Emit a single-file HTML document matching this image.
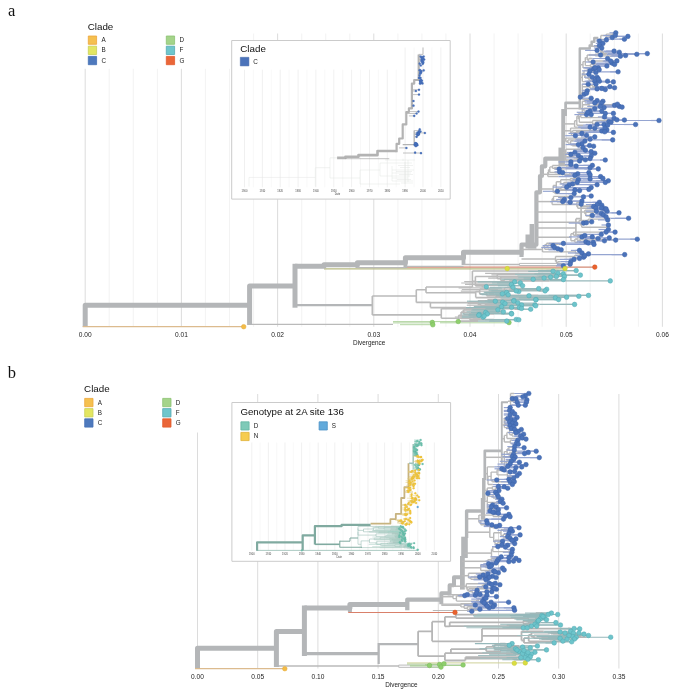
<!DOCTYPE html>
<html><head><meta charset="utf-8"><title>Figure</title><style>html,body{margin:0;padding:0;background:#fff;}body{width:685px;height:695px;overflow:hidden;font-family:"Liberation Sans",sans-serif;}.ss{font-family:"Liberation Sans",sans-serif;}.sf{font-family:"Liberation Serif",serif;}</style></head><body><svg width="685" height="695" viewBox="0 0 685 695" style="display:block;will-change:transform" shape-rendering="geometricPrecision" stroke-linejoin="round"><path d="M85.2,33.5L85.2,326.8" stroke="#d8d8d8" stroke-width="0.9" fill="none"/><path d="M109.2,33.5L109.2,326.8" stroke="#eeeeee" stroke-width="0.7" fill="none"/><path d="M133.3,33.5L133.3,326.8" stroke="#eeeeee" stroke-width="0.7" fill="none"/><path d="M157.4,33.5L157.4,326.8" stroke="#eeeeee" stroke-width="0.7" fill="none"/><path d="M181.4,33.5L181.4,326.8" stroke="#d8d8d8" stroke-width="0.9" fill="none"/><path d="M205.4,33.5L205.4,326.8" stroke="#eeeeee" stroke-width="0.7" fill="none"/><path d="M229.5,33.5L229.5,326.8" stroke="#eeeeee" stroke-width="0.7" fill="none"/><path d="M253.6,33.5L253.6,326.8" stroke="#eeeeee" stroke-width="0.7" fill="none"/><path d="M277.6,33.5L277.6,326.8" stroke="#d8d8d8" stroke-width="0.9" fill="none"/><path d="M301.7,33.5L301.7,326.8" stroke="#eeeeee" stroke-width="0.7" fill="none"/><path d="M325.7,33.5L325.7,326.8" stroke="#eeeeee" stroke-width="0.7" fill="none"/><path d="M349.8,33.5L349.8,326.8" stroke="#eeeeee" stroke-width="0.7" fill="none"/><path d="M373.8,33.5L373.8,326.8" stroke="#d8d8d8" stroke-width="0.9" fill="none"/><path d="M397.9,33.5L397.9,326.8" stroke="#eeeeee" stroke-width="0.7" fill="none"/><path d="M421.9,33.5L421.9,326.8" stroke="#eeeeee" stroke-width="0.7" fill="none"/><path d="M445.9,33.5L445.9,326.8" stroke="#eeeeee" stroke-width="0.7" fill="none"/><path d="M470,33.5L470,326.8" stroke="#d8d8d8" stroke-width="0.9" fill="none"/><path d="M494.1,33.5L494.1,326.8" stroke="#eeeeee" stroke-width="0.7" fill="none"/><path d="M518.1,33.5L518.1,326.8" stroke="#eeeeee" stroke-width="0.7" fill="none"/><path d="M542.1,33.5L542.1,326.8" stroke="#eeeeee" stroke-width="0.7" fill="none"/><path d="M566.2,33.5L566.2,326.8" stroke="#d8d8d8" stroke-width="0.9" fill="none"/><path d="M590.2,33.5L590.2,326.8" stroke="#eeeeee" stroke-width="0.7" fill="none"/><path d="M614.3,33.5L614.3,326.8" stroke="#eeeeee" stroke-width="0.7" fill="none"/><path d="M638.4,33.5L638.4,326.8" stroke="#eeeeee" stroke-width="0.7" fill="none"/><path d="M662.4,33.5L662.4,326.8" stroke="#d8d8d8" stroke-width="0.9" fill="none"/><rect x="79" y="14" width="158" height="54.8" fill="#fff" stroke="none" stroke-width="0"/><path d="M249.6,324.3H393" stroke="#bababa" stroke-width="1.2" fill="none" /><path d="M393,321.6H458.2M393,322.9H432.3M400,324.7H432.8M440,322.8H509" stroke="#b3d5a3" stroke-width="1" fill="none" /><path d="M324,268.8H565" stroke="#b7ba81" stroke-width="1.2" fill="none" /><path d="M405,267.2H594.8" stroke="#d38a75" stroke-width="1.2" fill="none" /><path d="M85.2,327V305.2H249.6" stroke="#b4b6b8" stroke-width="5" fill="none" stroke-linejoin="round"/><path d="M249.6,325V286H295" stroke="#b4b6b8" stroke-width="5" fill="none" /><path d="M295,307.7V263.8" stroke="#b4b6b8" stroke-width="5" fill="none" /><path d="M295,266.3H324V264.8H357.4V262.7H405.4V257.8H463.5V252.3H523.5" stroke="#b4b6b8" stroke-width="5" fill="none" /><path d="M521.5,257V244.7H536.4V192.3H540V176H541.9V166.3H545.3V158.6H560" stroke="#b4b6b8" stroke-width="4.2" fill="none" /><path d="M527.7,248.4V234.4M531.8,248.4V224.1M527.7,246.5H536.4" stroke="#b4b6b8" stroke-width="4.4" fill="none" /><path d="M563.2,148V109" stroke="#b4b6b8" stroke-width="3.9" fill="none" /><path d="M561.7,166.3V147.6" stroke="#b4b6b8" stroke-width="6.5" fill="none" /><path d="M565.6,116V102.9H581" stroke="#b4b6b8" stroke-width="2.7" fill="none" /><path d="M579.8,109.4V48.4H589.7V45.4H591.7V41.8H594.3V38.1H598.3" stroke="#b4b6b8" stroke-width="2.5" fill="none" /><path d="M357.4,262.7V268M405.4,257.8V268M463.5,252.3V265" stroke="#b4b6b8" stroke-width="3.8" fill="none" /><path d="M357.4,267.6H405.4M405.4,266.3H463.5M463.5,264.5H519.4" stroke="#bababa" stroke-width="1.3" fill="none" /><path d="M519.4,263.4H562M519.4,265.5H562M519.4,263.4V265.5" stroke="#bababa" stroke-width="1" fill="none" /><path d="M295,305.2H372" stroke="#b4b6b8" stroke-width="2.2" fill="none" /><path d="M82.7,326.7L243.6,326.7" stroke="#dcbb8e" stroke-width="1.2" fill="none"/><path d="M581.1,206.3V220.7M575.9,218.7V236M575.9,218.7H581.1M581.1,206.3H590M536.4,228H575.9" stroke="#bababa" stroke-width="1.7" fill="none" /><path d="M589.7,46.3L600.8,46.3" stroke="#bababa" stroke-width="1.5" fill="none"/><path d="M600.8,40.3V52.2M600.8,40.3H600.8M600.8,35.5V45.1M600.8,35.5H606.3M606.3,34.1V37M606.3,34.1H612.9M612.9,32.8V35.5M612.9,32.8H613.5M612.9,35.5H613.4M606.3,37H608.9M608.9,36.4V37.5M608.9,36.4H612.7M608.9,37.5H609.6M600.8,45.1H600.8M600.8,40.9V49.3M600.8,40.9H600.8M600.8,39.5V42.2M600.8,39.5H603.9M603.9,39.2V39.9M603.9,39.2H608M603.9,39.9H604.4M600.8,42.2H601.8M601.8,41V43.4M601.8,41H602M601.8,43.4H602.1M600.8,49.3H600.8M600.8,47.5V51.1M600.8,47.5H600.8M600.8,45.7V49.2M600.8,45.7H601.2M600.8,49.2H601.1M601.1,48V50.4M601.1,48H601.5M601.1,50.4H601.5M600.8,51.1H603.5M600.8,52.2H604.5" stroke="#bababa" stroke-width="1.4" fill="none" /><path d="M613.5,32.8H615.8M613.4,35.5H615.3M612.7,36.4H627.9M609.6,37.5H612.3M608,39.2H624.4M604.4,39.9H606.4M602,41H602.8M602.1,43.4H602.9M601.2,45.7H602.8M601.5,48H602.8M601.5,50.4H602.8M603.5,51.1H614.1M604.5,52.2H619.3" stroke="#95a5d1" stroke-width="1.2" fill="none" /><path d="M579.8,64.7L583,64.7" stroke="#bababa" stroke-width="1.5" fill="none"/><path d="M583,61.6V67.9M583,61.6H585.3M585.3,57.6V65.6M585.3,57.6H587.2M587.2,55V60.1M587.2,55H595.2M595.2,54.1V55.9M595.2,54.1H597.5M597.5,53.6V54.6M597.5,53.6H607.5M597.5,54.6H598.9M598.9,54.3V55M598.9,54.3H606.5M598.9,55H599.3M595.2,55.9H619.5M619.5,55.5V56.2M619.5,55.5H620.7M619.5,56.2H619.7M587.2,60.1H588.6M588.6,58.5V61.8M588.6,58.5H592.4M588.6,61.8H591.3M591.3,61V62.6M591.3,61H607.6M607.6,60.9V61.1M607.6,60.9H609.5M607.6,61.1H608.2M591.3,62.6H592.1M592.1,62V63.2M592.1,62H592.3M592.1,63.2H596.2M585.3,65.6H590.5M590.5,64.4V66.8M590.5,64.4H595.3M590.5,66.8H593.2M593.2,66V67.7M593.2,66H595.9M593.2,67.7H593.5M583,67.9H586" stroke="#bababa" stroke-width="1.4" fill="none" /><path d="M607.5,53.6H647.3M606.5,54.3H636.8M599.3,55H600.6M620.7,55.5H625.6M619.7,56.2H620.4M592.4,58.5H607.6M609.5,60.9H616.9M608.2,61.1H610.7M592.3,62H593.1M596.2,63.2H612.3M595.3,64.4H614.6M595.9,66H606.9M593.5,67.7H595M586,67.9H598.3" stroke="#95a5d1" stroke-width="1.2" fill="none" /><path d="M579.8,77.4L582.3,77.4" stroke="#bababa" stroke-width="1.5" fill="none"/><path d="M582.3,73.3V81.6M582.3,73.3H584M584,70.4V76.1M584,70.4H587.4M587.4,69.3V71.5M587.4,69.3H592M592,69V69.7M592,69H592.3M592,69.7H593.4M587.4,71.5H588.9M588.9,70.9V72.2M588.9,70.9H589.1M588.9,72.2H593.1M593.1,71.8V72.5M593.1,71.8H598.1M593.1,72.5H593.6M584,76.1H585.1M585.1,74.2V78.1M585.1,74.2H585.9M585.1,78.1H587.9M587.9,77.2V78.9M587.9,77.2H588.8M587.9,78.9H589.2M589.2,77.2V80.6M589.2,77.2H590.8M589.2,80.6H591.2M591.2,80.1V81.2M591.2,80.1H593.5M593.5,78.9V81.2M593.5,78.9H594.5M593.5,81.2H593.8M591.2,81.2H592.8M582.3,81.6H606.5M606.5,81.2V81.9M606.5,81.2H606.7M606.5,81.9H607.9" stroke="#bababa" stroke-width="1.4" fill="none" /><path d="M592.3,69H593.6M593.4,69.7H599.2M589.1,70.9H590M598.1,71.8H618.1M593.6,72.5H595.9M585.9,74.2H588.9M588.8,77.2H592.4M590.8,77.2H597.1M594.5,78.9H598.3M593.8,81.2H594.8M592.8,81.2H599.4M606.7,81.2H607.6M607.9,81.9H613.4" stroke="#95a5d1" stroke-width="1.2" fill="none" /><path d="M579.8,93.1L582.3,93.1" stroke="#bababa" stroke-width="1.5" fill="none"/><path d="M582.3,86.9V99.4M582.3,86.9H582.3M582.3,84.2V89.6M582.3,84.2H583.5M582.3,89.6H582.3M582.3,86.8V92.3M582.3,86.8H589.9M589.9,85.4V88.2M589.9,85.4H592.4M592.4,84.2V86.6M592.4,84.2H593.1M592.4,86.6H595.9M589.9,88.2H592.3M592.3,87.7V88.7M592.3,87.7H596.8M592.3,88.7H595.8M595.8,88.4V88.9M595.8,88.4H597M595.8,88.9H596.1M582.3,92.3H582.3M582.3,90.2V94.5M582.3,90.2H586.4M586.4,89.6V90.8M586.4,89.6H590.2M586.4,90.8H586.6M582.3,94.5H582.3M582.3,93.3V95.7M582.3,93.3H583.1M582.3,95.7H582.3M582.3,94.3V97.1M582.3,94.3H582.7M582.3,97.1H582.7M582.3,99.4H590.2M590.2,98.2V100.6M590.2,98.2H590.4M590.2,100.6H591.5" stroke="#bababa" stroke-width="1.4" fill="none" /><path d="M583.5,84.2H588.2M593.1,84.2H595.9M595.9,86.6H609.9M596.8,87.7H614.6M597,88.4H601.8M596.1,88.9H597.1M590.2,89.6H605.3M586.6,90.8H587.3M583.1,93.3H586.5M582.7,94.3H584.3M582.7,97.1H584.3M590.4,98.2H591.2M591.5,100.6H597.1" stroke="#95a5d1" stroke-width="1.2" fill="none" /><path d="M565.4,108.5L582.3,108.5" stroke="#bababa" stroke-width="1.5" fill="none"/><path d="M582.3,104.2V112.8M582.3,104.2H582.3M582.3,101.3V107.2M582.3,101.3H586.4M582.3,107.2H582.6M582.6,104.7V109.6M582.6,104.7H589.1M589.1,103V106.3M589.1,103H592.3M592.3,102.9V103.1M592.3,102.9H592.8M592.3,103.1H594.2M589.1,106.3H594.7M594.7,105.6V107.1M594.7,105.6H595.9M595.9,104.8V106.4M595.9,104.8H611.6M611.6,104.2V105.3M611.6,104.2H612.7M611.6,105.3H612.2M595.9,106.4H597.2M597.2,106.4V106.4M597.2,106.4H601.6M597.2,106.4H597.8M594.7,107.1H600.1M582.6,109.6H584M584,108.2V111.1M584,108.2H592M592,107.6V108.8M592,107.6H594.5M592,108.8H592.6M584,111.1H587.3M587.3,111.1V111.1M587.3,111.1H587.9M587.3,111.1H590.2M582.3,112.8H585.5M585.5,112.3V113.4M585.5,112.3H586M585.5,113.4H589.4" stroke="#bababa" stroke-width="1.4" fill="none" /><path d="M586.4,101.3H602.9M592.8,102.9H594.8M594.2,103.1H601.6M612.7,104.2H617.4M612.2,105.3H614.6M601.6,106.4H619.3M597.8,106.4H600.3M600.1,107.1H622.1M594.5,107.6H604.1M592.6,108.8H594.8M587.9,111.1H590.1M590.2,111.1H601.8M586,112.3H587.9M589.4,113.4H605.3" stroke="#95a5d1" stroke-width="1.2" fill="none" /><path d="M563.2,123.9L574.6,123.9" stroke="#bababa" stroke-width="1.5" fill="none"/><path d="M574.6,120.7V127.1M574.6,120.7H576.8M576.8,116.3V125.2M576.8,116.3H578.4M578.4,113.4V119.1M578.4,113.4H585.4M578.4,119.1H579.3M579.3,116.1V122.2M579.3,116.1H580.8M580.8,114.6V117.6M580.8,114.6H583.8M583.8,114.6V114.6M583.8,114.6H584.4M583.8,114.6H585.3M580.8,117.6H603.1M603.1,116.9V118.2M603.1,116.9H603.4M603.1,118.2H605.3M579.3,122.2H592.6M592.6,120.5V123.9M592.6,120.5H605.6M605.6,119.9V121.1M605.6,119.9H614.7M614.7,119.8V120M614.7,119.8H615.1M614.7,120H616.6M605.6,121.1H607.7M607.7,120.5V121.7M607.7,120.5H617.9M607.7,121.7H607.9M592.6,123.9H594.6M594.6,123.3V124.5M594.6,123.3H595.5M595.5,122.1V124.5M595.5,122.1H598.7M595.5,124.5H595.9M594.6,124.5H601.3M601.3,124.5V124.5M601.3,124.5H601.8M601.3,124.5H608.1M576.8,125.2H583M574.6,127.1H577.7" stroke="#bababa" stroke-width="1.4" fill="none" /><path d="M585.4,113.4H613.4M584.4,114.6H586.6M585.3,114.6H591.2M603.4,116.9H604.6M605.3,118.2H614.1M615.1,119.8H616.9M616.6,120H624.4M617.9,120.5H659M607.9,121.7H608.8M598.7,122.1H611.1M595.9,124.5H597.1M601.8,124.5H604.1M608.1,124.5H635.6M583,125.2H607.6M577.7,127.1H590.1" stroke="#95a5d1" stroke-width="1.2" fill="none" /><path d="M563.2,130.8L570.6,130.8" stroke="#bababa" stroke-width="1.5" fill="none"/><path d="M570.6,128.1V133.4M570.6,128.1H593M593,128.1V128.2M593,128.1H595.4M593,128.2H593.4M570.6,133.4H571.5M571.5,131.4V135.4M571.5,131.4H572.6M572.6,130.4V132.4M572.6,130.4H599.4M599.4,129.9V131M599.4,129.9H600.9M599.4,131H599.9M572.6,132.4H575.9M575.9,131.8V132.9M575.9,131.8H581.7M575.9,132.9H578.6M578.6,132.4V133.4M578.6,132.4H585.6M578.6,133.4H579.3M571.5,135.4H573M573,135.2V135.7M573,135.2H575.7M573,135.7H573.5" stroke="#bababa" stroke-width="1.4" fill="none" /><path d="M595.4,128.1H604.9M593.4,128.2H594.8M600.9,129.9H606.9M599.9,131H601.8M581.7,131.8H604.7M585.6,132.4H613.4M579.3,133.4H581.9M575.7,135.2H586.6M573.5,135.7H575.4" stroke="#95a5d1" stroke-width="1.2" fill="none" /><path d="M563.2,139.8L565.7,139.8" stroke="#bababa" stroke-width="1.5" fill="none"/><path d="M565.7,138.1V141.5M565.7,138.1H588.9M588.9,136.9V139.2M588.9,136.9H590.1M588.9,139.2H589.2M565.7,141.5H567.9M567.9,139.9V143.1M567.9,139.9H576.9M567.9,143.1H570.6M570.6,141.1V145.1M570.6,141.1H573.5M570.6,145.1H572.3M572.3,144.2V145.8M572.3,144.2H575.6M575.6,143.9V144.6M575.6,143.9H576.9M575.6,144.6H576.2M572.3,145.8H586.7M586.7,145.5V146.2M586.7,145.5H587.2M586.7,146.2H588" stroke="#bababa" stroke-width="1.4" fill="none" /><path d="M590.1,136.9H594.8M589.2,139.2H590.1M576.9,139.9H612.7M573.5,141.1H584.9M576.9,143.9H581.9M576.2,144.6H578.4M587.2,145.5H589.6M588,146.2H593.6" stroke="#95a5d1" stroke-width="1.2" fill="none" /><path d="M563.2,152.7L565.7,152.7" stroke="#bababa" stroke-width="1.5" fill="none"/><path d="M565.7,149.3V156.1M565.7,149.3H580.6M580.6,147.8V150.9M580.6,147.8H581.1M580.6,150.9H583.1M583.1,150.2V151.6M583.1,150.2H583.5M583.1,151.6H584.7M565.7,156.1H565.7M565.7,153.6V158.7M565.7,153.6H569.9M569.9,152.8V154.4M569.9,152.8H572.5M572.5,152.5V153.2M572.5,152.5H572.9M572.5,153.2H576.9M569.9,154.4H570.1M565.7,158.7H565.7M565.7,156.7V160.7M565.7,156.7H573.8M573.8,155.6V157.8M573.8,155.6H574.7M573.8,157.8H576.6M576.6,156.9V158.6M576.6,156.9H578.4M578.4,156V157.9M578.4,156H581M578.4,157.9H579M576.6,158.6H579.3M565.7,160.7H566.5M566.5,159.9V161.4M566.5,159.9H583.4M583.4,159.8V160M583.4,159.8H583.8M583.4,160H587.8M566.5,161.4H568.7M568.7,160.9V161.9M568.7,160.9H570.9M568.7,161.9H569.1" stroke="#bababa" stroke-width="1.4" fill="none" /><path d="M581.1,147.8H583.1M583.5,150.2H585.4M584.7,151.6H591.2M572.9,152.5H574.9M576.9,153.2H594.8M570.1,154.4H570.9M574.7,155.6H578.4M581,156H591.2M579,157.9H581.2M579.3,158.6H590.1M583.8,159.8H585.4M587.8,160H605.3M570.9,160.9H579.6M569.1,161.9H570.9" stroke="#95a5d1" stroke-width="1.2" fill="none" /><path d="M541.9,174.3L547.8,174.3" stroke="#bababa" stroke-width="1.5" fill="none"/><path d="M547.8,172.1V176.6M547.8,172.1H548.5M548.5,169.7V174.5M548.5,169.7H549.8M549.8,166.9V172.4M549.8,166.9H552.4M552.4,165.5V168.3M552.4,165.5H565.9M565.9,164.9V166.1M565.9,164.9H567.7M567.7,164.4V165.4M567.7,164.4H568.3M567.7,165.4H572.6M565.9,166.1H567.9M552.4,168.3H554.2M554.2,167.7V169M554.2,167.7H561.4M554.2,169H557M557,168.9V169.1M557,168.9H565.3M557,169.1H557.4M549.8,172.4H554.8M554.8,172.2V172.6M554.8,172.2H556.5M556.5,171.9V172.6M556.5,171.9H557.1M556.5,172.6H557.7M554.8,172.6H561.6M548.5,174.5H569.1M569.1,173.8V175.2M569.1,173.8H570.8M569.1,175.2H571.9M571.9,174.9V175.4M571.9,174.9H575.6M571.9,175.4H572.5M547.8,176.6H558.4" stroke="#bababa" stroke-width="1.4" fill="none" /><path d="M568.3,164.4H570.9M572.6,165.4H592.4M567.9,166.1H576.1M561.4,167.7H590.1M565.3,168.9H598.3M557.4,169.1H559.2M557.1,171.9H559.7M557.7,172.6H562.7M561.6,172.6H588.9M570.8,173.8H577.7M575.6,174.9H590.1M572.5,175.4H574.9M558.4,176.6H600.6" stroke="#95a5d1" stroke-width="1.2" fill="none" /><path d="M540,189L553.2,189" stroke="#bababa" stroke-width="1.5" fill="none"/><path d="M553.2,185.5V192.4M553.2,185.5H556.3M556.3,181.7V189.3M556.3,181.7H560.7M560.7,179.8V183.6M560.7,179.8H570.1M570.1,178.8V180.8M570.1,178.8H573.2M573.2,178.4V179.2M573.2,178.4H579.1M573.2,179.2H576.3M576.3,178.9V179.6M576.3,178.9H579M576.3,179.6H576.7M570.1,180.8H577.7M560.7,183.6H563.7M563.7,182.4V184.8M563.7,182.4H573.8M573.8,182.4V182.4M573.8,182.4H580.1M573.8,182.4H574.5M563.7,184.8H567M567,184.3V185.2M567,184.3H571.5M571.5,184V184.7M571.5,184H571.7M571.5,184.7H576.6M567,185.2H567.4M556.3,189.3H557.9M557.9,188.4V190.2M557.9,188.4H560.9M560.9,187.3V189.4M560.9,187.3H564M564,187.1V187.6M564,187.1H564.5M564,187.6H569.4M560.9,189.4H566.5M557.9,190.2H573.2M573.2,189.9V190.6M573.2,189.9H573.6M573.2,190.6H574.5M553.2,192.4H554.8M554.8,191.3V193.6M554.8,191.3H555.3M554.8,193.6H558.7" stroke="#bababa" stroke-width="1.4" fill="none" /><path d="M579.1,178.4H602.9M579,178.9H590.1M576.7,179.6H578.4M577.7,180.8H608.3M580.1,182.4H605.3M574.5,182.4H577.2M571.7,184H572.6M576.6,184.7H597.1M567.4,185.2H569.1M564.5,187.1H566.7M569.4,187.6H591.2M566.5,189.4H588.9M573.6,189.9H574.9M574.5,190.6H579.6M555.3,191.3H557.4M558.7,193.6H574.2" stroke="#95a5d1" stroke-width="1.2" fill="none" /><path d="M536.4,201.6L552.1,201.6" stroke="#bababa" stroke-width="1.5" fill="none"/><path d="M552.1,198.7V204.5M552.1,198.7H553.5M553.5,196.4V200.9M553.5,196.4H581M581,196V196.9M581,196H583M581,196.9H581.5M553.5,200.9H556.9M556.9,199.8V201.9M556.9,199.8H560.5M560.5,198.6V201.1M560.5,198.6H563.5M563.5,197.6V199.5M563.5,197.6H565M563.5,199.5H563.7M560.5,201.1H564.8M556.9,201.9H559.9M559.9,201.6V202.3M559.9,201.6H560.5M559.9,202.3H562M552.1,204.5H576.8M576.8,202.3V206.7M576.8,202.3H581.3M576.8,206.7H577.7M577.7,205.1V208.3M577.7,205.1H579.9M579.9,204.1V206.1M579.9,204.1H580.2M579.9,206.1H590.2M590.2,204.9V207.2M590.2,204.9H593.7M593.7,204.6V205.3M593.7,204.6H594.4M593.7,205.3H595.3M590.2,207.2H592.3M592.3,206.5V208M592.3,206.5H592.5M592.3,208H594.1M577.7,208.3H593.1M593.1,208.1V208.6M593.1,208.1H593.6M593.1,208.6H595.3" stroke="#bababa" stroke-width="1.4" fill="none" /><path d="M583,196H591.2M581.5,196.9H583.5M565,197.6H570.9M563.7,199.5H564.4M564.8,201.1H581.9M560.5,201.6H562.8M562,202.3H570.2M581.3,202.3H599.4M580.2,204.1H581.2M594.4,204.6H597.1M595.3,205.3H601.8M592.5,206.5H593.6M594.1,208H601.3M593.6,208.1H595.9M595.3,208.6H604.1" stroke="#95a5d1" stroke-width="1.2" fill="none" /><path d="M536.4,212.1L584.9,212.1" stroke="#bababa" stroke-width="1.5" fill="none"/><path d="M584.9,210.1V214.1M584.9,210.1H594.6M594.6,208.9V211.2M594.6,208.9H596.9M594.6,211.2H595M584.9,214.1H585.8M585.8,212.2V216M585.8,212.2H596.2M596.2,211.2V213.2M596.2,211.2H598.4M596.2,213.2H599.4M599.4,212.8V213.5M599.4,212.8H603.3M599.4,213.5H599.8M585.8,216H589M589,215.1V216.8M589,215.1H590.3M590.3,214.8V215.4M590.3,214.8H592.9M590.3,215.4H590.7M589,216.8H592.4" stroke="#bababa" stroke-width="1.4" fill="none" /><path d="M596.9,208.9H606.1M595,211.2H596.5M598.4,211.2H607.1M603.3,212.8H619M599.8,213.5H601.3M592.9,214.8H603.5M590.7,215.4H592.3M592.4,216.8H606.1" stroke="#95a5d1" stroke-width="1.2" fill="none" /><path d="M536.4,222.2L579.1,222.2" stroke="#bababa" stroke-width="1.5" fill="none"/><path d="M579.1,220.5V223.9M579.1,220.5H588.2M588.2,219.1V221.8M588.2,219.1H606M606,218.3V219.9M606,218.3H610.5M606,219.9H606.4M588.2,221.8H588.9M579.1,223.9H580.7M580.7,222.7V225.2M580.7,222.7H581.8M580.7,225.2H581.7M581.7,223.1V227.2M581.7,223.1H582.1M581.7,227.2H606.9M606.9,225V229.5M606.9,225H607.2M606.9,229.5H607.2" stroke="#bababa" stroke-width="1.4" fill="none" /><path d="M610.5,218.3H628.6M606.4,219.9H607.7M588.9,221.8H591.7M581.8,222.7H586.4M582.1,223.1H583.6M607.2,225H608.4M607.2,229.5H608.4" stroke="#95a5d1" stroke-width="1.2" fill="none" /><path d="M536.4,237.2L570.9,237.2" stroke="#bababa" stroke-width="1.5" fill="none"/><path d="M570.9,233.7V240.7M570.9,233.7H573.5M573.5,232.1V235.3M573.5,232.1H604.4M604.4,232.1V232.1M604.4,232.1H604.7M604.4,232.1H606.5M573.5,235.3H576.8M576.8,234.4V236.2M576.8,234.4H581.7M576.8,236.2H578.3M578.3,235.6V236.9M578.3,235.6H579.6M578.3,236.9H580.3M580.3,236.9V236.9M580.3,236.9H580.6M580.3,236.9H582.7M570.9,240.7H574.9M574.9,239V242.4M574.9,239H577.1M577.1,237.9V240.2M577.1,237.9H583.5M577.1,240.2H580.3M580.3,239.1V241.2M580.3,239.1H595.4M595.4,238.5V239.6M595.4,238.5H596M595.4,239.6H613.5M613.5,239.2V240.1M613.5,239.2H618.2M613.5,240.1H613.9M580.3,241.2H583.8M583.8,240.8V241.7M583.8,240.8H588M583.8,241.7H584.2M574.9,242.4H578.6" stroke="#bababa" stroke-width="1.4" fill="none" /><path d="M604.7,232.1H606.1M606.5,232.1H615.1M581.7,234.4H601.3M579.6,235.6H584.8M580.6,236.9H582M582.7,236.9H592.3M583.5,237.9H609.3M596,238.5H598.1M618.2,239.2H637.3M613.9,240.1H615.7M588,240.8H604.5M584.2,241.7H585.9M578.6,242.4H593.3" stroke="#95a5d1" stroke-width="1.2" fill="none" /><path d="M521.5,249.5L542.5,249.5" stroke="#bababa" stroke-width="1.5" fill="none"/><path d="M542.5,247V251.9M542.5,247H544.7M544.7,244.7V249.3M544.7,244.7H546.5M546.5,243.2V246.2M546.5,243.2H560.6M560.6,243V243.4M560.6,243H566.1M560.6,243.4H561.1M546.5,246.2H547.7M547.7,245V247.5M547.7,245H550.1M550.1,244.4V245.6M550.1,244.4H558.8M550.1,245.6H550.7M547.7,247.5H549.1M544.7,249.3H556.3M556.3,248.8V249.8M556.3,248.8H556.6M556.3,249.8H557.2M542.5,251.9H575.5M575.5,250.4V253.4M575.5,250.4H576.3M575.5,253.4H578.9M578.9,253V253.9M578.9,253H579.5M578.9,253.9H580.8" stroke="#bababa" stroke-width="1.4" fill="none" /><path d="M566.1,243H588.3M561.1,243.4H563.4M558.8,244.4H594M550.7,245.6H553.1M549.1,247.5H554.7M556.6,248.8H557.9M557.2,249.8H561.2M576.3,250.4H579.5M579.5,253H582M580.8,253.9H588.5" stroke="#95a5d1" stroke-width="1.2" fill="none" /><path d="M521.5,258.9L555.5,258.9" stroke="#bababa" stroke-width="1.5" fill="none"/><path d="M555.5,256.5V261.4M555.5,256.5H574.9M574.9,255.1V257.8M574.9,255.1H582.9M582.9,254.6V255.7M582.9,254.6H591.3M582.9,255.7H583.3M574.9,257.8H577.3M577.3,257.2V258.4M577.3,257.2H578.6M577.3,258.4H577.8M555.5,261.4H556.5M556.5,259.4V263.4M556.5,259.4H560M556.5,263.4H557.7M557.7,261.7V265M557.7,261.7H560.3M557.7,265H561.1M561.1,264.2V265.8M561.1,264.2H562.9M561.1,265.8H561.6" stroke="#bababa" stroke-width="1.4" fill="none" /><path d="M591.3,254.6H624.7M583.3,255.7H584.8M578.6,257.2H583.6M577.8,258.4H579.5M560,259.4H574M560.3,261.7H570.8M562.9,264.2H570.1M561.6,265.8H563.4" stroke="#95a5d1" stroke-width="1.2" fill="none" /><path d="M372.3,296V314.9M372.3,296H416.3M416.3,289.7V302.4M416.3,289.7H426M426,287V292.7M426,287H472.4M472.4,271V287M472.4,271H546.5M546.5,270.6V271.3M546.5,270.6H558.4M546.5,271.3H549.1M472.4,281.2H475.4M475.4,276.5V285.9M475.4,276.5H497.3M497.3,274.3V278.8M497.3,274.3H550.8M550.8,273.5V275.1M550.8,273.5H555M555,273.2V273.9M555,273.2H556.2M555,273.9H558.4M550.8,275.1H562.7M497.3,278.8H500.7M500.7,277V280.6M500.7,277H536.6M536.6,276.4V277.6M536.6,276.4H551.9M551.9,276.4V276.4M551.9,276.4H553.7M551.9,276.4H556.9M536.6,277.6H541.5M541.5,277.1V278M541.5,277.1H545.2M541.5,278H542.6M500.7,280.6H504M504,279.5V281.6M504,279.5H527.8M527.8,279.3V279.6M527.8,279.3H530M527.8,279.6H542.1M504,281.6H509.3M509.3,280.9V282.4M509.3,280.9H549.7M509.3,282.4H512M512,281.9V282.9M512,281.9H513.1M512,282.9H515.4M475.4,285.9H481.6M481.6,285.1V286.7M481.6,285.1H507.2M507.2,284.5V285.7M507.2,284.5H508.9M507.2,285.7H513.3M481.6,286.7H483.5M426,292.7H475.7M475.7,291.6V297.6M475.7,291.6H479.7M479.7,289V294.2M479.7,289H504.5M504.5,288V290.1M504.5,288H509.4M509.4,287.3V288.6M509.4,287.3H510.9M509.4,288.6H521.1M504.5,290.1H539.1M539.1,289.3V290.9M539.1,289.3H542.1M539.1,290.9H541.5M479.7,294.2H486.6M486.6,292.6V295.8M486.6,292.6H489.3M489.3,291.4V293.8M489.3,291.4H495.6M495.6,290.9V292M495.6,290.9H503.8M495.6,292H500.4M500.4,291.5V292.5M500.4,291.5H507.8M500.4,292.5H502.9M489.3,293.8H494.6M486.6,295.8H495.2M495.2,295.4V296.3M495.2,295.4H501.7M501.7,295V295.7M501.7,295H505M505,294.7V295.4M505,294.7H506.3M505,295.4H538.4M501.7,295.7H512.6M495.2,296.3H528.6M475.7,297.6H553.2M553.2,297.3V297.9M553.2,297.3H558.5M553.2,297.9H554.1M416.3,302.4H430.4M430.4,302.4V307.6M430.4,302.6H478M478,300.8V304.4M478,300.8H487.4M487.4,299.9V301.6M487.4,299.9H500.3M500.3,299.6V300.2M500.3,299.6H523.6M500.3,300.2H506.2M506.2,299.6V300.8M506.2,299.6H531.2M531.2,299.6V299.7M531.2,299.6H533.2M531.2,299.7H533M506.2,300.8H511.2M511.2,300.5V301M511.2,300.5H512.3M511.2,301H512.2M487.4,301.6H492.7M492.7,301.2V302.1M492.7,301.2H493.7M492.7,302.1H496.7M478,304.4H480.5M480.5,303.2V305.6M480.5,303.2H499.6M499.6,302.8V303.6M499.6,302.8H506.9M499.6,303.6H501.8M480.5,305.6H484.7M484.7,304.9V306.4M484.7,304.9H511.6M511.6,304.7V305M511.6,304.7H515.8M515.8,304.4V305M515.8,304.4H539.3M515.8,305H518.2M511.6,305H520.9M484.7,306.4H491.1M491.1,305.8V307M491.1,305.8H509M491.1,307H496M496,306.6V307.3M496,306.6H498.3M496,307.3H502.2M430.4,307.6H466M372.3,314.9H441.3M441.3,308.8V318.2M441.3,308.8H514.6M514.6,308.4V309.2M514.6,308.4H517.3M514.6,309.2H521M441.3,318.2H458.7M458.7,315.3V321.1M458.7,315.3H461.1M461.1,312.1V318.5M461.1,312.1H463.7M463.7,309.8V314.4M463.7,309.8H477.4M463.7,314.4H469.1M469.1,313.5V315.2M469.1,313.5H470.6M470.6,312.8V314.3M470.6,312.8H476.7M476.7,312.1V313.4M476.7,312.1H480M480,311.8V312.4M480,311.8H489.4M480,312.4H482.3M476.7,313.4H490.6M470.6,314.3H475.4M475.4,313.9V314.6M475.4,313.9H483M483,313.9V314M483,313.9H494.4M483,314H484.7M475.4,314.6H477M469.1,315.2H473M461.1,318.5H469.8M469.8,317.2V319.8M469.8,317.2H473.5M473.5,316.1V318.4M473.5,316.1H477.8M473.5,318.4H479.1M479.1,317.2V319.5M479.1,317.2H480.7M479.1,319.5H493.9M469.8,319.8H489.4M458.7,321.1H478" stroke="#bababa" stroke-width="1.6" fill="none" /><path d="M558.4,270.6H576.2M549.1,271.3H553.1M556.2,273.2H557.9M558.4,273.9H563.4M562.7,275.1H580.4M553.7,276.4H556.3M556.9,276.4H564.4M545.2,277.1H550.6M542.6,278H544.1M530,279.3H533.2M542.1,279.6H563.4M549.7,280.9H610.3M513.1,281.9H514.6M515.4,282.9H520.4M508.9,284.5H511.4M513.3,285.7H522.6M483.5,286.7H486.3M510.9,287.3H513M521.1,288.6H538.7M542.1,289.3H546.7M541.5,290.9H545.1M503.8,290.9H516.2M507.8,291.5H518.8M502.9,292.5H506.6M494.6,293.8H502.4M506.3,294.7H508.2M538.4,295.4H588.5M512.6,295.7H529M528.6,296.3H578.8M558.5,297.3H566.6M554.1,297.9H555.4M523.6,299.6H558.6M533.2,299.6H536.1M533,299.7H535.7M512.3,300.5H514M512.2,301H513.8M493.7,301.2H495.3M496.7,302.1H502.7M506.9,302.8H517.8M501.8,303.6H505M539.3,304.4H574.6M518.2,305H521.7M520.9,305H534.8M509,305.8H535.7M498.3,306.6H501.7M502.2,307.3H511.6M466,307.6H519.4M517.3,308.4H521.5M521,309.2H530.7M477.4,309.8H497.9M489.4,311.8H503.4M482.3,312.4H485.7M490.6,313.4H511.4M494.4,313.9H511.6M484.7,314H487.3M477,314.6H479.3M473,315.2H478.8M477.8,316.1H484.2M480.7,317.2H483.1M493.9,319.5H516.2M489.4,319.8H518.8M478,321.1H506.8" stroke="#96b8ba" stroke-width="1.1" fill="none" /><path d="M485.1,273.3L553.9,273.3" stroke="#bcbcbc" stroke-width="1.2" fill="none"/><path d="M491.4,274.9L552,274.9" stroke="#bcbcbc" stroke-width="1.2" fill="none"/><path d="M491.9,276.6L551.3,276.6" stroke="#bcbcbc" stroke-width="1.2" fill="none"/><path d="M488.2,278.2L551,278.2" stroke="#bcbcbc" stroke-width="1.2" fill="none"/><path d="M515,274.3L560.8,274.3" stroke="#a3c0c1" stroke-width="1.2" fill="none"/><path d="M517.4,276L553.6,276" stroke="#a3c0c1" stroke-width="1.2" fill="none"/><path d="M518.3,277.7L558.4,277.7" stroke="#a3c0c1" stroke-width="1.2" fill="none"/><path d="M464.2,281.7L511.1,281.7" stroke="#bcbcbc" stroke-width="1.2" fill="none"/><path d="M461.2,283L512,283" stroke="#bcbcbc" stroke-width="1.2" fill="none"/><path d="M465,284.3L509.9,284.3" stroke="#bcbcbc" stroke-width="1.2" fill="none"/><path d="M492.1,282.9L514.7,282.9" stroke="#a3c0c1" stroke-width="1.2" fill="none"/><path d="M489.2,284.6L514.2,284.6" stroke="#a3c0c1" stroke-width="1.2" fill="none"/><path d="M458.6,287.8L501.4,287.8" stroke="#bcbcbc" stroke-width="1.2" fill="none"/><path d="M461.8,289.5L498.1,289.5" stroke="#bcbcbc" stroke-width="1.2" fill="none"/><path d="M460.8,291.2L504.4,291.2" stroke="#bcbcbc" stroke-width="1.2" fill="none"/><path d="M486,288.8L502.3,288.8" stroke="#a3c0c1" stroke-width="1.2" fill="none"/><path d="M488.6,290.5L506.7,290.5" stroke="#a3c0c1" stroke-width="1.2" fill="none"/><path d="M483.7,292.2L506.6,292.2" stroke="#a3c0c1" stroke-width="1.2" fill="none"/><path d="M500.6,295.6L560.3,295.6" stroke="#a3c0c1" stroke-width="1.2" fill="none"/><path d="M499.1,296.8L565,296.8" stroke="#a3c0c1" stroke-width="1.2" fill="none"/><path d="M501.1,297.9L562,297.9" stroke="#a3c0c1" stroke-width="1.2" fill="none"/><path d="M496.1,303.1L536.8,303.1" stroke="#a3c0c1" stroke-width="1.2" fill="none"/><path d="M490.2,304.2L533.2,304.2" stroke="#a3c0c1" stroke-width="1.2" fill="none"/><path d="M495.9,305.4L529.6,305.4" stroke="#a3c0c1" stroke-width="1.2" fill="none"/><path d="M469.2,301.8L492.5,301.8" stroke="#bcbcbc" stroke-width="1.2" fill="none"/><path d="M467.6,303.5L495.8,303.5" stroke="#bcbcbc" stroke-width="1.2" fill="none"/><path d="M466.8,305.2L494.5,305.2" stroke="#bcbcbc" stroke-width="1.2" fill="none"/><path d="M465.2,309.7L494.5,309.7" stroke="#bcbcbc" stroke-width="1.2" fill="none"/><path d="M462.1,311L498.7,311" stroke="#bcbcbc" stroke-width="1.2" fill="none"/><path d="M462.5,312.3L499,312.3" stroke="#bcbcbc" stroke-width="1.2" fill="none"/><path d="M471.1,310.2L503.1,310.2" stroke="#a3c0c1" stroke-width="1.2" fill="none"/><path d="M466.6,311.8L501,311.8" stroke="#a3c0c1" stroke-width="1.2" fill="none"/><path d="M472.1,313.2L495.5,313.2" stroke="#a3c0c1" stroke-width="1.2" fill="none"/><path d="M458.4,315.7L476.6,315.7" stroke="#bcbcbc" stroke-width="1.1" fill="none"/><path d="M454.8,317L476.7,317" stroke="#bcbcbc" stroke-width="1.1" fill="none"/><path d="M455,318.3L481.1,318.3" stroke="#bcbcbc" stroke-width="1.1" fill="none"/><path d="M538,270.6L576.2,270.6" stroke="#96b8ba" stroke-width="1.1" fill="none"/><path d="M528.2,271.3L553.1,271.3" stroke="#96b8ba" stroke-width="1.1" fill="none"/><path d="M538.2,273.2L557.9,273.2" stroke="#96b8ba" stroke-width="1.1" fill="none"/><path d="M534.4,273.9L563.4,273.9" stroke="#96b8ba" stroke-width="1.1" fill="none"/><path d="M539.2,276.4L556.3,276.4" stroke="#96b8ba" stroke-width="1.1" fill="none"/><path d="M546.9,276.4L564.4,276.4" stroke="#96b8ba" stroke-width="1.1" fill="none"/><path d="M564.6,275.1L580.4,275.1" stroke="#96b8ba" stroke-width="1.1" fill="none"/><path d="M537.6,277.1L550.6,277.1" stroke="#96b8ba" stroke-width="1.1" fill="none"/><path d="M523.6,278L544.1,278" stroke="#96b8ba" stroke-width="1.1" fill="none"/><path d="M501.3,279.3L533.2,279.3" stroke="#96b8ba" stroke-width="1.1" fill="none"/><path d="M523.8,279.6L563.4,279.6" stroke="#96b8ba" stroke-width="1.1" fill="none"/><path d="M477.6,281.9L514.6,281.9" stroke="#96b8ba" stroke-width="1.1" fill="none"/><path d="M497.1,282.9L520.4,282.9" stroke="#96b8ba" stroke-width="1.1" fill="none"/><path d="M497.9,285.7L522.6,285.7" stroke="#96b8ba" stroke-width="1.1" fill="none"/><path d="M490,287.3L513,287.3" stroke="#96b8ba" stroke-width="1.1" fill="none"/><path d="M519.4,289.3L546.7,289.3" stroke="#96b8ba" stroke-width="1.1" fill="none"/><path d="M517.1,290.9L545.1,290.9" stroke="#96b8ba" stroke-width="1.1" fill="none"/><path d="M504.3,291.5L518.8,291.5" stroke="#96b8ba" stroke-width="1.1" fill="none"/><path d="M491.3,290.9L516.2,290.9" stroke="#96b8ba" stroke-width="1.1" fill="none"/><path d="M484.4,292.5L506.6,292.5" stroke="#96b8ba" stroke-width="1.1" fill="none"/><path d="M479.8,293.8L502.4,293.8" stroke="#96b8ba" stroke-width="1.1" fill="none"/><path d="M481.6,294.7L508.2,294.7" stroke="#96b8ba" stroke-width="1.1" fill="none"/><path d="M496.1,295.7L529,295.7" stroke="#96b8ba" stroke-width="1.1" fill="none"/><path d="M548.6,295.4L588.5,295.4" stroke="#96b8ba" stroke-width="1.1" fill="none"/><path d="M551,297.3L566.6,297.3" stroke="#96b8ba" stroke-width="1.1" fill="none"/><path d="M518.8,297.9L555.4,297.9" stroke="#96b8ba" stroke-width="1.1" fill="none"/><path d="M530.6,299.6L558.6,299.6" stroke="#96b8ba" stroke-width="1.1" fill="none"/><path d="M519.4,299.6L536.1,299.6" stroke="#96b8ba" stroke-width="1.1" fill="none"/><path d="M487.9,300.5L514,300.5" stroke="#96b8ba" stroke-width="1.1" fill="none"/><path d="M467,301.2L495.3,301.2" stroke="#96b8ba" stroke-width="1.1" fill="none"/><path d="M488.6,302.1L502.7,302.1" stroke="#96b8ba" stroke-width="1.1" fill="none"/><path d="M478.4,302.8L517.8,302.8" stroke="#96b8ba" stroke-width="1.1" fill="none"/><path d="M525.5,305L534.8,305" stroke="#96b8ba" stroke-width="1.1" fill="none"/><path d="M557.9,304.4L574.6,304.4" stroke="#96b8ba" stroke-width="1.1" fill="none"/><path d="M473.8,306.6L501.7,306.6" stroke="#96b8ba" stroke-width="1.1" fill="none"/><path d="M494.1,307.6L519.4,307.6" stroke="#96b8ba" stroke-width="1.1" fill="none"/><path d="M519.9,309.2L530.7,309.2" stroke="#96b8ba" stroke-width="1.1" fill="none"/><path d="M472.3,309.8L497.9,309.8" stroke="#96b8ba" stroke-width="1.1" fill="none"/><path d="M483.5,311.8L503.4,311.8" stroke="#96b8ba" stroke-width="1.1" fill="none"/><path d="M471,312.4L485.7,312.4" stroke="#96b8ba" stroke-width="1.1" fill="none"/><path d="M479.6,313.4L511.4,313.4" stroke="#96b8ba" stroke-width="1.1" fill="none"/><path d="M468.9,314.6L479.3,314.6" stroke="#96b8ba" stroke-width="1.1" fill="none"/><path d="M462,314L487.3,314" stroke="#96b8ba" stroke-width="1.1" fill="none"/><path d="M462,317.2L483.1,317.2" stroke="#96b8ba" stroke-width="1.1" fill="none"/><path d="M494.6,319.5L516.2,319.5" stroke="#96b8ba" stroke-width="1.1" fill="none"/><path d="M484.9,319.8L518.8,319.8" stroke="#96b8ba" stroke-width="1.1" fill="none"/><path d="M484.9,301L513.8,301" stroke="#96b8ba" stroke-width="1.1" fill="none"/><path d="M510.1,299.7L535.7,299.7" stroke="#96b8ba" stroke-width="1.1" fill="none"/><path d="M498.2,305.8L535.7,305.8" stroke="#96b8ba" stroke-width="1.1" fill="none"/><path d="M491.8,307.3L511.6,307.3" stroke="#96b8ba" stroke-width="1.1" fill="none"/><path d="M485.5,308.4L521.5,308.4" stroke="#96b8ba" stroke-width="1.1" fill="none"/><path d="M500.9,313.9L511.6,313.9" stroke="#96b8ba" stroke-width="1.1" fill="none"/><path d="M462,316.1L484.2,316.1" stroke="#96b8ba" stroke-width="1.1" fill="none"/><path d="M489.2,321.1L506.8,321.1" stroke="#96b8ba" stroke-width="1.1" fill="none"/><path d="M468.4,315.2L478.8,315.2" stroke="#96b8ba" stroke-width="1.1" fill="none"/><path d="M609.5,32.8L615.8,32.8" stroke="#95a5d1" stroke-width="1.2" fill="none"/><path d="M616.6,36.4L627.9,36.4" stroke="#95a5d1" stroke-width="1.2" fill="none"/><path d="M619.5,39.2L624.4,39.2" stroke="#95a5d1" stroke-width="1.2" fill="none"/><path d="M605,37.5L612.3,37.5" stroke="#95a5d1" stroke-width="1.2" fill="none"/><path d="M596.3,39.9L606.4,39.9" stroke="#95a5d1" stroke-width="1.2" fill="none"/><path d="M596.3,41L599.4,41" stroke="#95a5d1" stroke-width="1.2" fill="none"/><path d="M595.8,43.4L602.9,43.4" stroke="#95a5d1" stroke-width="1.2" fill="none"/><path d="M593.8,45.7L599.4,45.7" stroke="#95a5d1" stroke-width="1.2" fill="none"/><path d="M593.9,48L601.8,48" stroke="#95a5d1" stroke-width="1.2" fill="none"/><path d="M585.1,50.4L597.1,50.4" stroke="#95a5d1" stroke-width="1.2" fill="none"/><path d="M606.1,51.1L614.1,51.1" stroke="#95a5d1" stroke-width="1.2" fill="none"/><path d="M614,52.2L619.3,52.2" stroke="#95a5d1" stroke-width="1.2" fill="none"/><path d="M588.8,55L600.6,55" stroke="#95a5d1" stroke-width="1.2" fill="none"/><path d="M610.1,56.2L620.4,56.2" stroke="#95a5d1" stroke-width="1.2" fill="none"/><path d="M611.5,55.5L625.6,55.5" stroke="#95a5d1" stroke-width="1.2" fill="none"/><path d="M622.5,54.3L636.8,54.3" stroke="#95a5d1" stroke-width="1.2" fill="none"/><path d="M633.3,53.6L647.3,53.6" stroke="#95a5d1" stroke-width="1.2" fill="none"/><path d="M598.8,58.5L607.6,58.5" stroke="#95a5d1" stroke-width="1.2" fill="none"/><path d="M604.1,60.9L616.9,60.9" stroke="#95a5d1" stroke-width="1.2" fill="none"/><path d="M585.7,62L593.1,62" stroke="#95a5d1" stroke-width="1.2" fill="none"/><path d="M604.8,63.2L612.3,63.2" stroke="#95a5d1" stroke-width="1.2" fill="none"/><path d="M606.2,64.4L614.6,64.4" stroke="#95a5d1" stroke-width="1.2" fill="none"/><path d="M592.6,66L606.9,66" stroke="#95a5d1" stroke-width="1.2" fill="none"/><path d="M584.5,67.9L598.3,67.9" stroke="#95a5d1" stroke-width="1.2" fill="none"/><path d="M586.9,69L593.6,69" stroke="#95a5d1" stroke-width="1.2" fill="none"/><path d="M582,70.9L590,70.9" stroke="#95a5d1" stroke-width="1.2" fill="none"/><path d="M610.1,71.8L618.1,71.8" stroke="#95a5d1" stroke-width="1.2" fill="none"/><path d="M581.8,74.2L588.9,74.2" stroke="#95a5d1" stroke-width="1.2" fill="none"/><path d="M587.5,72.5L595.9,72.5" stroke="#95a5d1" stroke-width="1.2" fill="none"/><path d="M584.1,77.2L592.4,77.2" stroke="#95a5d1" stroke-width="1.2" fill="none"/><path d="M591,77.2L597.1,77.2" stroke="#95a5d1" stroke-width="1.2" fill="none"/><path d="M584.6,81.2L594.8,81.2" stroke="#95a5d1" stroke-width="1.2" fill="none"/><path d="M586.6,81.2L599.4,81.2" stroke="#95a5d1" stroke-width="1.2" fill="none"/><path d="M597.7,81.2L607.6,81.2" stroke="#95a5d1" stroke-width="1.2" fill="none"/><path d="M600.2,81.9L613.4,81.9" stroke="#95a5d1" stroke-width="1.2" fill="none"/><path d="M581.8,84.2L588.2,84.2" stroke="#95a5d1" stroke-width="1.2" fill="none"/><path d="M590,84.2L595.9,84.2" stroke="#95a5d1" stroke-width="1.2" fill="none"/><path d="M597.6,86.6L609.9,86.6" stroke="#95a5d1" stroke-width="1.2" fill="none"/><path d="M600.9,87.7L614.6,87.7" stroke="#95a5d1" stroke-width="1.2" fill="none"/><path d="M590,88.9L597.1,88.9" stroke="#95a5d1" stroke-width="1.2" fill="none"/><path d="M601.1,89.6L605.3,89.6" stroke="#95a5d1" stroke-width="1.2" fill="none"/><path d="M592.1,88.4L601.8,88.4" stroke="#95a5d1" stroke-width="1.2" fill="none"/><path d="M581.8,90.8L587.3,90.8" stroke="#95a5d1" stroke-width="1.2" fill="none"/><path d="M581.8,94.3L584.2,94.3" stroke="#95a5d1" stroke-width="1.2" fill="none"/><path d="M581.8,97.1L580.3,97.1" stroke="#95a5d1" stroke-width="1.2" fill="none"/><path d="M581.8,98.2L591.2,98.2" stroke="#95a5d1" stroke-width="1.2" fill="none"/><path d="M584.3,100.6L597.1,100.6" stroke="#95a5d1" stroke-width="1.2" fill="none"/><path d="M598.2,101.3L602.9,101.3" stroke="#95a5d1" stroke-width="1.2" fill="none"/><path d="M584.8,102.9L594.8,102.9" stroke="#95a5d1" stroke-width="1.2" fill="none"/><path d="M601.9,105.3L614.6,105.3" stroke="#95a5d1" stroke-width="1.2" fill="none"/><path d="M614.4,106.4L619.3,106.4" stroke="#95a5d1" stroke-width="1.2" fill="none"/><path d="M617.2,107.1L622.1,107.1" stroke="#95a5d1" stroke-width="1.2" fill="none"/><path d="M592,107.6L604.1,107.6" stroke="#95a5d1" stroke-width="1.2" fill="none"/><path d="M580.9,108.8L594.8,108.8" stroke="#95a5d1" stroke-width="1.2" fill="none"/><path d="M585.2,111.1L590.1,111.1" stroke="#95a5d1" stroke-width="1.2" fill="none"/><path d="M590.8,111.1L601.8,111.1" stroke="#95a5d1" stroke-width="1.2" fill="none"/><path d="M599.7,113.4L605.3,113.4" stroke="#95a5d1" stroke-width="1.2" fill="none"/><path d="M574.4,114.6L586.6,114.6" stroke="#95a5d1" stroke-width="1.2" fill="none"/><path d="M580.1,114.6L591.2,114.6" stroke="#95a5d1" stroke-width="1.2" fill="none"/><path d="M597.9,116.9L604.6,116.9" stroke="#95a5d1" stroke-width="1.2" fill="none"/><path d="M607,113.4L613.4,113.4" stroke="#95a5d1" stroke-width="1.2" fill="none"/><path d="M601.7,118.2L614.1,118.2" stroke="#95a5d1" stroke-width="1.2" fill="none"/><path d="M607.2,119.8L616.9,119.8" stroke="#95a5d1" stroke-width="1.2" fill="none"/><path d="M612,120L624.4,120" stroke="#95a5d1" stroke-width="1.2" fill="none"/><path d="M650.7,120.5L659,120.5" stroke="#95a5d1" stroke-width="1.2" fill="none"/><path d="M601.1,121.7L608.8,121.7" stroke="#95a5d1" stroke-width="1.2" fill="none"/><path d="M596.4,122.1L611.1,122.1" stroke="#95a5d1" stroke-width="1.2" fill="none"/><path d="M585.7,124.5L597.1,124.5" stroke="#95a5d1" stroke-width="1.2" fill="none"/><path d="M594.7,124.5L604.1,124.5" stroke="#95a5d1" stroke-width="1.2" fill="none"/><path d="M597.7,125.2L607.6,125.2" stroke="#95a5d1" stroke-width="1.2" fill="none"/><path d="M623.7,124.5L635.6,124.5" stroke="#95a5d1" stroke-width="1.2" fill="none"/><path d="M578.3,127.1L590.1,127.1" stroke="#95a5d1" stroke-width="1.2" fill="none"/><path d="M580.7,128.2L594.8,128.2" stroke="#95a5d1" stroke-width="1.2" fill="none"/><path d="M598.4,129.9L606.9,129.9" stroke="#95a5d1" stroke-width="1.2" fill="none"/><path d="M588.7,131L601.8,131" stroke="#95a5d1" stroke-width="1.2" fill="none"/><path d="M602.1,132.4L613.4,132.4" stroke="#95a5d1" stroke-width="1.2" fill="none"/><path d="M568.5,133.4L581.9,133.4" stroke="#95a5d1" stroke-width="1.2" fill="none"/><path d="M565.2,135.7L575.4,135.7" stroke="#95a5d1" stroke-width="1.2" fill="none"/><path d="M573.4,135.2L586.6,135.2" stroke="#95a5d1" stroke-width="1.2" fill="none"/><path d="M581,136.9L594.8,136.9" stroke="#95a5d1" stroke-width="1.2" fill="none"/><path d="M575.6,139.2L590.1,139.2" stroke="#95a5d1" stroke-width="1.2" fill="none"/><path d="M601.7,139.9L612.7,139.9" stroke="#95a5d1" stroke-width="1.2" fill="none"/><path d="M575.1,141.1L584.9,141.1" stroke="#95a5d1" stroke-width="1.2" fill="none"/><path d="M570.1,143.9L581.9,143.9" stroke="#95a5d1" stroke-width="1.2" fill="none"/><path d="M565.6,144.6L578.4,144.6" stroke="#95a5d1" stroke-width="1.2" fill="none"/><path d="M581,145.5L589.6,145.5" stroke="#95a5d1" stroke-width="1.2" fill="none"/><path d="M585,146.2L593.6,146.2" stroke="#95a5d1" stroke-width="1.2" fill="none"/><path d="M577.5,147.8L583.1,147.8" stroke="#95a5d1" stroke-width="1.2" fill="none"/><path d="M573.2,150.2L585.4,150.2" stroke="#95a5d1" stroke-width="1.2" fill="none"/><path d="M576.3,151.6L591.2,151.6" stroke="#95a5d1" stroke-width="1.2" fill="none"/><path d="M566.8,152.5L574.9,152.5" stroke="#95a5d1" stroke-width="1.2" fill="none"/><path d="M589,153.2L594.8,153.2" stroke="#95a5d1" stroke-width="1.2" fill="none"/><path d="M565.2,154.4L570.9,154.4" stroke="#95a5d1" stroke-width="1.2" fill="none"/><path d="M569.7,155.6L578.4,155.6" stroke="#95a5d1" stroke-width="1.2" fill="none"/><path d="M584,156L591.2,156" stroke="#95a5d1" stroke-width="1.2" fill="none"/><path d="M566.5,157.9L581.2,157.9" stroke="#95a5d1" stroke-width="1.2" fill="none"/><path d="M585.4,158.6L590.1,158.6" stroke="#95a5d1" stroke-width="1.2" fill="none"/><path d="M578,159.8L585.4,159.8" stroke="#95a5d1" stroke-width="1.2" fill="none"/><path d="M600,160L605.3,160" stroke="#95a5d1" stroke-width="1.2" fill="none"/><path d="M568.5,160.9L579.6,160.9" stroke="#95a5d1" stroke-width="1.2" fill="none"/><path d="M558.4,161.9L570.9,161.9" stroke="#95a5d1" stroke-width="1.2" fill="none"/><path d="M564.9,164.4L570.9,164.4" stroke="#95a5d1" stroke-width="1.2" fill="none"/><path d="M571.4,166.1L576.1,166.1" stroke="#95a5d1" stroke-width="1.2" fill="none"/><path d="M583.4,165.4L592.4,165.4" stroke="#95a5d1" stroke-width="1.2" fill="none"/><path d="M579.7,167.7L590.1,167.7" stroke="#95a5d1" stroke-width="1.2" fill="none"/><path d="M584.3,168.9L598.3,168.9" stroke="#95a5d1" stroke-width="1.2" fill="none"/><path d="M554.8,169.1L559.2,169.1" stroke="#95a5d1" stroke-width="1.2" fill="none"/><path d="M554.5,171.9L559.7,171.9" stroke="#95a5d1" stroke-width="1.2" fill="none"/><path d="M556.7,172.6L562.7,172.6" stroke="#95a5d1" stroke-width="1.2" fill="none"/><path d="M582.5,172.6L588.9,172.6" stroke="#95a5d1" stroke-width="1.2" fill="none"/><path d="M571.1,173.8L577.7,173.8" stroke="#95a5d1" stroke-width="1.2" fill="none"/><path d="M578.2,174.9L590.1,174.9" stroke="#95a5d1" stroke-width="1.2" fill="none"/><path d="M564.4,175.4L574.9,175.4" stroke="#95a5d1" stroke-width="1.2" fill="none"/><path d="M594.1,176.6L600.6,176.6" stroke="#95a5d1" stroke-width="1.2" fill="none"/><path d="M596.9,178.4L602.9,178.4" stroke="#95a5d1" stroke-width="1.2" fill="none"/><path d="M583,178.9L590.1,178.9" stroke="#95a5d1" stroke-width="1.2" fill="none"/><path d="M572.5,179.6L578.4,179.6" stroke="#95a5d1" stroke-width="1.2" fill="none"/><path d="M596,180.8L608.3,180.8" stroke="#95a5d1" stroke-width="1.2" fill="none"/><path d="M597.9,182.4L605.3,182.4" stroke="#95a5d1" stroke-width="1.2" fill="none"/><path d="M567.2,182.4L577.2,182.4" stroke="#95a5d1" stroke-width="1.2" fill="none"/><path d="M559.6,184L572.6,184" stroke="#95a5d1" stroke-width="1.2" fill="none"/><path d="M587.8,184.7L597.1,184.7" stroke="#95a5d1" stroke-width="1.2" fill="none"/><path d="M562.2,185.2L569.1,185.2" stroke="#95a5d1" stroke-width="1.2" fill="none"/><path d="M552.9,187.1L566.7,187.1" stroke="#95a5d1" stroke-width="1.2" fill="none"/><path d="M577.1,187.6L591.2,187.6" stroke="#95a5d1" stroke-width="1.2" fill="none"/><path d="M581.1,189.4L588.9,189.4" stroke="#95a5d1" stroke-width="1.2" fill="none"/><path d="M564.9,189.9L574.9,189.9" stroke="#95a5d1" stroke-width="1.2" fill="none"/><path d="M542.9,191.3L557.4,191.3" stroke="#95a5d1" stroke-width="1.2" fill="none"/><path d="M570.3,190.6L579.6,190.6" stroke="#95a5d1" stroke-width="1.2" fill="none"/><path d="M567.8,193.6L574.2,193.6" stroke="#95a5d1" stroke-width="1.2" fill="none"/><path d="M586.7,196L591.2,196" stroke="#95a5d1" stroke-width="1.2" fill="none"/><path d="M569.1,196.9L583.5,196.9" stroke="#95a5d1" stroke-width="1.2" fill="none"/><path d="M558.1,197.6L570.9,197.6" stroke="#95a5d1" stroke-width="1.2" fill="none"/><path d="M556.2,199.5L564.4,199.5" stroke="#95a5d1" stroke-width="1.2" fill="none"/><path d="M572.1,201.1L581.9,201.1" stroke="#95a5d1" stroke-width="1.2" fill="none"/><path d="M560.5,202.3L570.2,202.3" stroke="#95a5d1" stroke-width="1.2" fill="none"/><path d="M592.4,202.3L599.4,202.3" stroke="#95a5d1" stroke-width="1.2" fill="none"/><path d="M566.3,204.1L581.2,204.1" stroke="#95a5d1" stroke-width="1.2" fill="none"/><path d="M585.9,204.6L597.1,204.6" stroke="#95a5d1" stroke-width="1.2" fill="none"/><path d="M595.2,205.3L601.8,205.3" stroke="#95a5d1" stroke-width="1.2" fill="none"/><path d="M589.5,206.5L593.6,206.5" stroke="#95a5d1" stroke-width="1.2" fill="none"/><path d="M586.7,208.1L595.9,208.1" stroke="#95a5d1" stroke-width="1.2" fill="none"/><path d="M596,208.6L604.1,208.6" stroke="#95a5d1" stroke-width="1.2" fill="none"/><path d="M550,201.6L562.8,201.6" stroke="#95a5d1" stroke-width="1.2" fill="none"/><path d="M589.5,208L601.3,208" stroke="#95a5d1" stroke-width="1.2" fill="none"/><path d="M585.8,211.2L596.5,211.2" stroke="#95a5d1" stroke-width="1.2" fill="none"/><path d="M601.4,211.2L607.1,211.2" stroke="#95a5d1" stroke-width="1.2" fill="none"/><path d="M595.6,213.5L601.3,213.5" stroke="#95a5d1" stroke-width="1.2" fill="none"/><path d="M611.5,212.8L619,212.8" stroke="#95a5d1" stroke-width="1.2" fill="none"/><path d="M585.4,215.4L592.3,215.4" stroke="#95a5d1" stroke-width="1.2" fill="none"/><path d="M615,218.3L628.6,218.3" stroke="#95a5d1" stroke-width="1.2" fill="none"/><path d="M598,219.9L607.7,219.9" stroke="#95a5d1" stroke-width="1.2" fill="none"/><path d="M580.7,221.8L591.7,221.8" stroke="#95a5d1" stroke-width="1.2" fill="none"/><path d="M568.7,223.1L583.6,223.1" stroke="#95a5d1" stroke-width="1.2" fill="none"/><path d="M601.5,225L608.4,225" stroke="#95a5d1" stroke-width="1.2" fill="none"/><path d="M598.5,229.5L608.4,229.5" stroke="#95a5d1" stroke-width="1.2" fill="none"/><path d="M600.4,232.1L606.1,232.1" stroke="#95a5d1" stroke-width="1.2" fill="none"/><path d="M602.6,232.1L615.1,232.1" stroke="#95a5d1" stroke-width="1.2" fill="none"/><path d="M597.3,234.4L601.3,234.4" stroke="#95a5d1" stroke-width="1.2" fill="none"/><path d="M569,236.9L582,236.9" stroke="#95a5d1" stroke-width="1.2" fill="none"/><path d="M579,236.9L592.3,236.9" stroke="#95a5d1" stroke-width="1.2" fill="none"/><path d="M585.1,238.5L598.1,238.5" stroke="#95a5d1" stroke-width="1.2" fill="none"/><path d="M604.4,237.9L609.3,237.9" stroke="#95a5d1" stroke-width="1.2" fill="none"/><path d="M630.3,239.2L637.3,239.2" stroke="#95a5d1" stroke-width="1.2" fill="none"/><path d="M603.8,240.1L615.7,240.1" stroke="#95a5d1" stroke-width="1.2" fill="none"/><path d="M599.4,240.8L604.5,240.8" stroke="#95a5d1" stroke-width="1.2" fill="none"/><path d="M576.6,241.7L585.9,241.7" stroke="#95a5d1" stroke-width="1.2" fill="none"/><path d="M584.1,242.4L593.3,242.4" stroke="#95a5d1" stroke-width="1.2" fill="none"/><path d="M548.9,243.4L563.4,243.4" stroke="#95a5d1" stroke-width="1.2" fill="none"/><path d="M542.6,245.6L553.1,245.6" stroke="#95a5d1" stroke-width="1.2" fill="none"/><path d="M541.3,247.5L554.7,247.5" stroke="#95a5d1" stroke-width="1.2" fill="none"/><path d="M550.6,248.8L557.9,248.8" stroke="#95a5d1" stroke-width="1.2" fill="none"/><path d="M548.5,249.8L561.2,249.8" stroke="#95a5d1" stroke-width="1.2" fill="none"/><path d="M570.9,250.4L579.5,250.4" stroke="#95a5d1" stroke-width="1.2" fill="none"/><path d="M567.9,253L582,253" stroke="#95a5d1" stroke-width="1.2" fill="none"/><path d="M583.5,253.9L588.5,253.9" stroke="#95a5d1" stroke-width="1.2" fill="none"/><path d="M611.6,254.6L624.7,254.6" stroke="#95a5d1" stroke-width="1.2" fill="none"/><path d="M577.3,257.2L583.6,257.2" stroke="#95a5d1" stroke-width="1.2" fill="none"/><path d="M569.5,258.4L579.5,258.4" stroke="#95a5d1" stroke-width="1.2" fill="none"/><path d="M564.2,259.4L574,259.4" stroke="#95a5d1" stroke-width="1.2" fill="none"/><path d="M565.1,261.7L570.8,261.7" stroke="#95a5d1" stroke-width="1.2" fill="none"/><path d="M556.9,264.2L570.1,264.2" stroke="#95a5d1" stroke-width="1.2" fill="none"/><path d="M556,265.8L563.4,265.8" stroke="#95a5d1" stroke-width="1.2" fill="none"/><path d="M577.4,235.6L584.8,235.6" stroke="#95a5d1" stroke-width="1.2" fill="none"/><path d="M583.5,243L588.3,243" stroke="#95a5d1" stroke-width="1.2" fill="none"/><path d="M586.6,244.4L594,244.4" stroke="#95a5d1" stroke-width="1.2" fill="none"/><path d="M575.7,255.7L584.8,255.7" stroke="#95a5d1" stroke-width="1.2" fill="none"/><path d="M603.4,35.5L615.3,35.5" stroke="#95a5d1" stroke-width="1.2" fill="none"/><path d="M602.7,61.1L610.7,61.1" stroke="#95a5d1" stroke-width="1.2" fill="none"/><path d="M583.4,67.7L595,67.7" stroke="#95a5d1" stroke-width="1.2" fill="none"/><path d="M594,69.7L599.2,69.7" stroke="#95a5d1" stroke-width="1.2" fill="none"/><path d="M590,78.9L598.3,78.9" stroke="#95a5d1" stroke-width="1.2" fill="none"/><path d="M581.8,93.3L586.5,93.3" stroke="#95a5d1" stroke-width="1.2" fill="none"/><path d="M587,103.1L601.6,103.1" stroke="#95a5d1" stroke-width="1.2" fill="none"/><path d="M587.2,106.4L600.3,106.4" stroke="#95a5d1" stroke-width="1.2" fill="none"/><path d="M576.7,112.3L587.9,112.3" stroke="#95a5d1" stroke-width="1.2" fill="none"/><path d="M613.3,104.2L617.4,104.2" stroke="#95a5d1" stroke-width="1.2" fill="none"/><path d="M596.8,128.1L604.9,128.1" stroke="#95a5d1" stroke-width="1.2" fill="none"/><path d="M592.9,131.8L604.7,131.8" stroke="#95a5d1" stroke-width="1.2" fill="none"/><path d="M596.9,214.8L603.5,214.8" stroke="#95a5d1" stroke-width="1.2" fill="none"/><path d="M595.9,216.8L606.1,216.8" stroke="#95a5d1" stroke-width="1.2" fill="none"/><path d="M597.1,208.9L606.1,208.9" stroke="#95a5d1" stroke-width="1.2" fill="none"/><path d="M582.3,222.7L586.4,222.7" stroke="#95a5d1" stroke-width="1.2" fill="none"/><circle cx="432.3" cy="322.4" r="2.3" fill="#8fcf6d" stroke="#78b85a" stroke-width="0.5"/><circle cx="432.8" cy="324.8" r="2.3" fill="#8fcf6d" stroke="#78b85a" stroke-width="0.5"/><circle cx="458.2" cy="321.5" r="2.3" fill="#8fcf6d" stroke="#78b85a" stroke-width="0.5"/><circle cx="509" cy="322.6" r="2.3" fill="#8fcf6d" stroke="#78b85a" stroke-width="0.5"/><circle cx="576.2" cy="270.6" r="2.3" fill="#6dc4cb" stroke="#52a9b0" stroke-width="0.5"/><circle cx="553.1" cy="271.3" r="2.3" fill="#6dc4cb" stroke="#52a9b0" stroke-width="0.5"/><circle cx="557.9" cy="273.2" r="2.3" fill="#6dc4cb" stroke="#52a9b0" stroke-width="0.5"/><circle cx="563.4" cy="273.9" r="2.3" fill="#6dc4cb" stroke="#52a9b0" stroke-width="0.5"/><circle cx="556.3" cy="276.4" r="2.3" fill="#6dc4cb" stroke="#52a9b0" stroke-width="0.5"/><circle cx="564.4" cy="276.4" r="2.3" fill="#6dc4cb" stroke="#52a9b0" stroke-width="0.5"/><circle cx="580.4" cy="275.1" r="2.3" fill="#6dc4cb" stroke="#52a9b0" stroke-width="0.5"/><circle cx="550.6" cy="277.1" r="2.3" fill="#6dc4cb" stroke="#52a9b0" stroke-width="0.5"/><circle cx="544.1" cy="278" r="2.3" fill="#6dc4cb" stroke="#52a9b0" stroke-width="0.5"/><circle cx="533.2" cy="279.3" r="2.3" fill="#6dc4cb" stroke="#52a9b0" stroke-width="0.5"/><circle cx="563.4" cy="279.6" r="2.3" fill="#6dc4cb" stroke="#52a9b0" stroke-width="0.5"/><circle cx="610.3" cy="280.9" r="2.3" fill="#6dc4cb" stroke="#52a9b0" stroke-width="0.5"/><circle cx="514.6" cy="281.9" r="2.3" fill="#6dc4cb" stroke="#52a9b0" stroke-width="0.5"/><circle cx="520.4" cy="282.9" r="2.3" fill="#6dc4cb" stroke="#52a9b0" stroke-width="0.5"/><circle cx="511.4" cy="284.5" r="2.3" fill="#6dc4cb" stroke="#52a9b0" stroke-width="0.5"/><circle cx="522.6" cy="285.7" r="2.3" fill="#6dc4cb" stroke="#52a9b0" stroke-width="0.5"/><circle cx="486.3" cy="286.7" r="2.3" fill="#6dc4cb" stroke="#52a9b0" stroke-width="0.5"/><circle cx="513" cy="287.3" r="2.3" fill="#6dc4cb" stroke="#52a9b0" stroke-width="0.5"/><circle cx="538.7" cy="288.6" r="2.3" fill="#6dc4cb" stroke="#52a9b0" stroke-width="0.5"/><circle cx="546.7" cy="289.3" r="2.3" fill="#6dc4cb" stroke="#52a9b0" stroke-width="0.5"/><circle cx="545.1" cy="290.9" r="2.3" fill="#6dc4cb" stroke="#52a9b0" stroke-width="0.5"/><circle cx="518.8" cy="291.5" r="2.3" fill="#6dc4cb" stroke="#52a9b0" stroke-width="0.5"/><circle cx="516.2" cy="290.9" r="2.3" fill="#6dc4cb" stroke="#52a9b0" stroke-width="0.5"/><circle cx="506.6" cy="292.5" r="2.3" fill="#6dc4cb" stroke="#52a9b0" stroke-width="0.5"/><circle cx="502.4" cy="293.8" r="2.3" fill="#6dc4cb" stroke="#52a9b0" stroke-width="0.5"/><circle cx="508.2" cy="294.7" r="2.3" fill="#6dc4cb" stroke="#52a9b0" stroke-width="0.5"/><circle cx="529" cy="295.7" r="2.3" fill="#6dc4cb" stroke="#52a9b0" stroke-width="0.5"/><circle cx="588.5" cy="295.4" r="2.3" fill="#6dc4cb" stroke="#52a9b0" stroke-width="0.5"/><circle cx="578.8" cy="296.3" r="2.3" fill="#6dc4cb" stroke="#52a9b0" stroke-width="0.5"/><circle cx="566.6" cy="297.3" r="2.3" fill="#6dc4cb" stroke="#52a9b0" stroke-width="0.5"/><circle cx="555.4" cy="297.9" r="2.3" fill="#6dc4cb" stroke="#52a9b0" stroke-width="0.5"/><circle cx="558.6" cy="299.6" r="2.3" fill="#6dc4cb" stroke="#52a9b0" stroke-width="0.5"/><circle cx="536.1" cy="299.6" r="2.3" fill="#6dc4cb" stroke="#52a9b0" stroke-width="0.5"/><circle cx="514" cy="300.5" r="2.3" fill="#6dc4cb" stroke="#52a9b0" stroke-width="0.5"/><circle cx="495.3" cy="301.2" r="2.3" fill="#6dc4cb" stroke="#52a9b0" stroke-width="0.5"/><circle cx="502.7" cy="302.1" r="2.3" fill="#6dc4cb" stroke="#52a9b0" stroke-width="0.5"/><circle cx="517.8" cy="302.8" r="2.3" fill="#6dc4cb" stroke="#52a9b0" stroke-width="0.5"/><circle cx="521.7" cy="305" r="2.3" fill="#6dc4cb" stroke="#52a9b0" stroke-width="0.5"/><circle cx="534.8" cy="305" r="2.3" fill="#6dc4cb" stroke="#52a9b0" stroke-width="0.5"/><circle cx="574.6" cy="304.4" r="2.3" fill="#6dc4cb" stroke="#52a9b0" stroke-width="0.5"/><circle cx="501.7" cy="306.6" r="2.3" fill="#6dc4cb" stroke="#52a9b0" stroke-width="0.5"/><circle cx="519.4" cy="307.6" r="2.3" fill="#6dc4cb" stroke="#52a9b0" stroke-width="0.5"/><circle cx="530.7" cy="309.2" r="2.3" fill="#6dc4cb" stroke="#52a9b0" stroke-width="0.5"/><circle cx="497.9" cy="309.8" r="2.3" fill="#6dc4cb" stroke="#52a9b0" stroke-width="0.5"/><circle cx="503.4" cy="311.8" r="2.3" fill="#6dc4cb" stroke="#52a9b0" stroke-width="0.5"/><circle cx="485.7" cy="312.4" r="2.3" fill="#6dc4cb" stroke="#52a9b0" stroke-width="0.5"/><circle cx="511.4" cy="313.4" r="2.3" fill="#6dc4cb" stroke="#52a9b0" stroke-width="0.5"/><circle cx="479.3" cy="314.6" r="2.3" fill="#6dc4cb" stroke="#52a9b0" stroke-width="0.5"/><circle cx="487.3" cy="314" r="2.3" fill="#6dc4cb" stroke="#52a9b0" stroke-width="0.5"/><circle cx="483.1" cy="317.2" r="2.3" fill="#6dc4cb" stroke="#52a9b0" stroke-width="0.5"/><circle cx="516.2" cy="319.5" r="2.3" fill="#6dc4cb" stroke="#52a9b0" stroke-width="0.5"/><circle cx="518.8" cy="319.8" r="2.3" fill="#6dc4cb" stroke="#52a9b0" stroke-width="0.5"/><circle cx="513.8" cy="301" r="2.3" fill="#6dc4cb" stroke="#52a9b0" stroke-width="0.5"/><circle cx="505" cy="303.6" r="2.3" fill="#6dc4cb" stroke="#52a9b0" stroke-width="0.5"/><circle cx="535.7" cy="299.7" r="2.3" fill="#6dc4cb" stroke="#52a9b0" stroke-width="0.5"/><circle cx="535.7" cy="305.8" r="2.3" fill="#6dc4cb" stroke="#52a9b0" stroke-width="0.5"/><circle cx="511.6" cy="307.3" r="2.3" fill="#6dc4cb" stroke="#52a9b0" stroke-width="0.5"/><circle cx="521.5" cy="308.4" r="2.3" fill="#6dc4cb" stroke="#52a9b0" stroke-width="0.5"/><circle cx="511.6" cy="313.9" r="2.3" fill="#6dc4cb" stroke="#52a9b0" stroke-width="0.5"/><circle cx="484.2" cy="316.1" r="2.3" fill="#6dc4cb" stroke="#52a9b0" stroke-width="0.5"/><circle cx="506.8" cy="321.1" r="2.3" fill="#6dc4cb" stroke="#52a9b0" stroke-width="0.5"/><circle cx="478.8" cy="315.2" r="2.3" fill="#6dc4cb" stroke="#52a9b0" stroke-width="0.5"/><circle cx="615.8" cy="32.8" r="2.3" fill="#4b73ba" stroke="#3f64a8" stroke-width="0.5"/><circle cx="627.9" cy="36.4" r="2.3" fill="#4b73ba" stroke="#3f64a8" stroke-width="0.5"/><circle cx="624.4" cy="39.2" r="2.3" fill="#4b73ba" stroke="#3f64a8" stroke-width="0.5"/><circle cx="612.3" cy="37.5" r="2.3" fill="#4b73ba" stroke="#3f64a8" stroke-width="0.5"/><circle cx="606.4" cy="39.9" r="2.3" fill="#4b73ba" stroke="#3f64a8" stroke-width="0.5"/><circle cx="599.4" cy="41" r="2.3" fill="#4b73ba" stroke="#3f64a8" stroke-width="0.5"/><circle cx="602.9" cy="43.4" r="2.3" fill="#4b73ba" stroke="#3f64a8" stroke-width="0.5"/><circle cx="599.4" cy="45.7" r="2.3" fill="#4b73ba" stroke="#3f64a8" stroke-width="0.5"/><circle cx="601.8" cy="48" r="2.3" fill="#4b73ba" stroke="#3f64a8" stroke-width="0.5"/><circle cx="597.1" cy="50.4" r="2.3" fill="#4b73ba" stroke="#3f64a8" stroke-width="0.5"/><circle cx="614.1" cy="51.1" r="2.3" fill="#4b73ba" stroke="#3f64a8" stroke-width="0.5"/><circle cx="619.3" cy="52.2" r="2.3" fill="#4b73ba" stroke="#3f64a8" stroke-width="0.5"/><circle cx="600.6" cy="55" r="2.3" fill="#4b73ba" stroke="#3f64a8" stroke-width="0.5"/><circle cx="620.4" cy="56.2" r="2.3" fill="#4b73ba" stroke="#3f64a8" stroke-width="0.5"/><circle cx="625.6" cy="55.5" r="2.3" fill="#4b73ba" stroke="#3f64a8" stroke-width="0.5"/><circle cx="636.8" cy="54.3" r="2.3" fill="#4b73ba" stroke="#3f64a8" stroke-width="0.5"/><circle cx="647.3" cy="53.6" r="2.3" fill="#4b73ba" stroke="#3f64a8" stroke-width="0.5"/><circle cx="607.6" cy="58.5" r="2.3" fill="#4b73ba" stroke="#3f64a8" stroke-width="0.5"/><circle cx="616.9" cy="60.9" r="2.3" fill="#4b73ba" stroke="#3f64a8" stroke-width="0.5"/><circle cx="593.1" cy="62" r="2.3" fill="#4b73ba" stroke="#3f64a8" stroke-width="0.5"/><circle cx="612.3" cy="63.2" r="2.3" fill="#4b73ba" stroke="#3f64a8" stroke-width="0.5"/><circle cx="614.6" cy="64.4" r="2.3" fill="#4b73ba" stroke="#3f64a8" stroke-width="0.5"/><circle cx="606.9" cy="66" r="2.3" fill="#4b73ba" stroke="#3f64a8" stroke-width="0.5"/><circle cx="598.3" cy="67.9" r="2.3" fill="#4b73ba" stroke="#3f64a8" stroke-width="0.5"/><circle cx="593.6" cy="69" r="2.3" fill="#4b73ba" stroke="#3f64a8" stroke-width="0.5"/><circle cx="590" cy="70.9" r="2.3" fill="#4b73ba" stroke="#3f64a8" stroke-width="0.5"/><circle cx="618.1" cy="71.8" r="2.3" fill="#4b73ba" stroke="#3f64a8" stroke-width="0.5"/><circle cx="588.9" cy="74.2" r="2.3" fill="#4b73ba" stroke="#3f64a8" stroke-width="0.5"/><circle cx="595.9" cy="72.5" r="2.3" fill="#4b73ba" stroke="#3f64a8" stroke-width="0.5"/><circle cx="592.4" cy="77.2" r="2.3" fill="#4b73ba" stroke="#3f64a8" stroke-width="0.5"/><circle cx="597.1" cy="77.2" r="2.3" fill="#4b73ba" stroke="#3f64a8" stroke-width="0.5"/><circle cx="594.8" cy="81.2" r="2.3" fill="#4b73ba" stroke="#3f64a8" stroke-width="0.5"/><circle cx="599.4" cy="81.2" r="2.3" fill="#4b73ba" stroke="#3f64a8" stroke-width="0.5"/><circle cx="607.6" cy="81.2" r="2.3" fill="#4b73ba" stroke="#3f64a8" stroke-width="0.5"/><circle cx="613.4" cy="81.9" r="2.3" fill="#4b73ba" stroke="#3f64a8" stroke-width="0.5"/><circle cx="588.2" cy="84.2" r="2.3" fill="#4b73ba" stroke="#3f64a8" stroke-width="0.5"/><circle cx="595.9" cy="84.2" r="2.3" fill="#4b73ba" stroke="#3f64a8" stroke-width="0.5"/><circle cx="609.9" cy="86.6" r="2.3" fill="#4b73ba" stroke="#3f64a8" stroke-width="0.5"/><circle cx="614.6" cy="87.7" r="2.3" fill="#4b73ba" stroke="#3f64a8" stroke-width="0.5"/><circle cx="597.1" cy="88.9" r="2.3" fill="#4b73ba" stroke="#3f64a8" stroke-width="0.5"/><circle cx="605.3" cy="89.6" r="2.3" fill="#4b73ba" stroke="#3f64a8" stroke-width="0.5"/><circle cx="601.8" cy="88.4" r="2.3" fill="#4b73ba" stroke="#3f64a8" stroke-width="0.5"/><circle cx="587.3" cy="90.8" r="2.3" fill="#4b73ba" stroke="#3f64a8" stroke-width="0.5"/><circle cx="584.2" cy="94.3" r="2.3" fill="#4b73ba" stroke="#3f64a8" stroke-width="0.5"/><circle cx="580.3" cy="97.1" r="2.3" fill="#4b73ba" stroke="#3f64a8" stroke-width="0.5"/><circle cx="591.2" cy="98.2" r="2.3" fill="#4b73ba" stroke="#3f64a8" stroke-width="0.5"/><circle cx="597.1" cy="100.6" r="2.3" fill="#4b73ba" stroke="#3f64a8" stroke-width="0.5"/><circle cx="602.9" cy="101.3" r="2.3" fill="#4b73ba" stroke="#3f64a8" stroke-width="0.5"/><circle cx="594.8" cy="102.9" r="2.3" fill="#4b73ba" stroke="#3f64a8" stroke-width="0.5"/><circle cx="614.6" cy="105.3" r="2.3" fill="#4b73ba" stroke="#3f64a8" stroke-width="0.5"/><circle cx="619.3" cy="106.4" r="2.3" fill="#4b73ba" stroke="#3f64a8" stroke-width="0.5"/><circle cx="622.1" cy="107.1" r="2.3" fill="#4b73ba" stroke="#3f64a8" stroke-width="0.5"/><circle cx="604.1" cy="107.6" r="2.3" fill="#4b73ba" stroke="#3f64a8" stroke-width="0.5"/><circle cx="594.8" cy="108.8" r="2.3" fill="#4b73ba" stroke="#3f64a8" stroke-width="0.5"/><circle cx="590.1" cy="111.1" r="2.3" fill="#4b73ba" stroke="#3f64a8" stroke-width="0.5"/><circle cx="601.8" cy="111.1" r="2.3" fill="#4b73ba" stroke="#3f64a8" stroke-width="0.5"/><circle cx="605.3" cy="113.4" r="2.3" fill="#4b73ba" stroke="#3f64a8" stroke-width="0.5"/><circle cx="586.6" cy="114.6" r="2.3" fill="#4b73ba" stroke="#3f64a8" stroke-width="0.5"/><circle cx="591.2" cy="114.6" r="2.3" fill="#4b73ba" stroke="#3f64a8" stroke-width="0.5"/><circle cx="604.6" cy="116.9" r="2.3" fill="#4b73ba" stroke="#3f64a8" stroke-width="0.5"/><circle cx="613.4" cy="113.4" r="2.3" fill="#4b73ba" stroke="#3f64a8" stroke-width="0.5"/><circle cx="614.1" cy="118.2" r="2.3" fill="#4b73ba" stroke="#3f64a8" stroke-width="0.5"/><circle cx="616.9" cy="119.8" r="2.3" fill="#4b73ba" stroke="#3f64a8" stroke-width="0.5"/><circle cx="624.4" cy="120" r="2.3" fill="#4b73ba" stroke="#3f64a8" stroke-width="0.5"/><circle cx="659" cy="120.5" r="2.3" fill="#4b73ba" stroke="#3f64a8" stroke-width="0.5"/><circle cx="608.8" cy="121.7" r="2.3" fill="#4b73ba" stroke="#3f64a8" stroke-width="0.5"/><circle cx="611.1" cy="122.1" r="2.3" fill="#4b73ba" stroke="#3f64a8" stroke-width="0.5"/><circle cx="597.1" cy="124.5" r="2.3" fill="#4b73ba" stroke="#3f64a8" stroke-width="0.5"/><circle cx="604.1" cy="124.5" r="2.3" fill="#4b73ba" stroke="#3f64a8" stroke-width="0.5"/><circle cx="607.6" cy="125.2" r="2.3" fill="#4b73ba" stroke="#3f64a8" stroke-width="0.5"/><circle cx="635.6" cy="124.5" r="2.3" fill="#4b73ba" stroke="#3f64a8" stroke-width="0.5"/><circle cx="590.1" cy="127.1" r="2.3" fill="#4b73ba" stroke="#3f64a8" stroke-width="0.5"/><circle cx="594.8" cy="128.2" r="2.3" fill="#4b73ba" stroke="#3f64a8" stroke-width="0.5"/><circle cx="606.9" cy="129.9" r="2.3" fill="#4b73ba" stroke="#3f64a8" stroke-width="0.5"/><circle cx="601.8" cy="131" r="2.3" fill="#4b73ba" stroke="#3f64a8" stroke-width="0.5"/><circle cx="613.4" cy="132.4" r="2.3" fill="#4b73ba" stroke="#3f64a8" stroke-width="0.5"/><circle cx="581.9" cy="133.4" r="2.3" fill="#4b73ba" stroke="#3f64a8" stroke-width="0.5"/><circle cx="575.4" cy="135.7" r="2.3" fill="#4b73ba" stroke="#3f64a8" stroke-width="0.5"/><circle cx="586.6" cy="135.2" r="2.3" fill="#4b73ba" stroke="#3f64a8" stroke-width="0.5"/><circle cx="594.8" cy="136.9" r="2.3" fill="#4b73ba" stroke="#3f64a8" stroke-width="0.5"/><circle cx="590.1" cy="139.2" r="2.3" fill="#4b73ba" stroke="#3f64a8" stroke-width="0.5"/><circle cx="612.7" cy="139.9" r="2.3" fill="#4b73ba" stroke="#3f64a8" stroke-width="0.5"/><circle cx="584.9" cy="141.1" r="2.3" fill="#4b73ba" stroke="#3f64a8" stroke-width="0.5"/><circle cx="581.9" cy="143.9" r="2.3" fill="#4b73ba" stroke="#3f64a8" stroke-width="0.5"/><circle cx="578.4" cy="144.6" r="2.3" fill="#4b73ba" stroke="#3f64a8" stroke-width="0.5"/><circle cx="589.6" cy="145.5" r="2.3" fill="#4b73ba" stroke="#3f64a8" stroke-width="0.5"/><circle cx="593.6" cy="146.2" r="2.3" fill="#4b73ba" stroke="#3f64a8" stroke-width="0.5"/><circle cx="583.1" cy="147.8" r="2.3" fill="#4b73ba" stroke="#3f64a8" stroke-width="0.5"/><circle cx="585.4" cy="150.2" r="2.3" fill="#4b73ba" stroke="#3f64a8" stroke-width="0.5"/><circle cx="591.2" cy="151.6" r="2.3" fill="#4b73ba" stroke="#3f64a8" stroke-width="0.5"/><circle cx="574.9" cy="152.5" r="2.3" fill="#4b73ba" stroke="#3f64a8" stroke-width="0.5"/><circle cx="594.8" cy="153.2" r="2.3" fill="#4b73ba" stroke="#3f64a8" stroke-width="0.5"/><circle cx="570.9" cy="154.4" r="2.3" fill="#4b73ba" stroke="#3f64a8" stroke-width="0.5"/><circle cx="578.4" cy="155.6" r="2.3" fill="#4b73ba" stroke="#3f64a8" stroke-width="0.5"/><circle cx="591.2" cy="156" r="2.3" fill="#4b73ba" stroke="#3f64a8" stroke-width="0.5"/><circle cx="581.2" cy="157.9" r="2.3" fill="#4b73ba" stroke="#3f64a8" stroke-width="0.5"/><circle cx="590.1" cy="158.6" r="2.3" fill="#4b73ba" stroke="#3f64a8" stroke-width="0.5"/><circle cx="585.4" cy="159.8" r="2.3" fill="#4b73ba" stroke="#3f64a8" stroke-width="0.5"/><circle cx="605.3" cy="160" r="2.3" fill="#4b73ba" stroke="#3f64a8" stroke-width="0.5"/><circle cx="579.6" cy="160.9" r="2.3" fill="#4b73ba" stroke="#3f64a8" stroke-width="0.5"/><circle cx="570.9" cy="161.9" r="2.3" fill="#4b73ba" stroke="#3f64a8" stroke-width="0.5"/><circle cx="570.9" cy="164.4" r="2.3" fill="#4b73ba" stroke="#3f64a8" stroke-width="0.5"/><circle cx="576.1" cy="166.1" r="2.3" fill="#4b73ba" stroke="#3f64a8" stroke-width="0.5"/><circle cx="592.4" cy="165.4" r="2.3" fill="#4b73ba" stroke="#3f64a8" stroke-width="0.5"/><circle cx="590.1" cy="167.7" r="2.3" fill="#4b73ba" stroke="#3f64a8" stroke-width="0.5"/><circle cx="598.3" cy="168.9" r="2.3" fill="#4b73ba" stroke="#3f64a8" stroke-width="0.5"/><circle cx="559.2" cy="169.1" r="2.3" fill="#4b73ba" stroke="#3f64a8" stroke-width="0.5"/><circle cx="559.7" cy="171.9" r="2.3" fill="#4b73ba" stroke="#3f64a8" stroke-width="0.5"/><circle cx="562.7" cy="172.6" r="2.3" fill="#4b73ba" stroke="#3f64a8" stroke-width="0.5"/><circle cx="588.9" cy="172.6" r="2.3" fill="#4b73ba" stroke="#3f64a8" stroke-width="0.5"/><circle cx="577.7" cy="173.8" r="2.3" fill="#4b73ba" stroke="#3f64a8" stroke-width="0.5"/><circle cx="590.1" cy="174.9" r="2.3" fill="#4b73ba" stroke="#3f64a8" stroke-width="0.5"/><circle cx="574.9" cy="175.4" r="2.3" fill="#4b73ba" stroke="#3f64a8" stroke-width="0.5"/><circle cx="600.6" cy="176.6" r="2.3" fill="#4b73ba" stroke="#3f64a8" stroke-width="0.5"/><circle cx="602.9" cy="178.4" r="2.3" fill="#4b73ba" stroke="#3f64a8" stroke-width="0.5"/><circle cx="590.1" cy="178.9" r="2.3" fill="#4b73ba" stroke="#3f64a8" stroke-width="0.5"/><circle cx="578.4" cy="179.6" r="2.3" fill="#4b73ba" stroke="#3f64a8" stroke-width="0.5"/><circle cx="608.3" cy="180.8" r="2.3" fill="#4b73ba" stroke="#3f64a8" stroke-width="0.5"/><circle cx="605.3" cy="182.4" r="2.3" fill="#4b73ba" stroke="#3f64a8" stroke-width="0.5"/><circle cx="577.2" cy="182.4" r="2.3" fill="#4b73ba" stroke="#3f64a8" stroke-width="0.5"/><circle cx="572.6" cy="184" r="2.3" fill="#4b73ba" stroke="#3f64a8" stroke-width="0.5"/><circle cx="597.1" cy="184.7" r="2.3" fill="#4b73ba" stroke="#3f64a8" stroke-width="0.5"/><circle cx="569.1" cy="185.2" r="2.3" fill="#4b73ba" stroke="#3f64a8" stroke-width="0.5"/><circle cx="566.7" cy="187.1" r="2.3" fill="#4b73ba" stroke="#3f64a8" stroke-width="0.5"/><circle cx="591.2" cy="187.6" r="2.3" fill="#4b73ba" stroke="#3f64a8" stroke-width="0.5"/><circle cx="588.9" cy="189.4" r="2.3" fill="#4b73ba" stroke="#3f64a8" stroke-width="0.5"/><circle cx="574.9" cy="189.9" r="2.3" fill="#4b73ba" stroke="#3f64a8" stroke-width="0.5"/><circle cx="557.4" cy="191.3" r="2.3" fill="#4b73ba" stroke="#3f64a8" stroke-width="0.5"/><circle cx="579.6" cy="190.6" r="2.3" fill="#4b73ba" stroke="#3f64a8" stroke-width="0.5"/><circle cx="574.2" cy="193.6" r="2.3" fill="#4b73ba" stroke="#3f64a8" stroke-width="0.5"/><circle cx="591.2" cy="196" r="2.3" fill="#4b73ba" stroke="#3f64a8" stroke-width="0.5"/><circle cx="583.5" cy="196.9" r="2.3" fill="#4b73ba" stroke="#3f64a8" stroke-width="0.5"/><circle cx="570.9" cy="197.6" r="2.3" fill="#4b73ba" stroke="#3f64a8" stroke-width="0.5"/><circle cx="564.4" cy="199.5" r="2.3" fill="#4b73ba" stroke="#3f64a8" stroke-width="0.5"/><circle cx="581.9" cy="201.1" r="2.3" fill="#4b73ba" stroke="#3f64a8" stroke-width="0.5"/><circle cx="570.2" cy="202.3" r="2.3" fill="#4b73ba" stroke="#3f64a8" stroke-width="0.5"/><circle cx="599.4" cy="202.3" r="2.3" fill="#4b73ba" stroke="#3f64a8" stroke-width="0.5"/><circle cx="581.2" cy="204.1" r="2.3" fill="#4b73ba" stroke="#3f64a8" stroke-width="0.5"/><circle cx="597.1" cy="204.6" r="2.3" fill="#4b73ba" stroke="#3f64a8" stroke-width="0.5"/><circle cx="601.8" cy="205.3" r="2.3" fill="#4b73ba" stroke="#3f64a8" stroke-width="0.5"/><circle cx="593.6" cy="206.5" r="2.3" fill="#4b73ba" stroke="#3f64a8" stroke-width="0.5"/><circle cx="595.9" cy="208.1" r="2.3" fill="#4b73ba" stroke="#3f64a8" stroke-width="0.5"/><circle cx="604.1" cy="208.6" r="2.3" fill="#4b73ba" stroke="#3f64a8" stroke-width="0.5"/><circle cx="562.8" cy="201.6" r="2.3" fill="#4b73ba" stroke="#3f64a8" stroke-width="0.5"/><circle cx="601.3" cy="208" r="2.3" fill="#4b73ba" stroke="#3f64a8" stroke-width="0.5"/><circle cx="596.5" cy="211.2" r="2.3" fill="#4b73ba" stroke="#3f64a8" stroke-width="0.5"/><circle cx="607.1" cy="211.2" r="2.3" fill="#4b73ba" stroke="#3f64a8" stroke-width="0.5"/><circle cx="601.3" cy="213.5" r="2.3" fill="#4b73ba" stroke="#3f64a8" stroke-width="0.5"/><circle cx="619" cy="212.8" r="2.3" fill="#4b73ba" stroke="#3f64a8" stroke-width="0.5"/><circle cx="592.3" cy="215.4" r="2.3" fill="#4b73ba" stroke="#3f64a8" stroke-width="0.5"/><circle cx="628.6" cy="218.3" r="2.3" fill="#4b73ba" stroke="#3f64a8" stroke-width="0.5"/><circle cx="607.7" cy="219.9" r="2.3" fill="#4b73ba" stroke="#3f64a8" stroke-width="0.5"/><circle cx="591.7" cy="221.8" r="2.3" fill="#4b73ba" stroke="#3f64a8" stroke-width="0.5"/><circle cx="583.6" cy="223.1" r="2.3" fill="#4b73ba" stroke="#3f64a8" stroke-width="0.5"/><circle cx="608.4" cy="225" r="2.3" fill="#4b73ba" stroke="#3f64a8" stroke-width="0.5"/><circle cx="608.4" cy="229.5" r="2.3" fill="#4b73ba" stroke="#3f64a8" stroke-width="0.5"/><circle cx="606.1" cy="232.1" r="2.3" fill="#4b73ba" stroke="#3f64a8" stroke-width="0.5"/><circle cx="615.1" cy="232.1" r="2.3" fill="#4b73ba" stroke="#3f64a8" stroke-width="0.5"/><circle cx="601.3" cy="234.4" r="2.3" fill="#4b73ba" stroke="#3f64a8" stroke-width="0.5"/><circle cx="582" cy="236.9" r="2.3" fill="#4b73ba" stroke="#3f64a8" stroke-width="0.5"/><circle cx="592.3" cy="236.9" r="2.3" fill="#4b73ba" stroke="#3f64a8" stroke-width="0.5"/><circle cx="598.1" cy="238.5" r="2.3" fill="#4b73ba" stroke="#3f64a8" stroke-width="0.5"/><circle cx="609.3" cy="237.9" r="2.3" fill="#4b73ba" stroke="#3f64a8" stroke-width="0.5"/><circle cx="637.3" cy="239.2" r="2.3" fill="#4b73ba" stroke="#3f64a8" stroke-width="0.5"/><circle cx="615.7" cy="240.1" r="2.3" fill="#4b73ba" stroke="#3f64a8" stroke-width="0.5"/><circle cx="604.5" cy="240.8" r="2.3" fill="#4b73ba" stroke="#3f64a8" stroke-width="0.5"/><circle cx="585.9" cy="241.7" r="2.3" fill="#4b73ba" stroke="#3f64a8" stroke-width="0.5"/><circle cx="593.3" cy="242.4" r="2.3" fill="#4b73ba" stroke="#3f64a8" stroke-width="0.5"/><circle cx="563.4" cy="243.4" r="2.3" fill="#4b73ba" stroke="#3f64a8" stroke-width="0.5"/><circle cx="553.1" cy="245.6" r="2.3" fill="#4b73ba" stroke="#3f64a8" stroke-width="0.5"/><circle cx="554.7" cy="247.5" r="2.3" fill="#4b73ba" stroke="#3f64a8" stroke-width="0.5"/><circle cx="557.9" cy="248.8" r="2.3" fill="#4b73ba" stroke="#3f64a8" stroke-width="0.5"/><circle cx="561.2" cy="249.8" r="2.3" fill="#4b73ba" stroke="#3f64a8" stroke-width="0.5"/><circle cx="579.5" cy="250.4" r="2.3" fill="#4b73ba" stroke="#3f64a8" stroke-width="0.5"/><circle cx="582" cy="253" r="2.3" fill="#4b73ba" stroke="#3f64a8" stroke-width="0.5"/><circle cx="588.5" cy="253.9" r="2.3" fill="#4b73ba" stroke="#3f64a8" stroke-width="0.5"/><circle cx="624.7" cy="254.6" r="2.3" fill="#4b73ba" stroke="#3f64a8" stroke-width="0.5"/><circle cx="583.6" cy="257.2" r="2.3" fill="#4b73ba" stroke="#3f64a8" stroke-width="0.5"/><circle cx="579.5" cy="258.4" r="2.3" fill="#4b73ba" stroke="#3f64a8" stroke-width="0.5"/><circle cx="574" cy="259.4" r="2.3" fill="#4b73ba" stroke="#3f64a8" stroke-width="0.5"/><circle cx="570.8" cy="261.7" r="2.3" fill="#4b73ba" stroke="#3f64a8" stroke-width="0.5"/><circle cx="570.1" cy="264.2" r="2.3" fill="#4b73ba" stroke="#3f64a8" stroke-width="0.5"/><circle cx="563.4" cy="265.8" r="2.3" fill="#4b73ba" stroke="#3f64a8" stroke-width="0.5"/><circle cx="584.8" cy="235.6" r="2.3" fill="#4b73ba" stroke="#3f64a8" stroke-width="0.5"/><circle cx="588.3" cy="243" r="2.3" fill="#4b73ba" stroke="#3f64a8" stroke-width="0.5"/><circle cx="594" cy="244.4" r="2.3" fill="#4b73ba" stroke="#3f64a8" stroke-width="0.5"/><circle cx="584.8" cy="255.7" r="2.3" fill="#4b73ba" stroke="#3f64a8" stroke-width="0.5"/><circle cx="615.3" cy="35.5" r="2.3" fill="#4b73ba" stroke="#3f64a8" stroke-width="0.5"/><circle cx="610.7" cy="61.1" r="2.3" fill="#4b73ba" stroke="#3f64a8" stroke-width="0.5"/><circle cx="595" cy="67.7" r="2.3" fill="#4b73ba" stroke="#3f64a8" stroke-width="0.5"/><circle cx="599.2" cy="69.7" r="2.3" fill="#4b73ba" stroke="#3f64a8" stroke-width="0.5"/><circle cx="598.3" cy="78.9" r="2.3" fill="#4b73ba" stroke="#3f64a8" stroke-width="0.5"/><circle cx="586.5" cy="93.3" r="2.3" fill="#4b73ba" stroke="#3f64a8" stroke-width="0.5"/><circle cx="601.6" cy="103.1" r="2.3" fill="#4b73ba" stroke="#3f64a8" stroke-width="0.5"/><circle cx="600.3" cy="106.4" r="2.3" fill="#4b73ba" stroke="#3f64a8" stroke-width="0.5"/><circle cx="587.9" cy="112.3" r="2.3" fill="#4b73ba" stroke="#3f64a8" stroke-width="0.5"/><circle cx="617.4" cy="104.2" r="2.3" fill="#4b73ba" stroke="#3f64a8" stroke-width="0.5"/><circle cx="604.9" cy="128.1" r="2.3" fill="#4b73ba" stroke="#3f64a8" stroke-width="0.5"/><circle cx="604.7" cy="131.8" r="2.3" fill="#4b73ba" stroke="#3f64a8" stroke-width="0.5"/><circle cx="603.5" cy="214.8" r="2.3" fill="#4b73ba" stroke="#3f64a8" stroke-width="0.5"/><circle cx="606.1" cy="216.8" r="2.3" fill="#4b73ba" stroke="#3f64a8" stroke-width="0.5"/><circle cx="606.1" cy="208.9" r="2.3" fill="#4b73ba" stroke="#3f64a8" stroke-width="0.5"/><circle cx="586.4" cy="222.7" r="2.3" fill="#4b73ba" stroke="#3f64a8" stroke-width="0.5"/><circle cx="507.2" cy="268.6" r="2.3" fill="#dadd40" stroke="#c6ca36" stroke-width="0.5"/><circle cx="565" cy="268.6" r="2.3" fill="#dadd40" stroke="#c6ca36" stroke-width="0.5"/><circle cx="243.7" cy="326.7" r="2.3" fill="#f3bc46" stroke="#e4a83a" stroke-width="0.5"/><circle cx="594.8" cy="267.1" r="2.3" fill="#e8622f" stroke="#d9541f" stroke-width="0.5"/><text x="85.2" y="337.3" class="ss" font-size="6.6" text-anchor="middle" fill="#222" >0.00</text><text x="181.4" y="337.3" class="ss" font-size="6.6" text-anchor="middle" fill="#222" >0.01</text><text x="277.6" y="337.3" class="ss" font-size="6.6" text-anchor="middle" fill="#222" >0.02</text><text x="373.8" y="337.3" class="ss" font-size="6.6" text-anchor="middle" fill="#222" >0.03</text><text x="470" y="337.3" class="ss" font-size="6.6" text-anchor="middle" fill="#222" >0.04</text><text x="566.2" y="337.3" class="ss" font-size="6.6" text-anchor="middle" fill="#222" >0.05</text><text x="662.4" y="337.3" class="ss" font-size="6.6" text-anchor="middle" fill="#222" >0.06</text><text x="369.2" y="345.2" class="ss" font-size="6.4" text-anchor="middle" fill="#222" >Divergence</text><text x="87.7" y="29.7" class="ss" font-size="9.8" text-anchor="start" fill="#111" >Clade</text><rect x="88.3" y="36" width="8.3" height="8.3" fill="#f5c04f" stroke="#eca63c" stroke-width="0.8"/><text x="101.4" y="42.3" class="ss" font-size="6.3" text-anchor="start" fill="#222" >A</text><rect x="88.3" y="46.2" width="8.3" height="8.3" fill="#e3e662" stroke="#c8cf58" stroke-width="0.8"/><text x="101.4" y="52.4" class="ss" font-size="6.3" text-anchor="start" fill="#222" >B</text><rect x="88.3" y="56.4" width="8.3" height="8.3" fill="#4e79bd" stroke="#4570b5" stroke-width="0.8"/><text x="101.4" y="62.6" class="ss" font-size="6.3" text-anchor="start" fill="#222" >C</text><rect x="166.3" y="36" width="8.3" height="8.3" fill="#a5d48a" stroke="#8cc272" stroke-width="0.8"/><text x="179.4" y="42.3" class="ss" font-size="6.3" text-anchor="start" fill="#222" >D</text><rect x="166.3" y="46.2" width="8.3" height="8.3" fill="#6fc6cc" stroke="#56aab3" stroke-width="0.8"/><text x="179.4" y="52.4" class="ss" font-size="6.3" text-anchor="start" fill="#222" >F</text><rect x="166.3" y="56.4" width="8.3" height="8.3" fill="#ea6638" stroke="#e25a2c" stroke-width="0.8"/><text x="179.4" y="62.6" class="ss" font-size="6.3" text-anchor="start" fill="#222" >G</text><text x="8" y="15.5" class="sf" font-size="16.5" text-anchor="start" fill="#111" >a</text><rect x="231.7" y="40.5" width="218.5" height="158.6" fill="#fff" stroke="#cbcbcb" stroke-width="1"/><text x="240.3" y="51.5" class="ss" font-size="9.8" text-anchor="start" fill="#111" >Clade</text><rect x="240.3" y="57.3" width="8.6" height="8.6" fill="#4b73ba" stroke="#3f64a8" stroke-width="0.5"/><text x="253.3" y="63.8" class="ss" font-size="6.3" text-anchor="start" fill="#222" >C</text><path d="M244.5,69.7L244.5,187.3" stroke="#e6e6e6" stroke-width="0.6" fill="none"/><path d="M253.4,69.7L253.4,187.3" stroke="#f3f3f3" stroke-width="0.6" fill="none"/><path d="M262.4,69.7L262.4,187.3" stroke="#e6e6e6" stroke-width="0.6" fill="none"/><path d="M271.3,69.7L271.3,187.3" stroke="#f3f3f3" stroke-width="0.6" fill="none"/><path d="M280.2,69.7L280.2,187.3" stroke="#e6e6e6" stroke-width="0.6" fill="none"/><path d="M289.1,69.7L289.1,187.3" stroke="#f3f3f3" stroke-width="0.6" fill="none"/><path d="M298.1,69.7L298.1,187.3" stroke="#e6e6e6" stroke-width="0.6" fill="none"/><path d="M307,69.7L307,187.3" stroke="#f3f3f3" stroke-width="0.6" fill="none"/><path d="M315.9,69.7L315.9,187.3" stroke="#e6e6e6" stroke-width="0.6" fill="none"/><path d="M324.8,69.7L324.8,187.3" stroke="#f3f3f3" stroke-width="0.6" fill="none"/><path d="M333.8,69.7L333.8,187.3" stroke="#e6e6e6" stroke-width="0.6" fill="none"/><path d="M342.7,69.7L342.7,187.3" stroke="#f3f3f3" stroke-width="0.6" fill="none"/><path d="M351.6,69.7L351.6,187.3" stroke="#e6e6e6" stroke-width="0.6" fill="none"/><path d="M360.5,69.7L360.5,187.3" stroke="#f3f3f3" stroke-width="0.6" fill="none"/><path d="M369.5,69.7L369.5,187.3" stroke="#e6e6e6" stroke-width="0.6" fill="none"/><path d="M378.4,69.7L378.4,187.3" stroke="#f3f3f3" stroke-width="0.6" fill="none"/><path d="M387.3,69.7L387.3,187.3" stroke="#e6e6e6" stroke-width="0.6" fill="none"/><path d="M396.2,69.7L396.2,187.3" stroke="#f3f3f3" stroke-width="0.6" fill="none"/><path d="M405.1,47.5L405.1,187.3" stroke="#e6e6e6" stroke-width="0.6" fill="none"/><path d="M414.1,47.5L414.1,187.3" stroke="#f3f3f3" stroke-width="0.6" fill="none"/><path d="M423,47.5L423,187.3" stroke="#e6e6e6" stroke-width="0.6" fill="none"/><path d="M431.9,47.5L431.9,187.3" stroke="#f3f3f3" stroke-width="0.6" fill="none"/><path d="M440.9,47.5L440.9,187.3" stroke="#e6e6e6" stroke-width="0.6" fill="none"/><text x="244.5" y="192.2" class="ss" font-size="2.6" text-anchor="middle" fill="#444" >1900</text><text x="262.4" y="192.2" class="ss" font-size="2.6" text-anchor="middle" fill="#444" >1910</text><text x="280.2" y="192.2" class="ss" font-size="2.6" text-anchor="middle" fill="#444" >1920</text><text x="298.1" y="192.2" class="ss" font-size="2.6" text-anchor="middle" fill="#444" >1930</text><text x="315.9" y="192.2" class="ss" font-size="2.6" text-anchor="middle" fill="#444" >1940</text><text x="333.8" y="192.2" class="ss" font-size="2.6" text-anchor="middle" fill="#444" >1950</text><text x="351.6" y="192.2" class="ss" font-size="2.6" text-anchor="middle" fill="#444" >1960</text><text x="369.5" y="192.2" class="ss" font-size="2.6" text-anchor="middle" fill="#444" >1970</text><text x="387.3" y="192.2" class="ss" font-size="2.6" text-anchor="middle" fill="#444" >1980</text><text x="405.1" y="192.2" class="ss" font-size="2.6" text-anchor="middle" fill="#444" >1990</text><text x="423" y="192.2" class="ss" font-size="2.6" text-anchor="middle" fill="#444" >2000</text><text x="440.9" y="192.2" class="ss" font-size="2.6" text-anchor="middle" fill="#444" >2010</text><text x="337.4" y="195.2" class="ss" font-size="2.6" text-anchor="middle" fill="#444" >Date</text><path d="M249,186.5V177.4H315.3M315.3,167.7V186.5M315.3,167.7H330M330,157.8V178M330,157.8H337M330,178H360M360,170V184M360,170H380M360,184H400M380,163V176M380,163H412M380,176H410M392,166V181M392,170H414M392,173H411M392,178H408M392,181H413M385,160H415M398,165.5H413M400,167.5H410M396,171.5H412M399,174.5H413M397,179.5H411M401,183H413M403,158.7V161M405,162V184M408,160V182" stroke="#e3e5e3" stroke-width="0.5" fill="none" /><path d="M337.1,157.9H345.4V156.7H358.5V155.1H377.5V151H396.4" stroke="#b3b3b3" stroke-width="2.6" fill="none" /><path d="M396.6,152.2V143.8H399.2V138.5H402.7V124.4H406.3V112H408.9V108.4H411.9V83.6H414.2V80H418.7V54.4" stroke="#b3b3b3" stroke-width="2.2" fill="none" /><path d="M345.4,158.7H389.3" stroke="#9a9a9a" stroke-width="0.6" fill="none" /><path d="M402.7,144.7H414.2V130.6" stroke="#b3b3b3" stroke-width="1.3" fill="none" /><path d="M414.2,136.8H417.8M414.2,134.1H418.7M414.2,130.6H419.5M414.2,132.9H424.9M399,147.9H406.3M403,153H421M411.9,101H413.5M411.9,105.7H413.5M406.3,113.5H416.6M406.3,111.6H418.5M408.9,115.9H414.2M418.7,54.4H423V47.5M411.9,91H415.9M411.9,89.8H419M411.9,94.6H419M418.7,56.6H423.7M418.7,59.5H424.2M418.7,70.4H423.7M418.7,83.4H422.5" stroke="#b3b3b3" stroke-width="0.8" fill="none" /><circle cx="423.7" cy="56.6" r="1.1" fill="#4870bd" stroke="#3f64a8" stroke-width="0.2"/><circle cx="421.3" cy="57.8" r="1.1" fill="#4870bd" stroke="#3f64a8" stroke-width="0.2"/><circle cx="424.2" cy="59.5" r="1.1" fill="#4870bd" stroke="#3f64a8" stroke-width="0.2"/><circle cx="422.5" cy="61.8" r="1.1" fill="#4870bd" stroke="#3f64a8" stroke-width="0.2"/><circle cx="419.7" cy="63.7" r="1.1" fill="#4870bd" stroke="#3f64a8" stroke-width="0.2"/><circle cx="421.5" cy="60.2" r="1.1" fill="#4870bd" stroke="#3f64a8" stroke-width="0.2"/><circle cx="423" cy="63.2" r="1.1" fill="#4870bd" stroke="#3f64a8" stroke-width="0.2"/><circle cx="420.8" cy="65.5" r="1.1" fill="#4870bd" stroke="#3f64a8" stroke-width="0.2"/><circle cx="423.7" cy="70.4" r="1.1" fill="#4870bd" stroke="#3f64a8" stroke-width="0.2"/><circle cx="421.3" cy="71.6" r="1.1" fill="#4870bd" stroke="#3f64a8" stroke-width="0.2"/><circle cx="420.2" cy="73.2" r="1.1" fill="#4870bd" stroke="#3f64a8" stroke-width="0.2"/><circle cx="419.6" cy="75.3" r="1.1" fill="#4870bd" stroke="#3f64a8" stroke-width="0.2"/><circle cx="419" cy="78" r="1.1" fill="#4870bd" stroke="#3f64a8" stroke-width="0.2"/><circle cx="420.2" cy="80.8" r="1.1" fill="#4870bd" stroke="#3f64a8" stroke-width="0.2"/><circle cx="422.5" cy="83.4" r="1.1" fill="#4870bd" stroke="#3f64a8" stroke-width="0.2"/><circle cx="420.5" cy="82.3" r="1.1" fill="#4870bd" stroke="#3f64a8" stroke-width="0.2"/><circle cx="419" cy="89.8" r="1.1" fill="#4870bd" stroke="#3f64a8" stroke-width="0.2"/><circle cx="415.9" cy="91" r="1.1" fill="#4870bd" stroke="#3f64a8" stroke-width="0.2"/><circle cx="419" cy="94.6" r="1.1" fill="#4870bd" stroke="#3f64a8" stroke-width="0.2"/><circle cx="413.5" cy="101" r="1.1" fill="#4870bd" stroke="#3f64a8" stroke-width="0.2"/><circle cx="413.5" cy="105.7" r="1.1" fill="#4870bd" stroke="#3f64a8" stroke-width="0.2"/><circle cx="418.5" cy="111.6" r="1.1" fill="#4870bd" stroke="#3f64a8" stroke-width="0.2"/><circle cx="416.6" cy="113.5" r="1.1" fill="#4870bd" stroke="#3f64a8" stroke-width="0.2"/><circle cx="414.2" cy="115.9" r="1.1" fill="#4870bd" stroke="#3f64a8" stroke-width="0.2"/><circle cx="419.7" cy="129.4" r="1.1" fill="#4870bd" stroke="#3f64a8" stroke-width="0.2"/><circle cx="419" cy="131.3" r="1.1" fill="#4870bd" stroke="#3f64a8" stroke-width="0.2"/><circle cx="424.9" cy="133" r="1.1" fill="#4870bd" stroke="#3f64a8" stroke-width="0.2"/><circle cx="417.8" cy="134.9" r="1.1" fill="#4870bd" stroke="#3f64a8" stroke-width="0.2"/><circle cx="416.6" cy="136.8" r="1.1" fill="#4870bd" stroke="#3f64a8" stroke-width="0.2"/><circle cx="418.8" cy="133.2" r="1.1" fill="#4870bd" stroke="#3f64a8" stroke-width="0.2"/><circle cx="420.5" cy="131.5" r="1.1" fill="#4870bd" stroke="#3f64a8" stroke-width="0.2"/><circle cx="417.5" cy="132.6" r="1.1" fill="#4870bd" stroke="#3f64a8" stroke-width="0.2"/><circle cx="415.4" cy="143.2" r="1.1" fill="#4870bd" stroke="#3f64a8" stroke-width="0.2"/><circle cx="416.6" cy="144.9" r="1.1" fill="#4870bd" stroke="#3f64a8" stroke-width="0.2"/><circle cx="414.6" cy="144.8" r="1.1" fill="#4870bd" stroke="#3f64a8" stroke-width="0.2"/><circle cx="416" cy="143.4" r="1.1" fill="#4870bd" stroke="#3f64a8" stroke-width="0.2"/><circle cx="415.5" cy="145.8" r="1.1" fill="#4870bd" stroke="#3f64a8" stroke-width="0.2"/><circle cx="416.9" cy="143.9" r="1.1" fill="#4870bd" stroke="#3f64a8" stroke-width="0.2"/><circle cx="406.4" cy="148" r="1.1" fill="#4870bd" stroke="#3f64a8" stroke-width="0.2"/><circle cx="415.1" cy="152.7" r="1.1" fill="#4870bd" stroke="#3f64a8" stroke-width="0.2"/><circle cx="421" cy="153.2" r="1.1" fill="#4870bd" stroke="#3f64a8" stroke-width="0.2"/><circle cx="423.4" cy="59.6" r="1.1" fill="#4870bd" stroke="#3f64a8" stroke-width="0.2"/><circle cx="420.7" cy="56.5" r="1.1" fill="#4870bd" stroke="#3f64a8" stroke-width="0.2"/><circle cx="423" cy="58.8" r="1.1" fill="#4870bd" stroke="#3f64a8" stroke-width="0.2"/><circle cx="422.5" cy="57.3" r="1.1" fill="#4870bd" stroke="#3f64a8" stroke-width="0.2"/><circle cx="422.3" cy="58.4" r="1.1" fill="#4870bd" stroke="#3f64a8" stroke-width="0.2"/><circle cx="422.2" cy="60.8" r="1.1" fill="#4870bd" stroke="#3f64a8" stroke-width="0.2"/><circle cx="421.8" cy="61.6" r="1.1" fill="#4870bd" stroke="#3f64a8" stroke-width="0.2"/><circle cx="422.7" cy="63.8" r="1.1" fill="#4870bd" stroke="#3f64a8" stroke-width="0.2"/><circle cx="423.3" cy="62.2" r="1.1" fill="#4870bd" stroke="#3f64a8" stroke-width="0.2"/><circle cx="421.8" cy="61.2" r="1.1" fill="#4870bd" stroke="#3f64a8" stroke-width="0.2"/><circle cx="419.6" cy="70.3" r="1.1" fill="#4870bd" stroke="#3f64a8" stroke-width="0.2"/><circle cx="420.9" cy="71.3" r="1.1" fill="#4870bd" stroke="#3f64a8" stroke-width="0.2"/><circle cx="420.6" cy="73.4" r="1.1" fill="#4870bd" stroke="#3f64a8" stroke-width="0.2"/><circle cx="421.1" cy="72.2" r="1.1" fill="#4870bd" stroke="#3f64a8" stroke-width="0.2"/><circle cx="420.2" cy="70.3" r="1.1" fill="#4870bd" stroke="#3f64a8" stroke-width="0.2"/><circle cx="419.5" cy="77.7" r="1.1" fill="#4870bd" stroke="#3f64a8" stroke-width="0.2"/><circle cx="420" cy="80.8" r="1.1" fill="#4870bd" stroke="#3f64a8" stroke-width="0.2"/><circle cx="420.5" cy="77.9" r="1.1" fill="#4870bd" stroke="#3f64a8" stroke-width="0.2"/><circle cx="421.2" cy="80.1" r="1.1" fill="#4870bd" stroke="#3f64a8" stroke-width="0.2"/><circle cx="420.7" cy="80.5" r="1.1" fill="#4870bd" stroke="#3f64a8" stroke-width="0.2"/><circle cx="421.3" cy="83" r="1.1" fill="#4870bd" stroke="#3f64a8" stroke-width="0.2"/><circle cx="420.1" cy="83.7" r="1.1" fill="#4870bd" stroke="#3f64a8" stroke-width="0.2"/><circle cx="421.9" cy="80.8" r="1.1" fill="#4870bd" stroke="#3f64a8" stroke-width="0.2"/><circle cx="421.3" cy="82.8" r="1.1" fill="#4870bd" stroke="#3f64a8" stroke-width="0.2"/><circle cx="420.4" cy="82.1" r="1.1" fill="#4870bd" stroke="#3f64a8" stroke-width="0.2"/><circle cx="418.5" cy="133.5" r="1.1" fill="#4870bd" stroke="#3f64a8" stroke-width="0.2"/><circle cx="418.5" cy="133.2" r="1.1" fill="#4870bd" stroke="#3f64a8" stroke-width="0.2"/><circle cx="418.1" cy="133.4" r="1.1" fill="#4870bd" stroke="#3f64a8" stroke-width="0.2"/><circle cx="419.7" cy="131.9" r="1.1" fill="#4870bd" stroke="#3f64a8" stroke-width="0.2"/><circle cx="418.7" cy="133.5" r="1.1" fill="#4870bd" stroke="#3f64a8" stroke-width="0.2"/><circle cx="418.2" cy="135" r="1.1" fill="#4870bd" stroke="#3f64a8" stroke-width="0.2"/><circle cx="416.7" cy="134.4" r="1.1" fill="#4870bd" stroke="#3f64a8" stroke-width="0.2"/><circle cx="418.1" cy="133.8" r="1.1" fill="#4870bd" stroke="#3f64a8" stroke-width="0.2"/><circle cx="418.7" cy="134.2" r="1.1" fill="#4870bd" stroke="#3f64a8" stroke-width="0.2"/><circle cx="418.7" cy="134.3" r="1.1" fill="#4870bd" stroke="#3f64a8" stroke-width="0.2"/><circle cx="417.4" cy="145.2" r="1.1" fill="#4870bd" stroke="#3f64a8" stroke-width="0.2"/><circle cx="416" cy="144.6" r="1.1" fill="#4870bd" stroke="#3f64a8" stroke-width="0.2"/><circle cx="416.5" cy="144.8" r="1.1" fill="#4870bd" stroke="#3f64a8" stroke-width="0.2"/><circle cx="415.4" cy="143.4" r="1.1" fill="#4870bd" stroke="#3f64a8" stroke-width="0.2"/><circle cx="416" cy="146.1" r="1.1" fill="#4870bd" stroke="#3f64a8" stroke-width="0.2"/><path d="M197.5,394L197.5,668.5" stroke="#d8d8d8" stroke-width="0.9" fill="none"/><path d="M257.7,394L257.7,668.5" stroke="#d8d8d8" stroke-width="0.9" fill="none"/><path d="M317.9,394L317.9,668.5" stroke="#d8d8d8" stroke-width="0.9" fill="none"/><path d="M378.1,394L378.1,668.5" stroke="#d8d8d8" stroke-width="0.9" fill="none"/><path d="M438.3,394L438.3,668.5" stroke="#d8d8d8" stroke-width="0.9" fill="none"/><path d="M498.5,394L498.5,668.5" stroke="#d8d8d8" stroke-width="0.9" fill="none"/><path d="M558.7,394L558.7,668.5" stroke="#d8d8d8" stroke-width="0.9" fill="none"/><path d="M618.9,394L618.9,668.5" stroke="#d8d8d8" stroke-width="0.9" fill="none"/><rect x="78" y="376" width="152" height="56.5" fill="#fff" stroke="none" stroke-width="0"/><path d="M276.4,666H398.7" stroke="#bababa" stroke-width="1.3" fill="none" /><path d="M398.7,665.1H461.8M398.7,667.3H441M398.7,665.1V667.3" stroke="#bababa" stroke-width="1" fill="none" /><path d="M407,664H444.3M410,665.9H429.5M425,664.7H440M430,667H441.2M440,665.4H463" stroke="#a9d196" stroke-width="1.1" fill="none" /><path d="M407,662.9H525.4" stroke="#cfd19a" stroke-width="1" fill="none" /><path d="M348.2,612.5H455" stroke="#d9806a" stroke-width="1.1" fill="none" /><path d="M197.5,669V648.3H276.4" stroke="#b4b6b8" stroke-width="5" fill="none" /><path d="M276.4,667V631.6H304.4" stroke="#b4b6b8" stroke-width="5" fill="none" /><path d="M304.4,656V605.5" stroke="#b4b6b8" stroke-width="5" fill="none" /><path d="M304.4,608H349.9V604.6H407.3" stroke="#b4b6b8" stroke-width="5" fill="none" /><path d="M349.9,604.6V612" stroke="#b4b6b8" stroke-width="4" fill="none" /><path d="M407.3,610.3V599.6H441.3" stroke="#b4b6b8" stroke-width="4.3" fill="none" /><path d="M441.3,604.2V593.3H449.6" stroke="#b4b6b8" stroke-width="4" fill="none" /><path d="M449.6,595.5V585.3H454" stroke="#b4b6b8" stroke-width="4" fill="none" /><path d="M454,586.7V577.2H462" stroke="#b4b6b8" stroke-width="4" fill="none" /><path d="M462.4,589.6V556" stroke="#b4b6b8" stroke-width="4.8" fill="none" /><path d="M464.5,558V536.7" stroke="#b4b6b8" stroke-width="6.6" fill="none" /><path d="M466.6,538V511H484.8" stroke="#b4b6b8" stroke-width="3.4" fill="none" /><path d="M483,519.4V498" stroke="#b4b6b8" stroke-width="4.4" fill="none" /><path d="M483.8,500V478" stroke="#b4b6b8" stroke-width="3.5" fill="none" /><path d="M484.8,480V450.8H501.8" stroke="#b4b6b8" stroke-width="2.7" fill="none" /><path d="M501.8,463.8V402.2H508" stroke="#b4b6b8" stroke-width="1.9" fill="none" /><path d="M441.3,604.2H468.6M432.8,610.5H468.6M449.6,594.7H462.8" stroke="#bababa" stroke-width="1.2" fill="none" /><path d="M195,668.6L284.4,668.6" stroke="#dcbb8e" stroke-width="1.2" fill="none"/><path d="M304.4,653.6H378.7" stroke="#b4b6b8" stroke-width="3.4" fill="none" /><path d="M378.7,643V664M378.7,644.1H418.1" stroke="#b4b6b8" stroke-width="2.2" fill="none" /><path d="M508,401.2L510.5,401.2" stroke="#bababa" stroke-width="1.5" fill="none"/><path d="M510.5,395.5V406.8M510.5,395.5H510.5M510.5,393.5V397.5M510.5,393.5H514.2M510.5,397.5H510.5M510.5,396.4V398.7M510.5,396.4H522.1M522.1,395.9V396.8M522.1,395.9H522.7M522.1,396.8H522.2M510.5,398.7H510.6M510.6,398.7V398.7M510.6,398.7H511M510.6,398.7H511.7M510.5,406.8H510.5M510.5,401V412.5M510.5,401H513.5M513.5,399.9V402.2M513.5,399.9H516.1M513.5,402.2H515.9M515.9,402.2V402.2M515.9,402.2H516.2M515.9,402.2H518M510.5,412.5H510.5M510.5,410.1V415M510.5,410.1H510.5M510.5,406.2V413.9M510.5,406.2H510.5M510.5,405.2V407.2M510.5,405.2H512.1M510.5,407.2H510.5M510.5,405.2V409.3M510.5,405.2H513.5M510.5,409.3H510.5M510.5,407.6V410.9M510.5,407.6H510.9M510.5,410.9H510.5M510.5,410.4V411.5M510.5,410.4H510.9M510.5,411.5H510.9M510.5,413.9H511.3M510.5,415H510.9" stroke="#bababa" stroke-width="1.4" fill="none" /><path d="M514.2,393.5H528.8M522.7,395.9H525.3M522.2,396.8H522.9M511,398.7H512.5M511.7,398.7H515.9M516.1,399.9H526.9M516.2,402.2H517.1M518,402.2H526.4M512.1,405.2H518.3M513.5,405.2H525.3M510.9,407.6H512.5M510.9,410.4H512.5M510.9,411.5H512.5M511.3,413.9H514.7M510.9,415H512.5" stroke="#95a5d1" stroke-width="1.2" fill="none" /><path d="M501.8,425L504.3,425" stroke="#bababa" stroke-width="1.5" fill="none"/><path d="M504.3,422.3V427.6M504.3,422.3H504.3M504.3,419.9V424.7M504.3,419.9H504.3M504.3,417.9V421.8M504.3,417.9H505.9M505.9,417.4V418.5M505.9,417.4H508.2M505.9,418.5H506.3M504.3,421.8H504.6M504.6,420.4V423.2M504.6,420.4H507M507,419.7V421.1M507,419.7H507.8M507,421.1H508.6M508.6,420.2V422M508.6,420.2H509.8M508.6,422H508.8M504.6,423.2H506.1M504.3,424.7H509.1M509.1,423.9V425.5M509.1,423.9H510.5M509.1,425.5H509.3M504.3,427.6H509.1M509.1,426.7V428.6M509.1,426.7H510M509.1,428.6H509.5" stroke="#bababa" stroke-width="1.4" fill="none" /><path d="M508.2,417.4H517.1M506.3,418.5H507.7M507.8,419.7H511.2M509.8,420.2H514.7M508.8,422H509.6M506.1,423.2H512.4M510.5,423.9H515.9M509.3,425.5H510.1M510,426.7H513.6M509.5,428.6H511.2" stroke="#95a5d1" stroke-width="1.2" fill="none" /><path d="M501.8,438.7L504.3,438.7" stroke="#bababa" stroke-width="1.5" fill="none"/><path d="M504.3,435.4V442M504.3,435.4H506.9M506.9,432.4V438.5M506.9,432.4H509.6M509.6,430V434.8M509.6,430H511.4M511.4,429.5V430.4M511.4,429.5H512M511.4,430.4H516.8M516.8,429.5V431.4M516.8,429.5H517.7M516.8,431.4H517.1M509.6,434.8H512.1M512.1,433.4V436.1M512.1,433.4H515.1M515.1,432.6V434.2M515.1,432.6H515.2M515.1,434.2H516.8M512.1,436.1H513.8M506.9,438.5H520.2M520.2,437.9V439.1M520.2,437.9H520.6M520.2,439.1H521.3M504.3,442H510.4M510.4,440.3V443.6M510.4,440.3H511.9M510.4,443.6H513.8M513.8,443.1V444.2M513.8,443.1H514.3M513.8,444.2H514.7" stroke="#bababa" stroke-width="1.4" fill="none" /><path d="M512,429.5H514.7M517.7,429.5H521.3M517.1,431.4H518.3M515.2,432.6H515.9M516.8,434.2H523.6M513.8,436.1H520.6M520.6,437.9H522.2M521.3,439.1H526M511.9,440.3H517.8M514.3,443.1H516.6M514.7,444.2H518.3" stroke="#95a5d1" stroke-width="1.2" fill="none" /><path d="M484.8,457.3L504.3,457.3" stroke="#bababa" stroke-width="1.5" fill="none"/><path d="M504.3,451.6V463.1M504.3,451.6H507.1M507.1,448.9V454.2M507.1,448.9H508.9M508.9,447.1V450.6M508.9,447.1H511.8M511.8,446.6V447.7M511.8,446.6H512.4M511.8,447.7H514.3M508.9,450.6H511.9M511.9,450.1V451.2M511.9,450.1H512.4M511.9,451.2H516.8M507.1,454.2H508.9M508.9,453V455.5M508.9,453H523.7M523.7,452.4V453.6M523.7,452.4H524.6M523.7,453.6H523.9M508.9,455.5H511M511,454.3V456.6M511,454.3H511.5M511,456.6H511.3M504.3,463.1H504.3M504.3,459.7V466.4M504.3,459.7H504.3M504.3,457.4V462.1M504.3,457.4H511.9M511.9,457.1V457.6M511.9,457.1H512.6M511.9,457.6H517.4M504.3,462.1H506.6M506.6,460.4V463.9M506.6,460.4H509.6M509.6,459.4V461.3M509.6,459.4H510.4M509.6,461.3H509.9M506.6,463.9H507.8M507.8,463.1V464.6M507.8,463.1H508.8M508.8,462.2V464.1M508.8,462.2H510.9M508.8,464.1H509.1M507.8,464.6H511.4M504.3,466.4H505" stroke="#bababa" stroke-width="1.4" fill="none" /><path d="M512.4,446.6H514.7M514.3,447.7H524.1M512.4,450.1H514.3M516.8,451.2H536.2M524.6,452.4H528.3M523.9,453.6H524.6M511.5,454.3H513.6M511.3,456.6H512.4M512.6,457.1H515.2M517.4,457.6H539.3M510.4,459.4H513.6M509.9,461.3H511.2M510.9,462.2H519.4M509.1,464.1H510.1M511.4,464.6H526M505,466.4H507.7" stroke="#95a5d1" stroke-width="1.2" fill="none" /><path d="M484.8,473.7L487.3,473.7" stroke="#bababa" stroke-width="1.5" fill="none"/><path d="M487.3,466.9V480.4M487.3,466.9H494.2M487.3,480.4H488M488,476.4V484.5M488,476.4H491.1M491.1,472.1V480.7M491.1,472.1H497.1M497.1,469.4V474.9M497.1,469.4H498.4M498.4,468.2V470.5M498.4,468.2H500.5M500.5,467.6V468.8M500.5,467.6H503.5M500.5,468.8H500.7M498.4,470.5H501.2M501.2,469.9V471.2M501.2,469.9H501.8M501.2,471.2H503.9M497.1,474.9H507.4M507.4,472.7V477M507.4,472.7H509.1M509.1,471.9V473.5M509.1,471.9H509.3M509.1,473.5H511.2M507.4,477H510.6M510.6,475.8V478.2M510.6,475.8H511.9M510.6,478.2H511.2M491.1,480.7H492.3M492.3,479.6V481.7M492.3,479.6H494.3M494.3,479.3V480M494.3,479.3H497.2M494.3,480H494.8M492.3,481.7H509M509,481.7V481.7M509,481.7H509.2M509,481.7H510.1M488,484.5H492.9" stroke="#bababa" stroke-width="1.4" fill="none" /><path d="M494.2,466.9H521.8M503.5,467.6H515.9M500.7,468.8H501.9M501.8,469.9H504.2M503.9,471.2H514.7M509.3,471.9H510.1M511.2,473.5H519.4M511.9,475.8H517.1M511.2,478.2H513.6M497.2,479.3H508.9M494.8,480H496.8M509.2,481.7H510.1M510.1,481.7H514.3M492.9,484.5H512.4" stroke="#95a5d1" stroke-width="1.2" fill="none" /><path d="M484.8,490.4L487.3,490.4" stroke="#bababa" stroke-width="1.5" fill="none"/><path d="M487.3,488V492.8M487.3,488H492.3M492.3,486.6V489.4M492.3,486.6H495M495,486.4V486.8M495,486.4H495.7M495,486.8H496.8M492.3,489.4H495.5M495.5,488.2V490.6M495.5,488.2H497.9M495.5,490.6H496.2M487.3,492.8H487.3M487.3,492.2V493.4M487.3,492.2H489M487.3,493.4H487.7" stroke="#bababa" stroke-width="1.4" fill="none" /><path d="M495.7,486.4H498.4M496.8,486.8H504.2M497.9,488.2H507.7M496.2,490.6H498.9M489,492.2H495.6M487.7,493.4H489.3" stroke="#95a5d1" stroke-width="1.2" fill="none" /><path d="M484.8,501.2L487.3,501.2" stroke="#bababa" stroke-width="1.5" fill="none"/><path d="M487.3,496.3V506.1M487.3,496.3H493.1M493.1,494.5V498M493.1,494.5H493.9M493.1,498H496.6M496.6,496.9V499.2M496.6,496.9H496.9M496.6,499.2H497.6M487.3,506.1H487.3M487.3,502.4V509.9M487.3,502.4H497.2M497.2,501.5V503.2M497.2,501.5H497.8M497.2,503.2H498.3M487.3,509.9H487.3M487.3,507.3V512.5M487.3,507.3H487.3M487.3,505V509.7M487.3,505H488.4M487.3,509.7H487.3M487.3,507.8V511.6M487.3,507.8H487.8M487.8,506.9V508.8M487.8,506.9H490.4M490.4,506.9V506.9M490.4,506.9H490.6M490.4,506.9H491.6M487.8,508.8H495.7M495.7,507.8V509.7M495.7,507.8H497.9M495.7,509.7H496.3M487.3,511.6H488.4M488.4,510.9V512.2M488.4,510.9H488.8M488.4,512.2H489.3M487.3,512.5H488.8" stroke="#bababa" stroke-width="1.4" fill="none" /><path d="M493.9,494.5H497.2M496.9,496.9H498.4M497.6,499.2H501.9M497.8,501.5H500.3M498.3,503.2H503.1M488.4,505H492.6M490.6,506.9H491.4M491.6,506.9H496.1M497.9,507.8H506.6M496.3,509.7H498.4M488.8,510.9H490.2M489.3,512.2H493M488.8,512.5H494.9" stroke="#95a5d1" stroke-width="1.2" fill="none" /><path d="M466.6,518.8L478.9,518.8" stroke="#bababa" stroke-width="1.5" fill="none"/><path d="M478.9,515.1V522.4M478.9,515.1H493.1M493.1,513.8V516.5M493.1,513.8H496M496,513.2V514.4M496,513.2H496.5M496,514.4H498.6M493.1,516.5H503.3M503.3,516.3V516.7M503.3,516.3H503.7M503.3,516.7H504.7M478.9,522.4H480.8M480.8,520V524.8M480.8,520H484.7M484.7,519.1V520.9M484.7,519.1H488.4M484.7,520.9H485.1M480.8,524.8H484.1M484.1,524.1V525.4M484.1,524.1H485.9M485.9,523.3V524.9M485.9,523.3H486.2M485.9,524.9H487.1M484.1,525.4H487.2" stroke="#bababa" stroke-width="1.4" fill="none" /><path d="M496.5,513.2H498.4M498.6,514.4H508.9M503.7,516.3H505.4M504.7,516.7H510.1M488.4,519.1H503.5M485.1,520.9H486.7M486.2,523.3H487.4M487.1,524.9H491.9M487.2,525.4H499.6" stroke="#95a5d1" stroke-width="1.2" fill="none" /><path d="M466.6,532.2L489.8,532.2" stroke="#bababa" stroke-width="1.5" fill="none"/><path d="M489.8,527.1V537.4M489.8,527.1H492.7M492.7,526.5V527.7M492.7,526.5H493.4M492.7,527.7H497.9M489.8,537.4H493.7M493.7,532.8V542M493.7,532.8H501M501,529.8V535.8M501,529.8H507M507,528.9V530.8M507,528.9H507.8M507,530.8H508.8M508.8,530.3V531.2M508.8,530.3H509M508.8,531.2H509.5M501,535.8H503.3M503.3,534.2V537.4M503.3,534.2H506.2M506.2,533.5V534.9M506.2,533.5H506.8M506.2,534.9H509M503.3,537.4H506.4M506.4,536.6V538.2M506.4,536.6H506.7M506.4,538.2H507.2M493.7,542H495M495,540.2V543.7M495,540.2H506.6M506.6,539.6V540.8M506.6,539.6H509.5M509.5,538.9V540.4M509.5,538.9H510.8M509.5,540.4H510M506.6,540.8H508M495,543.7H497.5M497.5,542.4V545M497.5,542.4H499.9M499.9,541.2V543.6M499.9,541.2H500.4M499.9,543.6H502.8M497.5,545H500.6M500.6,544.7V545.2M500.6,544.7H500.8M500.6,545.2H502" stroke="#bababa" stroke-width="1.4" fill="none" /><path d="M493.4,526.5H496.1M497.9,527.7H519M507.8,528.9H511M509,530.3H510.1M509.5,531.2H512.4M506.8,533.5H508.9M509,534.9H520.1M506.7,536.6H507.7M507.2,538.2H510.1M510.8,538.9H515.9M510,540.4H512M508,540.8H513.6M500.4,541.2H502.6M502.8,543.6H514.7M500.8,544.7H501.9M502,545.2H507.7" stroke="#95a5d1" stroke-width="1.2" fill="none" /><path d="M464.6,553.1L491.5,553.1" stroke="#bababa" stroke-width="1.5" fill="none"/><path d="M491.5,549.2V556.9M491.5,549.2H492.8M492.8,546.9V551.6M492.8,546.9H494.4M494.4,546.6V547.1M494.4,546.6H495.1M494.4,547.1H496.6M492.8,551.6H509.1M509.1,549.4V553.8M509.1,549.4H509.8M509.1,553.8H510.3M510.3,552.2V555.3M510.3,552.2H510.6M510.3,555.3H510.4M491.5,556.9H493.4" stroke="#bababa" stroke-width="1.4" fill="none" /><path d="M495.1,546.6H497.9M496.6,547.1H505.4M509.8,549.4H512.4M510.6,552.2H511.9M510.4,555.3H511.2M493.4,556.9H501.2" stroke="#95a5d1" stroke-width="1.2" fill="none" /><path d="M462,561.3L487.9,561.3" stroke="#bababa" stroke-width="1.5" fill="none"/><path d="M487.9,559.6V563M487.9,559.6H491.3M491.3,558.2V561M491.3,558.2H494.5M494.5,557.6V558.8M494.5,557.6H497.4M494.5,558.8H496.3M496.3,558.3V559.2M496.3,558.3H500.3M496.3,559.2H496.8M491.3,561H493M493,560.8V561.4M493,560.8H494.8M494.8,560.4V561.1M494.8,560.4H499.6M494.8,561.1H495.3M493,561.4H506.2M506.2,561.1V561.6M506.2,561.1H507.6M506.2,561.6H506.7M487.9,563H489.5" stroke="#bababa" stroke-width="1.4" fill="none" /><path d="M497.4,557.6H508.9M500.3,558.3H515.9M496.8,559.2H498.4M499.6,560.4H519M495.3,561.1H497.2M507.6,561.1H513.6M506.7,561.6H508.9M489.5,563H496.1" stroke="#95a5d1" stroke-width="1.2" fill="none" /><path d="M462,567.8L480.7,567.8" stroke="#bababa" stroke-width="1.5" fill="none"/><path d="M480.7,565.1V570.5M480.7,565.1H483.7M483.7,563.9V566.4M483.7,563.9H484.7M483.7,566.4H485.4M485.4,565.3V567.5M485.4,565.3H487.7M487.7,564.6V566M487.7,564.6H488.5M487.7,566H488.4M485.4,567.5H488.4M488.4,566.9V568.1M488.4,566.9H488.7M488.4,568.1H491.3M480.7,570.5H490.3M490.3,570V570.9M490.3,570H493.1M490.3,570.9H491" stroke="#bababa" stroke-width="1.4" fill="none" /><path d="M484.7,563.9H488.6M488.5,564.6H491.9M488.4,566H491.1M488.7,566.9H489.5M491.3,568.1H502.6M493.1,570H504.2M491,570.9H493.7" stroke="#95a5d1" stroke-width="1.2" fill="none" /><path d="M462,575.7L468.5,575.7" stroke="#bababa" stroke-width="1.5" fill="none"/><path d="M468.5,573.2V578.1M468.5,573.2H486.7M486.7,572.3V574M486.7,572.3H493M493,571.9V572.8M493,571.9H493.5M493,572.8H494.1M486.7,574H486.9M468.5,578.1H470.8M470.8,577V579.3M470.8,577H474M474,576.4V577.6M474,576.4H477.3M477.3,575.7V577M477.3,575.7H479.8M479.8,575.1V576.3M479.8,575.1H480.5M479.8,576.3H482.3M477.3,577H477.7M474,577.6H483.9M483.9,577.4V577.9M483.9,577.4H487.6M487.6,577.2V577.5M487.6,577.2H487.9M487.6,577.5H489.3M483.9,577.9H484.3M470.8,579.3H484.2M484.2,578.8V579.8M484.2,578.8H484.9M484.2,579.8H484.6" stroke="#bababa" stroke-width="1.4" fill="none" /><path d="M493.5,571.9H495.1M494.1,572.8H498.4M486.9,574H487.9M480.5,575.1H483.2M482.3,576.3H492.6M477.7,577H479.7M487.9,577.2H489.4M489.3,577.5H496.1M484.3,577.9H485.6M484.9,578.8H487.6M484.6,579.8H485.9" stroke="#95a5d1" stroke-width="1.2" fill="none" /><path d="M449.6,586.2L466.3,586.2" stroke="#bababa" stroke-width="1.5" fill="none"/><path d="M466.3,583.8V588.6M466.3,583.8H485.1M485.1,583.3V584.4M485.1,583.3H487.2M487.2,583.3V583.3M487.2,583.3H487.6M487.2,583.3H488.8M485.1,584.4H486.4M466.3,588.6H467.2M467.2,587V590.2M467.2,587H481.9M481.9,585.8V588.2M481.9,585.8H483.4M483.4,584.7V586.8M483.4,584.7H486.7M483.4,586.8H483.9M481.9,588.2H484.1M467.2,590.2H468.7M468.7,588.8V591.5M468.7,588.8H492.9M492.9,588.4V589.3M492.9,588.4H493.2M492.9,589.3H493.6M468.7,591.5H472.1M472.1,590.3V592.7M472.1,590.3H473.1M472.1,592.7H474.6M474.6,591.7V593.6M474.6,591.7H484.8M484.8,591.7V591.7M484.8,591.7H485.2M484.8,591.7H486.2M474.6,593.6H475.5M475.5,593V594.3M475.5,593H475.8M475.5,594.3H476.4" stroke="#bababa" stroke-width="1.4" fill="none" /><path d="M487.6,583.3H489.3M488.8,583.3H495.3M486.4,584.4H491.8M486.7,584.7H499.9M483.9,586.8H485.8M484.1,588.2H492.8M493.2,588.4H494.4M493.6,589.3H496.4M473.1,590.3H477.1M485.2,591.7H486.9M486.2,591.7H491.8M475.8,593H476.7M476.4,594.3H480" stroke="#95a5d1" stroke-width="1.2" fill="none" /><path d="M441.3,596.7L453,596.7" stroke="#bababa" stroke-width="1.5" fill="none"/><path d="M453,594.9V598.6M453,594.9H466.5M466.5,594.5V595.2M466.5,594.5H466.6M466.5,595.2H468.2M453,598.6H456.4M456.4,596V601.1M456.4,596H458.6M458.6,595.4V596.6M458.6,595.4H461.5M461.5,595.2V595.6M461.5,595.2H466.6M461.5,595.6H462.1M458.6,596.6H466.1M456.4,601.1H476.7M476.7,600.1V602.2M476.7,600.1H478.3M478.3,598.7V601.5M478.3,598.7H481M481,598.2V599.1M481,598.2H482M481,599.1H481.6M478.3,601.5H479.1M476.7,602.2H479.6" stroke="#bababa" stroke-width="1.4" fill="none" /><path d="M466.6,594.5H467.3M468.2,595.2H475.3M466.6,595.2H486.9M462.1,595.6H464.8M466.1,596.6H496.4M482,598.2H485.9M481.6,599.1H484.1M479.1,601.5H482.3M479.6,602.2H491.1" stroke="#95a5d1" stroke-width="1.2" fill="none" /><path d="M441.3,605.2L460.9,605.2" stroke="#bababa" stroke-width="1.5" fill="none"/><path d="M460.9,603.6V606.9M460.9,603.6H481.1M481.1,602.5V604.6M481.1,602.5H483.4M483.4,602.2V602.8M483.4,602.2H488.4M483.4,602.8H483.5M481.1,604.6H484.2M484.2,604.3V605M484.2,604.3H484.5M484.2,605H486.3M460.9,606.9H464.1M464.1,605.5V608.2M464.1,605.5H472.5M472.5,605V606.1M472.5,605H473.1M472.5,606.1H475.5M464.1,608.2H467.4M467.4,606.8V609.6M467.4,606.8H472.5M467.4,609.6H469.4M469.4,608.5V610.8M469.4,608.5H476.9M476.9,607.8V609.2M476.9,607.8H486.7M486.7,607.8V607.8M486.7,607.8H487.2M486.7,607.8H492.1M476.9,609.2H477.5M469.4,610.8H470.9M470.9,610.3V611.3M470.9,610.3H479.6M470.9,611.3H471.1" stroke="#bababa" stroke-width="1.4" fill="none" /><path d="M488.4,602.2H508.6M483.5,602.8H484.2M484.5,604.3H485.8M486.3,605H494.6M473.1,605H475.3M475.5,606.1H487.2M472.5,606.8H492.9M487.2,607.8H489.3M492.1,607.8H513.9M477.5,609.2H479.9M479.6,610.3H514.6M471.1,611.3H471.8" stroke="#95a5d1" stroke-width="1.2" fill="none" /><path d="M418.1,631.3V656.2M418.1,631.3H432.1M432.1,621.7V641.3M432.1,621.7H444.9M444.9,616.8V626.4M444.9,616.8H455.8M455.8,614.6V618.1M455.8,614.6H529.7M529.7,613.8V615.5M529.7,613.8H535.8M535.8,613.1V614.5M535.8,613.1H542.8M535.8,614.5H540.8M540.8,614.5V614.5M540.8,614.5H548.4M540.8,614.5H544.1M529.7,615.5H535.2M455.8,618.1H528.1M528.1,616.9V619.4M528.1,616.9H535M535,616.5V617.3M535,616.5H538.6M535,617.3H539.2M528.1,619.4H534.9M534.9,619V619.8M534.9,619H537.3M534.9,619.8H540.1M444.9,626.4H449.7M449.7,622.3V626.4M449.7,622.3H523M523,621.2V623.5M523,621.2H533.3M533.3,620.5V621.9M533.3,620.5H535.6M533.3,621.9H535.1M523,623.5H528M528,622.6V624.3M528,622.6H540.6M528,624.3H531.1M449.7,626.2H506.6M506.6,625.5V627M506.6,625.5H523M523,625V626.1M523,625H539.9M523,626.1H526.8M506.6,627H512.1M512.1,626.1V627.8M512.1,626.1H523.2M512.1,627.8H518M518,627.8V627.8M518,627.8H520.4M518,627.8H522.1M432.1,641.3H482M482,628.7V641.3M482,628.7H568M568,628.5V628.9M568,628.5H570.7M568,628.9H573.3M482,635.9H521.5M521.5,631.3V640.5M521.5,631.3H543.6M521.5,640.5H524M524,638.1V642.9M524,638.1H528.7M528.7,634.8V641.5M528.7,634.8H531.4M531.4,632.7V636.9M531.4,632.7H550.8M550.8,632V633.5M550.8,632H555M550.8,633.5H553.2M553.2,633V633.9M553.2,633H558.5M553.2,633.9H560.1M560.1,633V634.8M560.1,633H569.1M569.1,633V633.1M569.1,633H573.5M569.1,633.1H571M560.1,634.8H575.1M575.1,634.1V635.5M575.1,634.1H579.1M575.1,635.5H581.2M531.4,636.9H533.9M533.9,635.5V638.2M533.9,635.5H549.7M533.9,638.2H541.5M541.5,637.4V639M541.5,637.4H544.8M544.8,636.9V638M544.8,636.9H565.7M565.7,636.6V637.2M565.7,636.6H568.9M565.7,637.2H586M544.8,638H548.1M548.1,637.3V638.6M548.1,637.3H560.7M548.1,638.6H553.2M553.2,638.3V639M553.2,638.3H556.3M553.2,639H559.4M541.5,639H556.4M528.7,641.5H560.6M560.6,641.1V641.8M560.6,641.1H561.6M560.6,641.8H565.6M524,642.9H537.6M418.1,656.2H444.9M444.9,653.2V660.5M444.9,653.2H450.9M450.9,649.1V653.2M450.9,649.1H486.2M486.2,646.9V651.3M486.2,646.9H494.5M494.5,644.6V649.1M494.5,644.6H500.1M500.1,643.6V645.6M500.1,643.6H505.5M500.1,645.6H504.3M504.3,645.3V646M504.3,645.3H506.5M504.3,646H519.2M494.5,649.1H500.6M500.6,648.1V650.1M500.6,648.1H509M509,647.5V648.8M509,647.5H518.1M518.1,647.1V647.8M518.1,647.1H520.1M518.1,647.8H523.6M509,648.8H512M500.6,650.1H507.1M507.1,649.9V650.2M507.1,649.9H524.8M507.1,650.2H510.1M510.1,650V650.5M510.1,650H513.2M510.1,650.5H516.4M486.2,651.3H501M450.9,653.2H506.2M506.2,652.4V653.9M506.2,652.4H524.2M524.2,652.3V652.5M524.2,652.3H529M524.2,652.5H525.9M506.2,653.9H515M515,653.4V654.5M515,653.4H518.4M515,654.5H519M519,654.1V654.8M519,654.1H524.6M519,654.8H522.5M444.9,660.5H465.4M465.4,657.2V660.5M465.4,657.2H517.9M517.9,656.9V657.6M517.9,656.9H523.5M517.9,657.6H521.2M465.4,658.5H514.3M514.3,657.6V659.5M514.3,657.6H517.3M514.3,659.5H520.9M520.9,659.3V659.7M520.9,659.3H524.1M520.9,659.7H528.8" stroke="#b6b6b6" stroke-width="1.8" fill="none" /><path d="M542.8,613.1H551.4M548.4,614.5H557.7M544.1,614.5H548.2M535.2,615.5H541.9M538.6,616.5H543M539.2,617.3H544.4M537.3,619H540.2M540.1,619.8H546.5M535.6,620.5H538.5M535.1,621.9H537.4M540.6,622.6H555.9M531.1,624.3H534.9M539.9,625H560.5M526.8,626.1H531.4M523.2,626.1H536.7M520.4,627.8H523.3M522.1,627.8H527.2M570.7,628.5H574.1M573.3,628.9H579.7M543.6,631.3H570.6M555,632H560.1M558.5,633H565M573.5,633H579M571,633.1H573.4M579.1,634.1H584M581.2,635.5H588.5M549.7,635.5H569M568.9,636.6H572.7M586,637.2H610.7M560.7,637.3H576.2M556.3,638.3H560.1M559.4,639H567.1M556.4,639H574.5M561.6,641.1H562.9M565.6,641.8H571.7M537.6,642.9H554.2M505.5,643.6H512.1M506.5,645.3H509.3M519.2,646H537.4M520.1,647.1H522.6M523.6,647.8H530.3M512,648.8H515.6M524.8,649.9H546.5M513.2,650H517M516.4,650.5H524M501,651.3H519.1M529,652.3H534.9M525.9,652.5H528M518.4,653.4H522.6M524.6,654.1H531.4M522.5,654.8H526.8M523.5,656.9H530.3M521.2,657.6H525.1M517.3,657.6H520.9M524.1,659.3H527.9M528.8,659.7H538.4" stroke="#96b8ba" stroke-width="1.1" fill="none" /><path d="M477.3,614.4L533.9,614.4" stroke="#a3c0c1" stroke-width="1.1" fill="none"/><path d="M473,615.6L538.9,615.6" stroke="#a3c0c1" stroke-width="1.1" fill="none"/><path d="M473.9,616.9L541.8,616.9" stroke="#a3c0c1" stroke-width="1.1" fill="none"/><path d="M463.8,626.2L520.2,626.2" stroke="#a3c0c1" stroke-width="1.1" fill="none"/><path d="M466.4,627.8L517.3,627.8" stroke="#a3c0c1" stroke-width="1.1" fill="none"/><path d="M521.8,632.5L548.5,632.5" stroke="#a3c0c1" stroke-width="1.1" fill="none"/><path d="M517.2,635.5L557.5,635.5" stroke="#a3c0c1" stroke-width="1.1" fill="none"/><path d="M498.4,644.9L508.2,644.9" stroke="#a3c0c1" stroke-width="1.1" fill="none"/><path d="M493.9,647.6L515.7,647.6" stroke="#a3c0c1" stroke-width="1.1" fill="none"/><path d="M482.3,652.8L518.2,652.8" stroke="#a3c0c1" stroke-width="1.1" fill="none"/><path d="M478.1,655.5L516.2,655.5" stroke="#a3c0c1" stroke-width="1.1" fill="none"/><path d="M479.8,658.2L512.4,658.2" stroke="#a3c0c1" stroke-width="1.1" fill="none"/><path d="M525,613.1L551.4,613.1" stroke="#96b8ba" stroke-width="1.1" fill="none"/><path d="M538.1,614.5L557.7,614.5" stroke="#96b8ba" stroke-width="1.1" fill="none"/><path d="M515.3,614.5L548.2,614.5" stroke="#96b8ba" stroke-width="1.1" fill="none"/><path d="M509.8,615.5L541.9,615.5" stroke="#96b8ba" stroke-width="1.1" fill="none"/><path d="M510.9,617.3L544.4,617.3" stroke="#96b8ba" stroke-width="1.1" fill="none"/><path d="M514.4,619L540.2,619" stroke="#96b8ba" stroke-width="1.1" fill="none"/><path d="M516.3,619.8L546.5,619.8" stroke="#96b8ba" stroke-width="1.1" fill="none"/><path d="M526.5,621.9L537.4,621.9" stroke="#96b8ba" stroke-width="1.1" fill="none"/><path d="M541.8,622.6L555.9,622.6" stroke="#96b8ba" stroke-width="1.1" fill="none"/><path d="M500.2,624.3L534.9,624.3" stroke="#96b8ba" stroke-width="1.1" fill="none"/><path d="M529.7,625L560.5,625" stroke="#96b8ba" stroke-width="1.1" fill="none"/><path d="M509.3,626.1L531.4,626.1" stroke="#96b8ba" stroke-width="1.1" fill="none"/><path d="M502.4,627.8L523.3,627.8" stroke="#96b8ba" stroke-width="1.1" fill="none"/><path d="M516.2,627.8L527.2,627.8" stroke="#96b8ba" stroke-width="1.1" fill="none"/><path d="M561.3,628.5L574.1,628.5" stroke="#96b8ba" stroke-width="1.1" fill="none"/><path d="M560.1,628.9L579.7,628.9" stroke="#96b8ba" stroke-width="1.1" fill="none"/><path d="M544.5,632L560.1,632" stroke="#96b8ba" stroke-width="1.1" fill="none"/><path d="M560.6,633.1L573.4,633.1" stroke="#96b8ba" stroke-width="1.1" fill="none"/><path d="M568.9,634.1L584,634.1" stroke="#96b8ba" stroke-width="1.1" fill="none"/><path d="M579.5,635.5L588.5,635.5" stroke="#96b8ba" stroke-width="1.1" fill="none"/><path d="M536.6,636.6L572.7,636.6" stroke="#96b8ba" stroke-width="1.1" fill="none"/><path d="M548,637.3L576.2,637.3" stroke="#96b8ba" stroke-width="1.1" fill="none"/><path d="M523.7,638.3L560.1,638.3" stroke="#96b8ba" stroke-width="1.1" fill="none"/><path d="M539,639L567.1,639" stroke="#96b8ba" stroke-width="1.1" fill="none"/><path d="M546.3,639L574.5,639" stroke="#96b8ba" stroke-width="1.1" fill="none"/><path d="M550,641.1L562.9,641.1" stroke="#96b8ba" stroke-width="1.1" fill="none"/><path d="M545.5,642.9L554.2,642.9" stroke="#96b8ba" stroke-width="1.1" fill="none"/><path d="M561.4,641.8L571.7,641.8" stroke="#96b8ba" stroke-width="1.1" fill="none"/><path d="M474.9,643.6L512.1,643.6" stroke="#96b8ba" stroke-width="1.1" fill="none"/><path d="M491.9,645.3L509.3,645.3" stroke="#96b8ba" stroke-width="1.1" fill="none"/><path d="M520.9,646L537.4,646" stroke="#96b8ba" stroke-width="1.1" fill="none"/><path d="M493.1,647.1L522.6,647.1" stroke="#96b8ba" stroke-width="1.1" fill="none"/><path d="M515.1,647.8L530.3,647.8" stroke="#96b8ba" stroke-width="1.1" fill="none"/><path d="M479.4,648.8L515.6,648.8" stroke="#96b8ba" stroke-width="1.1" fill="none"/><path d="M525.6,649.9L546.5,649.9" stroke="#96b8ba" stroke-width="1.1" fill="none"/><path d="M525.1,652.3L534.9,652.3" stroke="#96b8ba" stroke-width="1.1" fill="none"/><path d="M513.3,653.4L522.6,653.4" stroke="#96b8ba" stroke-width="1.1" fill="none"/><path d="M489.1,654.8L526.8,654.8" stroke="#96b8ba" stroke-width="1.1" fill="none"/><path d="M506.6,657.6L525.1,657.6" stroke="#96b8ba" stroke-width="1.1" fill="none"/><path d="M520.2,656.9L530.3,656.9" stroke="#96b8ba" stroke-width="1.1" fill="none"/><path d="M502.3,659.7L538.4,659.7" stroke="#96b8ba" stroke-width="1.1" fill="none"/><path d="M512.6,659.3L527.9,659.3" stroke="#96b8ba" stroke-width="1.1" fill="none"/><path d="M523.1,616.5L543,616.5" stroke="#96b8ba" stroke-width="1.1" fill="none"/><path d="M522.8,620.5L538.5,620.5" stroke="#96b8ba" stroke-width="1.1" fill="none"/><path d="M547.8,633L565,633" stroke="#96b8ba" stroke-width="1.1" fill="none"/><path d="M559.9,635.5L569,635.5" stroke="#96b8ba" stroke-width="1.1" fill="none"/><path d="M493.7,650L517,650" stroke="#96b8ba" stroke-width="1.1" fill="none"/><path d="M500.1,650.5L524,650.5" stroke="#96b8ba" stroke-width="1.1" fill="none"/><path d="M510.6,652.5L528,652.5" stroke="#96b8ba" stroke-width="1.1" fill="none"/><path d="M523.8,393.5L528.8,393.5" stroke="#95a5d1" stroke-width="1.2" fill="none"/><path d="M516.4,395.9L525.3,395.9" stroke="#95a5d1" stroke-width="1.2" fill="none"/><path d="M510.6,396.8L522.9,396.8" stroke="#95a5d1" stroke-width="1.2" fill="none"/><path d="M510,398.7L512.4,398.7" stroke="#95a5d1" stroke-width="1.2" fill="none"/><path d="M510,398.7L515.9,398.7" stroke="#95a5d1" stroke-width="1.2" fill="none"/><path d="M521,399.9L526.9,399.9" stroke="#95a5d1" stroke-width="1.2" fill="none"/><path d="M512.9,402.2L517.1,402.2" stroke="#95a5d1" stroke-width="1.2" fill="none"/><path d="M517.5,402.2L526.4,402.2" stroke="#95a5d1" stroke-width="1.2" fill="none"/><path d="M509.9,405.2L518.3,405.2" stroke="#95a5d1" stroke-width="1.2" fill="none"/><path d="M516.2,405.2L525.3,405.2" stroke="#95a5d1" stroke-width="1.2" fill="none"/><path d="M503.8,407.6L510.1,407.6" stroke="#95a5d1" stroke-width="1.2" fill="none"/><path d="M503.8,410.4L509.6,410.4" stroke="#95a5d1" stroke-width="1.2" fill="none"/><path d="M503.8,411.5L512.4,411.5" stroke="#95a5d1" stroke-width="1.2" fill="none"/><path d="M503.8,413.9L514.7,413.9" stroke="#95a5d1" stroke-width="1.2" fill="none"/><path d="M503.8,415L510.1,415" stroke="#95a5d1" stroke-width="1.2" fill="none"/><path d="M509.1,417.4L517.1,417.4" stroke="#95a5d1" stroke-width="1.2" fill="none"/><path d="M503.8,418.5L507.7,418.5" stroke="#95a5d1" stroke-width="1.2" fill="none"/><path d="M505.2,419.7L511.2,419.7" stroke="#95a5d1" stroke-width="1.2" fill="none"/><path d="M509.7,420.2L514.7,420.2" stroke="#95a5d1" stroke-width="1.2" fill="none"/><path d="M503.8,422L509.6,422" stroke="#95a5d1" stroke-width="1.2" fill="none"/><path d="M507.6,423.2L512.4,423.2" stroke="#95a5d1" stroke-width="1.2" fill="none"/><path d="M504.9,423.9L515.9,423.9" stroke="#95a5d1" stroke-width="1.2" fill="none"/><path d="M503.8,425.5L510.1,425.5" stroke="#95a5d1" stroke-width="1.2" fill="none"/><path d="M506.8,426.7L513.6,426.7" stroke="#95a5d1" stroke-width="1.2" fill="none"/><path d="M506,428.6L511.2,428.6" stroke="#95a5d1" stroke-width="1.2" fill="none"/><path d="M510,429.5L514.7,429.5" stroke="#95a5d1" stroke-width="1.2" fill="none"/><path d="M515.1,429.5L521.3,429.5" stroke="#95a5d1" stroke-width="1.2" fill="none"/><path d="M513.5,431.4L518.3,431.4" stroke="#95a5d1" stroke-width="1.2" fill="none"/><path d="M508,432.6L515.9,432.6" stroke="#95a5d1" stroke-width="1.2" fill="none"/><path d="M514.4,434.2L523.6,434.2" stroke="#95a5d1" stroke-width="1.2" fill="none"/><path d="M514.4,436.1L520.6,436.1" stroke="#95a5d1" stroke-width="1.2" fill="none"/><path d="M517.6,437.9L522.2,437.9" stroke="#95a5d1" stroke-width="1.2" fill="none"/><path d="M515.7,439.1L526,439.1" stroke="#95a5d1" stroke-width="1.2" fill="none"/><path d="M513.4,440.3L517.8,440.3" stroke="#95a5d1" stroke-width="1.2" fill="none"/><path d="M510.8,443.1L516.6,443.1" stroke="#95a5d1" stroke-width="1.2" fill="none"/><path d="M511.7,444.2L518.3,444.2" stroke="#95a5d1" stroke-width="1.2" fill="none"/><path d="M507.3,446.6L514.7,446.6" stroke="#95a5d1" stroke-width="1.2" fill="none"/><path d="M519.2,447.7L524.1,447.7" stroke="#95a5d1" stroke-width="1.2" fill="none"/><path d="M506.5,450.1L514.3,450.1" stroke="#95a5d1" stroke-width="1.2" fill="none"/><path d="M529.4,451.2L536.2,451.2" stroke="#95a5d1" stroke-width="1.2" fill="none"/><path d="M517.5,452.4L528.3,452.4" stroke="#95a5d1" stroke-width="1.2" fill="none"/><path d="M515.6,453.6L524.6,453.6" stroke="#95a5d1" stroke-width="1.2" fill="none"/><path d="M501.5,454.3L513.6,454.3" stroke="#95a5d1" stroke-width="1.2" fill="none"/><path d="M502.5,456.6L512.4,456.6" stroke="#95a5d1" stroke-width="1.2" fill="none"/><path d="M504.4,457.1L515.2,457.1" stroke="#95a5d1" stroke-width="1.2" fill="none"/><path d="M530.1,457.6L539.3,457.6" stroke="#95a5d1" stroke-width="1.2" fill="none"/><path d="M505.6,459.4L513.6,459.4" stroke="#95a5d1" stroke-width="1.2" fill="none"/><path d="M499.8,461.3L511.2,461.3" stroke="#95a5d1" stroke-width="1.2" fill="none"/><path d="M509.5,462.2L519.4,462.2" stroke="#95a5d1" stroke-width="1.2" fill="none"/><path d="M497.5,464.1L510.1,464.1" stroke="#95a5d1" stroke-width="1.2" fill="none"/><path d="M515.4,464.6L526,464.6" stroke="#95a5d1" stroke-width="1.2" fill="none"/><path d="M497.4,466.4L507.7,466.4" stroke="#95a5d1" stroke-width="1.2" fill="none"/><path d="M509.5,467.6L515.9,467.6" stroke="#95a5d1" stroke-width="1.2" fill="none"/><path d="M510.5,466.9L521.8,466.9" stroke="#95a5d1" stroke-width="1.2" fill="none"/><path d="M494.5,468.8L501.9,468.8" stroke="#95a5d1" stroke-width="1.2" fill="none"/><path d="M499,469.9L504.2,469.9" stroke="#95a5d1" stroke-width="1.2" fill="none"/><path d="M505.5,471.9L510.1,471.9" stroke="#95a5d1" stroke-width="1.2" fill="none"/><path d="M509.2,471.2L514.7,471.2" stroke="#95a5d1" stroke-width="1.2" fill="none"/><path d="M513,473.5L519.4,473.5" stroke="#95a5d1" stroke-width="1.2" fill="none"/><path d="M507,475.8L517.1,475.8" stroke="#95a5d1" stroke-width="1.2" fill="none"/><path d="M507,478.2L513.6,478.2" stroke="#95a5d1" stroke-width="1.2" fill="none"/><path d="M504.3,479.3L508.9,479.3" stroke="#95a5d1" stroke-width="1.2" fill="none"/><path d="M486.8,480L496.8,480" stroke="#95a5d1" stroke-width="1.2" fill="none"/><path d="M501.1,481.7L510.1,481.7" stroke="#95a5d1" stroke-width="1.2" fill="none"/><path d="M510.1,481.7L514.3,481.7" stroke="#95a5d1" stroke-width="1.2" fill="none"/><path d="M507.9,484.5L512.4,484.5" stroke="#95a5d1" stroke-width="1.2" fill="none"/><path d="M493.2,486.4L498.4,486.4" stroke="#95a5d1" stroke-width="1.2" fill="none"/><path d="M497,486.8L504.2,486.8" stroke="#95a5d1" stroke-width="1.2" fill="none"/><path d="M496,488.2L507.7,488.2" stroke="#95a5d1" stroke-width="1.2" fill="none"/><path d="M486.8,490.6L498.9,490.6" stroke="#95a5d1" stroke-width="1.2" fill="none"/><path d="M486.8,492.2L495.6,492.2" stroke="#95a5d1" stroke-width="1.2" fill="none"/><path d="M486.8,493.4L487.9,493.4" stroke="#95a5d1" stroke-width="1.2" fill="none"/><path d="M489.3,494.5L497.2,494.5" stroke="#95a5d1" stroke-width="1.2" fill="none"/><path d="M491.1,496.9L498.4,496.9" stroke="#95a5d1" stroke-width="1.2" fill="none"/><path d="M494.9,499.2L501.9,499.2" stroke="#95a5d1" stroke-width="1.2" fill="none"/><path d="M496.2,501.5L500.3,501.5" stroke="#95a5d1" stroke-width="1.2" fill="none"/><path d="M493.8,503.2L503.1,503.2" stroke="#95a5d1" stroke-width="1.2" fill="none"/><path d="M486.8,505L492.6,505" stroke="#95a5d1" stroke-width="1.2" fill="none"/><path d="M486.8,506.9L491.4,506.9" stroke="#95a5d1" stroke-width="1.2" fill="none"/><path d="M491.2,506.9L496.1,506.9" stroke="#95a5d1" stroke-width="1.2" fill="none"/><path d="M497.8,507.8L506.6,507.8" stroke="#95a5d1" stroke-width="1.2" fill="none"/><path d="M492.9,509.7L498.4,509.7" stroke="#95a5d1" stroke-width="1.2" fill="none"/><path d="M486.8,510.9L490.2,510.9" stroke="#95a5d1" stroke-width="1.2" fill="none"/><path d="M486.9,512.5L494.9,512.5" stroke="#95a5d1" stroke-width="1.2" fill="none"/><path d="M486,513.2L498.4,513.2" stroke="#95a5d1" stroke-width="1.2" fill="none"/><path d="M497.7,514.4L508.9,514.4" stroke="#95a5d1" stroke-width="1.2" fill="none"/><path d="M500.3,516.3L505.4,516.3" stroke="#95a5d1" stroke-width="1.2" fill="none"/><path d="M503.2,516.7L510.1,516.7" stroke="#95a5d1" stroke-width="1.2" fill="none"/><path d="M491.3,519.1L503.5,519.1" stroke="#95a5d1" stroke-width="1.2" fill="none"/><path d="M478.6,520.9L486.7,520.9" stroke="#95a5d1" stroke-width="1.2" fill="none"/><path d="M479.5,523.3L487.4,523.3" stroke="#95a5d1" stroke-width="1.2" fill="none"/><path d="M483.9,524.9L491.9,524.9" stroke="#95a5d1" stroke-width="1.2" fill="none"/><path d="M488.7,525.4L499.6,525.4" stroke="#95a5d1" stroke-width="1.2" fill="none"/><path d="M483.7,526.5L496.1,526.5" stroke="#95a5d1" stroke-width="1.2" fill="none"/><path d="M510.2,527.7L519,527.7" stroke="#95a5d1" stroke-width="1.2" fill="none"/><path d="M497.4,530.3L510.1,530.3" stroke="#95a5d1" stroke-width="1.2" fill="none"/><path d="M503,531.2L512.4,531.2" stroke="#95a5d1" stroke-width="1.2" fill="none"/><path d="M504,533.5L508.9,533.5" stroke="#95a5d1" stroke-width="1.2" fill="none"/><path d="M508.8,534.9L520.1,534.9" stroke="#95a5d1" stroke-width="1.2" fill="none"/><path d="M499.9,536.6L507.7,536.6" stroke="#95a5d1" stroke-width="1.2" fill="none"/><path d="M505.6,538.2L510.1,538.2" stroke="#95a5d1" stroke-width="1.2" fill="none"/><path d="M503.1,538.9L515.9,538.9" stroke="#95a5d1" stroke-width="1.2" fill="none"/><path d="M509.3,540.8L513.6,540.8" stroke="#95a5d1" stroke-width="1.2" fill="none"/><path d="M493.4,541.2L502.6,541.2" stroke="#95a5d1" stroke-width="1.2" fill="none"/><path d="M506.4,543.6L514.7,543.6" stroke="#95a5d1" stroke-width="1.2" fill="none"/><path d="M495.8,545.2L507.7,545.2" stroke="#95a5d1" stroke-width="1.2" fill="none"/><path d="M494.4,544.7L501.9,544.7" stroke="#95a5d1" stroke-width="1.2" fill="none"/><path d="M492,546.6L497.9,546.6" stroke="#95a5d1" stroke-width="1.2" fill="none"/><path d="M498.9,547.1L505.4,547.1" stroke="#95a5d1" stroke-width="1.2" fill="none"/><path d="M506.6,549.4L512.4,549.4" stroke="#95a5d1" stroke-width="1.2" fill="none"/><path d="M502.8,552.2L511.9,552.2" stroke="#95a5d1" stroke-width="1.2" fill="none"/><path d="M504,555.3L511.2,555.3" stroke="#95a5d1" stroke-width="1.2" fill="none"/><path d="M490.4,556.9L501.2,556.9" stroke="#95a5d1" stroke-width="1.2" fill="none"/><path d="M502.7,557.6L508.9,557.6" stroke="#95a5d1" stroke-width="1.2" fill="none"/><path d="M508.7,558.3L515.9,558.3" stroke="#95a5d1" stroke-width="1.2" fill="none"/><path d="M492.2,559.2L498.4,559.2" stroke="#95a5d1" stroke-width="1.2" fill="none"/><path d="M506.2,560.4L519,560.4" stroke="#95a5d1" stroke-width="1.2" fill="none"/><path d="M485.6,561.1L497.2,561.1" stroke="#95a5d1" stroke-width="1.2" fill="none"/><path d="M497.3,561.6L508.9,561.6" stroke="#95a5d1" stroke-width="1.2" fill="none"/><path d="M504,561.1L513.6,561.1" stroke="#95a5d1" stroke-width="1.2" fill="none"/><path d="M488.5,563L496.1,563" stroke="#95a5d1" stroke-width="1.2" fill="none"/><path d="M483.3,563.9L488.6,563.9" stroke="#95a5d1" stroke-width="1.2" fill="none"/><path d="M480.4,564.6L491.9,564.6" stroke="#95a5d1" stroke-width="1.2" fill="none"/><path d="M481.1,566.9L489.5,566.9" stroke="#95a5d1" stroke-width="1.2" fill="none"/><path d="M498.3,568.1L502.6,568.1" stroke="#95a5d1" stroke-width="1.2" fill="none"/><path d="M498.7,570L504.2,570" stroke="#95a5d1" stroke-width="1.2" fill="none"/><path d="M488.8,570.9L493.7,570.9" stroke="#95a5d1" stroke-width="1.2" fill="none"/><path d="M487.9,572.8L498.4,572.8" stroke="#95a5d1" stroke-width="1.2" fill="none"/><path d="M475.8,574L487.9,574" stroke="#95a5d1" stroke-width="1.2" fill="none"/><path d="M477.4,575.1L483.2,575.1" stroke="#95a5d1" stroke-width="1.2" fill="none"/><path d="M468.5,577L479.7,577" stroke="#95a5d1" stroke-width="1.2" fill="none"/><path d="M478.7,577.9L485.6,577.9" stroke="#95a5d1" stroke-width="1.2" fill="none"/><path d="M482.5,576.3L492.6,576.3" stroke="#95a5d1" stroke-width="1.2" fill="none"/><path d="M484.3,577.5L496.1,577.5" stroke="#95a5d1" stroke-width="1.2" fill="none"/><path d="M478,578.8L487.6,578.8" stroke="#95a5d1" stroke-width="1.2" fill="none"/><path d="M478.1,583.3L489.3,583.3" stroke="#95a5d1" stroke-width="1.2" fill="none"/><path d="M487.9,583.3L495.3,583.3" stroke="#95a5d1" stroke-width="1.2" fill="none"/><path d="M495.8,584.7L499.9,584.7" stroke="#95a5d1" stroke-width="1.2" fill="none"/><path d="M477.2,586.8L485.8,586.8" stroke="#95a5d1" stroke-width="1.2" fill="none"/><path d="M483.5,588.2L492.8,588.2" stroke="#95a5d1" stroke-width="1.2" fill="none"/><path d="M490.7,589.3L496.4,589.3" stroke="#95a5d1" stroke-width="1.2" fill="none"/><path d="M469.6,590.3L477.1,590.3" stroke="#95a5d1" stroke-width="1.2" fill="none"/><path d="M480,591.7L486.9,591.7" stroke="#95a5d1" stroke-width="1.2" fill="none"/><path d="M487.6,591.7L491.8,591.7" stroke="#95a5d1" stroke-width="1.2" fill="none"/><path d="M458,595.6L464.8,595.6" stroke="#95a5d1" stroke-width="1.2" fill="none"/><path d="M459.9,594.5L467.3,594.5" stroke="#95a5d1" stroke-width="1.2" fill="none"/><path d="M467,595.2L475.3,595.2" stroke="#95a5d1" stroke-width="1.2" fill="none"/><path d="M476.6,595.2L486.9,595.2" stroke="#95a5d1" stroke-width="1.2" fill="none"/><path d="M488.8,596.6L496.4,596.6" stroke="#95a5d1" stroke-width="1.2" fill="none"/><path d="M471.3,599.1L484.1,599.1" stroke="#95a5d1" stroke-width="1.2" fill="none"/><path d="M471,601.5L482.3,601.5" stroke="#95a5d1" stroke-width="1.2" fill="none"/><path d="M478.8,602.2L491.1,602.2" stroke="#95a5d1" stroke-width="1.2" fill="none"/><path d="M498.4,602.2L508.6,602.2" stroke="#95a5d1" stroke-width="1.2" fill="none"/><path d="M475.8,604.3L485.8,604.3" stroke="#95a5d1" stroke-width="1.2" fill="none"/><path d="M485.8,605L494.6,605" stroke="#95a5d1" stroke-width="1.2" fill="none"/><path d="M464.1,605L475.3,605" stroke="#95a5d1" stroke-width="1.2" fill="none"/><path d="M485.6,606.8L492.9,606.8" stroke="#95a5d1" stroke-width="1.2" fill="none"/><path d="M480,607.8L489.3,607.8" stroke="#95a5d1" stroke-width="1.2" fill="none"/><path d="M503.8,607.8L513.9,607.8" stroke="#95a5d1" stroke-width="1.2" fill="none"/><path d="M505.9,610.3L514.6,610.3" stroke="#95a5d1" stroke-width="1.2" fill="none"/><path d="M473.3,609.2L479.9,609.2" stroke="#95a5d1" stroke-width="1.2" fill="none"/><path d="M467.1,611.3L471.8,611.3" stroke="#95a5d1" stroke-width="1.2" fill="none"/><path d="M488.2,512.2L493,512.2" stroke="#95a5d1" stroke-width="1.2" fill="none"/><path d="M503.8,528.9L511,528.9" stroke="#95a5d1" stroke-width="1.2" fill="none"/><path d="M502.8,540.4L512,540.4" stroke="#95a5d1" stroke-width="1.2" fill="none"/><path d="M480.3,566L491.1,566" stroke="#95a5d1" stroke-width="1.2" fill="none"/><path d="M484.7,571.9L495.1,571.9" stroke="#95a5d1" stroke-width="1.2" fill="none"/><path d="M482.6,577.2L489.4,577.2" stroke="#95a5d1" stroke-width="1.2" fill="none"/><path d="M473.5,579.8L485.9,579.8" stroke="#95a5d1" stroke-width="1.2" fill="none"/><path d="M485.3,584.4L491.8,584.4" stroke="#95a5d1" stroke-width="1.2" fill="none"/><path d="M484,588.4L494.4,588.4" stroke="#95a5d1" stroke-width="1.2" fill="none"/><path d="M472.1,593L476.7,593" stroke="#95a5d1" stroke-width="1.2" fill="none"/><path d="M469.2,594.3L480,594.3" stroke="#95a5d1" stroke-width="1.2" fill="none"/><path d="M475.9,598.2L485.9,598.2" stroke="#95a5d1" stroke-width="1.2" fill="none"/><path d="M471.6,602.8L484.2,602.8" stroke="#95a5d1" stroke-width="1.2" fill="none"/><path d="M475.1,606.1L487.2,606.1" stroke="#95a5d1" stroke-width="1.2" fill="none"/><circle cx="514.3" cy="663.3" r="2.3" fill="#dadd40" stroke="#c6ca36" stroke-width="0.5"/><circle cx="525.3" cy="662.9" r="2.3" fill="#dadd40" stroke="#c6ca36" stroke-width="0.5"/><circle cx="551.4" cy="613.1" r="2.3" fill="#6dc4cb" stroke="#52a9b0" stroke-width="0.5"/><circle cx="557.7" cy="614.5" r="2.3" fill="#6dc4cb" stroke="#52a9b0" stroke-width="0.5"/><circle cx="548.2" cy="614.5" r="2.3" fill="#6dc4cb" stroke="#52a9b0" stroke-width="0.5"/><circle cx="541.9" cy="615.5" r="2.3" fill="#6dc4cb" stroke="#52a9b0" stroke-width="0.5"/><circle cx="544.4" cy="617.3" r="2.3" fill="#6dc4cb" stroke="#52a9b0" stroke-width="0.5"/><circle cx="540.2" cy="619" r="2.3" fill="#6dc4cb" stroke="#52a9b0" stroke-width="0.5"/><circle cx="546.5" cy="619.8" r="2.3" fill="#6dc4cb" stroke="#52a9b0" stroke-width="0.5"/><circle cx="537.4" cy="621.9" r="2.3" fill="#6dc4cb" stroke="#52a9b0" stroke-width="0.5"/><circle cx="555.9" cy="622.6" r="2.3" fill="#6dc4cb" stroke="#52a9b0" stroke-width="0.5"/><circle cx="534.9" cy="624.3" r="2.3" fill="#6dc4cb" stroke="#52a9b0" stroke-width="0.5"/><circle cx="560.5" cy="625" r="2.3" fill="#6dc4cb" stroke="#52a9b0" stroke-width="0.5"/><circle cx="531.4" cy="626.1" r="2.3" fill="#6dc4cb" stroke="#52a9b0" stroke-width="0.5"/><circle cx="536.7" cy="626.1" r="2.3" fill="#6dc4cb" stroke="#52a9b0" stroke-width="0.5"/><circle cx="523.3" cy="627.8" r="2.3" fill="#6dc4cb" stroke="#52a9b0" stroke-width="0.5"/><circle cx="527.2" cy="627.8" r="2.3" fill="#6dc4cb" stroke="#52a9b0" stroke-width="0.5"/><circle cx="574.1" cy="628.5" r="2.3" fill="#6dc4cb" stroke="#52a9b0" stroke-width="0.5"/><circle cx="579.7" cy="628.9" r="2.3" fill="#6dc4cb" stroke="#52a9b0" stroke-width="0.5"/><circle cx="570.6" cy="631.3" r="2.3" fill="#6dc4cb" stroke="#52a9b0" stroke-width="0.5"/><circle cx="560.1" cy="632" r="2.3" fill="#6dc4cb" stroke="#52a9b0" stroke-width="0.5"/><circle cx="573.4" cy="633.1" r="2.3" fill="#6dc4cb" stroke="#52a9b0" stroke-width="0.5"/><circle cx="584" cy="634.1" r="2.3" fill="#6dc4cb" stroke="#52a9b0" stroke-width="0.5"/><circle cx="588.5" cy="635.5" r="2.3" fill="#6dc4cb" stroke="#52a9b0" stroke-width="0.5"/><circle cx="610.7" cy="637.2" r="2.3" fill="#6dc4cb" stroke="#52a9b0" stroke-width="0.5"/><circle cx="572.7" cy="636.6" r="2.3" fill="#6dc4cb" stroke="#52a9b0" stroke-width="0.5"/><circle cx="576.2" cy="637.3" r="2.3" fill="#6dc4cb" stroke="#52a9b0" stroke-width="0.5"/><circle cx="560.1" cy="638.3" r="2.3" fill="#6dc4cb" stroke="#52a9b0" stroke-width="0.5"/><circle cx="567.1" cy="639" r="2.3" fill="#6dc4cb" stroke="#52a9b0" stroke-width="0.5"/><circle cx="574.5" cy="639" r="2.3" fill="#6dc4cb" stroke="#52a9b0" stroke-width="0.5"/><circle cx="562.9" cy="641.1" r="2.3" fill="#6dc4cb" stroke="#52a9b0" stroke-width="0.5"/><circle cx="554.2" cy="642.9" r="2.3" fill="#6dc4cb" stroke="#52a9b0" stroke-width="0.5"/><circle cx="571.7" cy="641.8" r="2.3" fill="#6dc4cb" stroke="#52a9b0" stroke-width="0.5"/><circle cx="512.1" cy="643.6" r="2.3" fill="#6dc4cb" stroke="#52a9b0" stroke-width="0.5"/><circle cx="509.3" cy="645.3" r="2.3" fill="#6dc4cb" stroke="#52a9b0" stroke-width="0.5"/><circle cx="537.4" cy="646" r="2.3" fill="#6dc4cb" stroke="#52a9b0" stroke-width="0.5"/><circle cx="522.6" cy="647.1" r="2.3" fill="#6dc4cb" stroke="#52a9b0" stroke-width="0.5"/><circle cx="530.3" cy="647.8" r="2.3" fill="#6dc4cb" stroke="#52a9b0" stroke-width="0.5"/><circle cx="515.6" cy="648.8" r="2.3" fill="#6dc4cb" stroke="#52a9b0" stroke-width="0.5"/><circle cx="546.5" cy="649.9" r="2.3" fill="#6dc4cb" stroke="#52a9b0" stroke-width="0.5"/><circle cx="519.1" cy="651.3" r="2.3" fill="#6dc4cb" stroke="#52a9b0" stroke-width="0.5"/><circle cx="534.9" cy="652.3" r="2.3" fill="#6dc4cb" stroke="#52a9b0" stroke-width="0.5"/><circle cx="531.4" cy="654.1" r="2.3" fill="#6dc4cb" stroke="#52a9b0" stroke-width="0.5"/><circle cx="522.6" cy="653.4" r="2.3" fill="#6dc4cb" stroke="#52a9b0" stroke-width="0.5"/><circle cx="526.8" cy="654.8" r="2.3" fill="#6dc4cb" stroke="#52a9b0" stroke-width="0.5"/><circle cx="525.1" cy="657.6" r="2.3" fill="#6dc4cb" stroke="#52a9b0" stroke-width="0.5"/><circle cx="530.3" cy="656.9" r="2.3" fill="#6dc4cb" stroke="#52a9b0" stroke-width="0.5"/><circle cx="520.9" cy="657.6" r="2.3" fill="#6dc4cb" stroke="#52a9b0" stroke-width="0.5"/><circle cx="538.4" cy="659.7" r="2.3" fill="#6dc4cb" stroke="#52a9b0" stroke-width="0.5"/><circle cx="527.9" cy="659.3" r="2.3" fill="#6dc4cb" stroke="#52a9b0" stroke-width="0.5"/><circle cx="543" cy="616.5" r="2.3" fill="#6dc4cb" stroke="#52a9b0" stroke-width="0.5"/><circle cx="538.5" cy="620.5" r="2.3" fill="#6dc4cb" stroke="#52a9b0" stroke-width="0.5"/><circle cx="565" cy="633" r="2.3" fill="#6dc4cb" stroke="#52a9b0" stroke-width="0.5"/><circle cx="569" cy="635.5" r="2.3" fill="#6dc4cb" stroke="#52a9b0" stroke-width="0.5"/><circle cx="579" cy="633" r="2.3" fill="#6dc4cb" stroke="#52a9b0" stroke-width="0.5"/><circle cx="517" cy="650" r="2.3" fill="#6dc4cb" stroke="#52a9b0" stroke-width="0.5"/><circle cx="524" cy="650.5" r="2.3" fill="#6dc4cb" stroke="#52a9b0" stroke-width="0.5"/><circle cx="528" cy="652.5" r="2.3" fill="#6dc4cb" stroke="#52a9b0" stroke-width="0.5"/><circle cx="429.5" cy="665.5" r="2.3" fill="#8fcf6d" stroke="#78b85a" stroke-width="0.5"/><circle cx="439.6" cy="664.5" r="2.3" fill="#8fcf6d" stroke="#78b85a" stroke-width="0.5"/><circle cx="441" cy="667.1" r="2.3" fill="#8fcf6d" stroke="#78b85a" stroke-width="0.5"/><circle cx="444" cy="663.8" r="2.3" fill="#8fcf6d" stroke="#78b85a" stroke-width="0.5"/><circle cx="463.1" cy="665" r="2.3" fill="#8fcf6d" stroke="#78b85a" stroke-width="0.5"/><circle cx="528.8" cy="393.5" r="2.3" fill="#4b73ba" stroke="#3f64a8" stroke-width="0.5"/><circle cx="525.3" cy="395.9" r="2.3" fill="#4b73ba" stroke="#3f64a8" stroke-width="0.5"/><circle cx="522.9" cy="396.8" r="2.3" fill="#4b73ba" stroke="#3f64a8" stroke-width="0.5"/><circle cx="512.4" cy="398.7" r="2.3" fill="#4b73ba" stroke="#3f64a8" stroke-width="0.5"/><circle cx="515.9" cy="398.7" r="2.3" fill="#4b73ba" stroke="#3f64a8" stroke-width="0.5"/><circle cx="526.9" cy="399.9" r="2.3" fill="#4b73ba" stroke="#3f64a8" stroke-width="0.5"/><circle cx="517.1" cy="402.2" r="2.3" fill="#4b73ba" stroke="#3f64a8" stroke-width="0.5"/><circle cx="526.4" cy="402.2" r="2.3" fill="#4b73ba" stroke="#3f64a8" stroke-width="0.5"/><circle cx="518.3" cy="405.2" r="2.3" fill="#4b73ba" stroke="#3f64a8" stroke-width="0.5"/><circle cx="525.3" cy="405.2" r="2.3" fill="#4b73ba" stroke="#3f64a8" stroke-width="0.5"/><circle cx="510.1" cy="407.6" r="2.3" fill="#4b73ba" stroke="#3f64a8" stroke-width="0.5"/><circle cx="509.6" cy="410.4" r="2.3" fill="#4b73ba" stroke="#3f64a8" stroke-width="0.5"/><circle cx="512.4" cy="411.5" r="2.3" fill="#4b73ba" stroke="#3f64a8" stroke-width="0.5"/><circle cx="514.7" cy="413.9" r="2.3" fill="#4b73ba" stroke="#3f64a8" stroke-width="0.5"/><circle cx="510.1" cy="415" r="2.3" fill="#4b73ba" stroke="#3f64a8" stroke-width="0.5"/><circle cx="517.1" cy="417.4" r="2.3" fill="#4b73ba" stroke="#3f64a8" stroke-width="0.5"/><circle cx="507.7" cy="418.5" r="2.3" fill="#4b73ba" stroke="#3f64a8" stroke-width="0.5"/><circle cx="511.2" cy="419.7" r="2.3" fill="#4b73ba" stroke="#3f64a8" stroke-width="0.5"/><circle cx="514.7" cy="420.2" r="2.3" fill="#4b73ba" stroke="#3f64a8" stroke-width="0.5"/><circle cx="509.6" cy="422" r="2.3" fill="#4b73ba" stroke="#3f64a8" stroke-width="0.5"/><circle cx="512.4" cy="423.2" r="2.3" fill="#4b73ba" stroke="#3f64a8" stroke-width="0.5"/><circle cx="515.9" cy="423.9" r="2.3" fill="#4b73ba" stroke="#3f64a8" stroke-width="0.5"/><circle cx="510.1" cy="425.5" r="2.3" fill="#4b73ba" stroke="#3f64a8" stroke-width="0.5"/><circle cx="513.6" cy="426.7" r="2.3" fill="#4b73ba" stroke="#3f64a8" stroke-width="0.5"/><circle cx="511.2" cy="428.6" r="2.3" fill="#4b73ba" stroke="#3f64a8" stroke-width="0.5"/><circle cx="514.7" cy="429.5" r="2.3" fill="#4b73ba" stroke="#3f64a8" stroke-width="0.5"/><circle cx="521.3" cy="429.5" r="2.3" fill="#4b73ba" stroke="#3f64a8" stroke-width="0.5"/><circle cx="518.3" cy="431.4" r="2.3" fill="#4b73ba" stroke="#3f64a8" stroke-width="0.5"/><circle cx="515.9" cy="432.6" r="2.3" fill="#4b73ba" stroke="#3f64a8" stroke-width="0.5"/><circle cx="523.6" cy="434.2" r="2.3" fill="#4b73ba" stroke="#3f64a8" stroke-width="0.5"/><circle cx="520.6" cy="436.1" r="2.3" fill="#4b73ba" stroke="#3f64a8" stroke-width="0.5"/><circle cx="522.2" cy="437.9" r="2.3" fill="#4b73ba" stroke="#3f64a8" stroke-width="0.5"/><circle cx="526" cy="439.1" r="2.3" fill="#4b73ba" stroke="#3f64a8" stroke-width="0.5"/><circle cx="517.8" cy="440.3" r="2.3" fill="#4b73ba" stroke="#3f64a8" stroke-width="0.5"/><circle cx="516.6" cy="443.1" r="2.3" fill="#4b73ba" stroke="#3f64a8" stroke-width="0.5"/><circle cx="518.3" cy="444.2" r="2.3" fill="#4b73ba" stroke="#3f64a8" stroke-width="0.5"/><circle cx="514.7" cy="446.6" r="2.3" fill="#4b73ba" stroke="#3f64a8" stroke-width="0.5"/><circle cx="524.1" cy="447.7" r="2.3" fill="#4b73ba" stroke="#3f64a8" stroke-width="0.5"/><circle cx="514.3" cy="450.1" r="2.3" fill="#4b73ba" stroke="#3f64a8" stroke-width="0.5"/><circle cx="536.2" cy="451.2" r="2.3" fill="#4b73ba" stroke="#3f64a8" stroke-width="0.5"/><circle cx="528.3" cy="452.4" r="2.3" fill="#4b73ba" stroke="#3f64a8" stroke-width="0.5"/><circle cx="524.6" cy="453.6" r="2.3" fill="#4b73ba" stroke="#3f64a8" stroke-width="0.5"/><circle cx="513.6" cy="454.3" r="2.3" fill="#4b73ba" stroke="#3f64a8" stroke-width="0.5"/><circle cx="512.4" cy="456.6" r="2.3" fill="#4b73ba" stroke="#3f64a8" stroke-width="0.5"/><circle cx="515.2" cy="457.1" r="2.3" fill="#4b73ba" stroke="#3f64a8" stroke-width="0.5"/><circle cx="539.3" cy="457.6" r="2.3" fill="#4b73ba" stroke="#3f64a8" stroke-width="0.5"/><circle cx="513.6" cy="459.4" r="2.3" fill="#4b73ba" stroke="#3f64a8" stroke-width="0.5"/><circle cx="511.2" cy="461.3" r="2.3" fill="#4b73ba" stroke="#3f64a8" stroke-width="0.5"/><circle cx="519.4" cy="462.2" r="2.3" fill="#4b73ba" stroke="#3f64a8" stroke-width="0.5"/><circle cx="510.1" cy="464.1" r="2.3" fill="#4b73ba" stroke="#3f64a8" stroke-width="0.5"/><circle cx="526" cy="464.6" r="2.3" fill="#4b73ba" stroke="#3f64a8" stroke-width="0.5"/><circle cx="507.7" cy="466.4" r="2.3" fill="#4b73ba" stroke="#3f64a8" stroke-width="0.5"/><circle cx="515.9" cy="467.6" r="2.3" fill="#4b73ba" stroke="#3f64a8" stroke-width="0.5"/><circle cx="521.8" cy="466.9" r="2.3" fill="#4b73ba" stroke="#3f64a8" stroke-width="0.5"/><circle cx="501.9" cy="468.8" r="2.3" fill="#4b73ba" stroke="#3f64a8" stroke-width="0.5"/><circle cx="504.2" cy="469.9" r="2.3" fill="#4b73ba" stroke="#3f64a8" stroke-width="0.5"/><circle cx="510.1" cy="471.9" r="2.3" fill="#4b73ba" stroke="#3f64a8" stroke-width="0.5"/><circle cx="514.7" cy="471.2" r="2.3" fill="#4b73ba" stroke="#3f64a8" stroke-width="0.5"/><circle cx="519.4" cy="473.5" r="2.3" fill="#4b73ba" stroke="#3f64a8" stroke-width="0.5"/><circle cx="517.1" cy="475.8" r="2.3" fill="#4b73ba" stroke="#3f64a8" stroke-width="0.5"/><circle cx="513.6" cy="478.2" r="2.3" fill="#4b73ba" stroke="#3f64a8" stroke-width="0.5"/><circle cx="508.9" cy="479.3" r="2.3" fill="#4b73ba" stroke="#3f64a8" stroke-width="0.5"/><circle cx="496.8" cy="480" r="2.3" fill="#4b73ba" stroke="#3f64a8" stroke-width="0.5"/><circle cx="510.1" cy="481.7" r="2.3" fill="#4b73ba" stroke="#3f64a8" stroke-width="0.5"/><circle cx="514.3" cy="481.7" r="2.3" fill="#4b73ba" stroke="#3f64a8" stroke-width="0.5"/><circle cx="512.4" cy="484.5" r="2.3" fill="#4b73ba" stroke="#3f64a8" stroke-width="0.5"/><circle cx="498.4" cy="486.4" r="2.3" fill="#4b73ba" stroke="#3f64a8" stroke-width="0.5"/><circle cx="504.2" cy="486.8" r="2.3" fill="#4b73ba" stroke="#3f64a8" stroke-width="0.5"/><circle cx="507.7" cy="488.2" r="2.3" fill="#4b73ba" stroke="#3f64a8" stroke-width="0.5"/><circle cx="498.9" cy="490.6" r="2.3" fill="#4b73ba" stroke="#3f64a8" stroke-width="0.5"/><circle cx="495.6" cy="492.2" r="2.3" fill="#4b73ba" stroke="#3f64a8" stroke-width="0.5"/><circle cx="487.9" cy="493.4" r="2.3" fill="#4b73ba" stroke="#3f64a8" stroke-width="0.5"/><circle cx="497.2" cy="494.5" r="2.3" fill="#4b73ba" stroke="#3f64a8" stroke-width="0.5"/><circle cx="498.4" cy="496.9" r="2.3" fill="#4b73ba" stroke="#3f64a8" stroke-width="0.5"/><circle cx="501.9" cy="499.2" r="2.3" fill="#4b73ba" stroke="#3f64a8" stroke-width="0.5"/><circle cx="500.3" cy="501.5" r="2.3" fill="#4b73ba" stroke="#3f64a8" stroke-width="0.5"/><circle cx="503.1" cy="503.2" r="2.3" fill="#4b73ba" stroke="#3f64a8" stroke-width="0.5"/><circle cx="492.6" cy="505" r="2.3" fill="#4b73ba" stroke="#3f64a8" stroke-width="0.5"/><circle cx="491.4" cy="506.9" r="2.3" fill="#4b73ba" stroke="#3f64a8" stroke-width="0.5"/><circle cx="496.1" cy="506.9" r="2.3" fill="#4b73ba" stroke="#3f64a8" stroke-width="0.5"/><circle cx="506.6" cy="507.8" r="2.3" fill="#4b73ba" stroke="#3f64a8" stroke-width="0.5"/><circle cx="498.4" cy="509.7" r="2.3" fill="#4b73ba" stroke="#3f64a8" stroke-width="0.5"/><circle cx="490.2" cy="510.9" r="2.3" fill="#4b73ba" stroke="#3f64a8" stroke-width="0.5"/><circle cx="494.9" cy="512.5" r="2.3" fill="#4b73ba" stroke="#3f64a8" stroke-width="0.5"/><circle cx="498.4" cy="513.2" r="2.3" fill="#4b73ba" stroke="#3f64a8" stroke-width="0.5"/><circle cx="508.9" cy="514.4" r="2.3" fill="#4b73ba" stroke="#3f64a8" stroke-width="0.5"/><circle cx="505.4" cy="516.3" r="2.3" fill="#4b73ba" stroke="#3f64a8" stroke-width="0.5"/><circle cx="510.1" cy="516.7" r="2.3" fill="#4b73ba" stroke="#3f64a8" stroke-width="0.5"/><circle cx="503.5" cy="519.1" r="2.3" fill="#4b73ba" stroke="#3f64a8" stroke-width="0.5"/><circle cx="486.7" cy="520.9" r="2.3" fill="#4b73ba" stroke="#3f64a8" stroke-width="0.5"/><circle cx="487.4" cy="523.3" r="2.3" fill="#4b73ba" stroke="#3f64a8" stroke-width="0.5"/><circle cx="491.9" cy="524.9" r="2.3" fill="#4b73ba" stroke="#3f64a8" stroke-width="0.5"/><circle cx="499.6" cy="525.4" r="2.3" fill="#4b73ba" stroke="#3f64a8" stroke-width="0.5"/><circle cx="496.1" cy="526.5" r="2.3" fill="#4b73ba" stroke="#3f64a8" stroke-width="0.5"/><circle cx="519" cy="527.7" r="2.3" fill="#4b73ba" stroke="#3f64a8" stroke-width="0.5"/><circle cx="510.1" cy="530.3" r="2.3" fill="#4b73ba" stroke="#3f64a8" stroke-width="0.5"/><circle cx="512.4" cy="531.2" r="2.3" fill="#4b73ba" stroke="#3f64a8" stroke-width="0.5"/><circle cx="508.9" cy="533.5" r="2.3" fill="#4b73ba" stroke="#3f64a8" stroke-width="0.5"/><circle cx="520.1" cy="534.9" r="2.3" fill="#4b73ba" stroke="#3f64a8" stroke-width="0.5"/><circle cx="507.7" cy="536.6" r="2.3" fill="#4b73ba" stroke="#3f64a8" stroke-width="0.5"/><circle cx="510.1" cy="538.2" r="2.3" fill="#4b73ba" stroke="#3f64a8" stroke-width="0.5"/><circle cx="515.9" cy="538.9" r="2.3" fill="#4b73ba" stroke="#3f64a8" stroke-width="0.5"/><circle cx="513.6" cy="540.8" r="2.3" fill="#4b73ba" stroke="#3f64a8" stroke-width="0.5"/><circle cx="502.6" cy="541.2" r="2.3" fill="#4b73ba" stroke="#3f64a8" stroke-width="0.5"/><circle cx="514.7" cy="543.6" r="2.3" fill="#4b73ba" stroke="#3f64a8" stroke-width="0.5"/><circle cx="507.7" cy="545.2" r="2.3" fill="#4b73ba" stroke="#3f64a8" stroke-width="0.5"/><circle cx="501.9" cy="544.7" r="2.3" fill="#4b73ba" stroke="#3f64a8" stroke-width="0.5"/><circle cx="497.9" cy="546.6" r="2.3" fill="#4b73ba" stroke="#3f64a8" stroke-width="0.5"/><circle cx="505.4" cy="547.1" r="2.3" fill="#4b73ba" stroke="#3f64a8" stroke-width="0.5"/><circle cx="512.4" cy="549.4" r="2.3" fill="#4b73ba" stroke="#3f64a8" stroke-width="0.5"/><circle cx="511.9" cy="552.2" r="2.3" fill="#4b73ba" stroke="#3f64a8" stroke-width="0.5"/><circle cx="511.2" cy="555.3" r="2.3" fill="#4b73ba" stroke="#3f64a8" stroke-width="0.5"/><circle cx="501.2" cy="556.9" r="2.3" fill="#4b73ba" stroke="#3f64a8" stroke-width="0.5"/><circle cx="508.9" cy="557.6" r="2.3" fill="#4b73ba" stroke="#3f64a8" stroke-width="0.5"/><circle cx="515.9" cy="558.3" r="2.3" fill="#4b73ba" stroke="#3f64a8" stroke-width="0.5"/><circle cx="498.4" cy="559.2" r="2.3" fill="#4b73ba" stroke="#3f64a8" stroke-width="0.5"/><circle cx="519" cy="560.4" r="2.3" fill="#4b73ba" stroke="#3f64a8" stroke-width="0.5"/><circle cx="497.2" cy="561.1" r="2.3" fill="#4b73ba" stroke="#3f64a8" stroke-width="0.5"/><circle cx="508.9" cy="561.6" r="2.3" fill="#4b73ba" stroke="#3f64a8" stroke-width="0.5"/><circle cx="513.6" cy="561.1" r="2.3" fill="#4b73ba" stroke="#3f64a8" stroke-width="0.5"/><circle cx="496.1" cy="563" r="2.3" fill="#4b73ba" stroke="#3f64a8" stroke-width="0.5"/><circle cx="488.6" cy="563.9" r="2.3" fill="#4b73ba" stroke="#3f64a8" stroke-width="0.5"/><circle cx="491.9" cy="564.6" r="2.3" fill="#4b73ba" stroke="#3f64a8" stroke-width="0.5"/><circle cx="489.5" cy="566.9" r="2.3" fill="#4b73ba" stroke="#3f64a8" stroke-width="0.5"/><circle cx="502.6" cy="568.1" r="2.3" fill="#4b73ba" stroke="#3f64a8" stroke-width="0.5"/><circle cx="504.2" cy="570" r="2.3" fill="#4b73ba" stroke="#3f64a8" stroke-width="0.5"/><circle cx="493.7" cy="570.9" r="2.3" fill="#4b73ba" stroke="#3f64a8" stroke-width="0.5"/><circle cx="498.4" cy="572.8" r="2.3" fill="#4b73ba" stroke="#3f64a8" stroke-width="0.5"/><circle cx="487.9" cy="574" r="2.3" fill="#4b73ba" stroke="#3f64a8" stroke-width="0.5"/><circle cx="483.2" cy="575.1" r="2.3" fill="#4b73ba" stroke="#3f64a8" stroke-width="0.5"/><circle cx="479.7" cy="577" r="2.3" fill="#4b73ba" stroke="#3f64a8" stroke-width="0.5"/><circle cx="485.6" cy="577.9" r="2.3" fill="#4b73ba" stroke="#3f64a8" stroke-width="0.5"/><circle cx="492.6" cy="576.3" r="2.3" fill="#4b73ba" stroke="#3f64a8" stroke-width="0.5"/><circle cx="496.1" cy="577.5" r="2.3" fill="#4b73ba" stroke="#3f64a8" stroke-width="0.5"/><circle cx="487.6" cy="578.8" r="2.3" fill="#4b73ba" stroke="#3f64a8" stroke-width="0.5"/><circle cx="489.3" cy="583.3" r="2.3" fill="#4b73ba" stroke="#3f64a8" stroke-width="0.5"/><circle cx="495.3" cy="583.3" r="2.3" fill="#4b73ba" stroke="#3f64a8" stroke-width="0.5"/><circle cx="499.9" cy="584.7" r="2.3" fill="#4b73ba" stroke="#3f64a8" stroke-width="0.5"/><circle cx="485.8" cy="586.8" r="2.3" fill="#4b73ba" stroke="#3f64a8" stroke-width="0.5"/><circle cx="492.8" cy="588.2" r="2.3" fill="#4b73ba" stroke="#3f64a8" stroke-width="0.5"/><circle cx="496.4" cy="589.3" r="2.3" fill="#4b73ba" stroke="#3f64a8" stroke-width="0.5"/><circle cx="477.1" cy="590.3" r="2.3" fill="#4b73ba" stroke="#3f64a8" stroke-width="0.5"/><circle cx="486.9" cy="591.7" r="2.3" fill="#4b73ba" stroke="#3f64a8" stroke-width="0.5"/><circle cx="491.8" cy="591.7" r="2.3" fill="#4b73ba" stroke="#3f64a8" stroke-width="0.5"/><circle cx="464.8" cy="595.6" r="2.3" fill="#4b73ba" stroke="#3f64a8" stroke-width="0.5"/><circle cx="467.3" cy="594.5" r="2.3" fill="#4b73ba" stroke="#3f64a8" stroke-width="0.5"/><circle cx="475.3" cy="595.2" r="2.3" fill="#4b73ba" stroke="#3f64a8" stroke-width="0.5"/><circle cx="486.9" cy="595.2" r="2.3" fill="#4b73ba" stroke="#3f64a8" stroke-width="0.5"/><circle cx="496.4" cy="596.6" r="2.3" fill="#4b73ba" stroke="#3f64a8" stroke-width="0.5"/><circle cx="484.1" cy="599.1" r="2.3" fill="#4b73ba" stroke="#3f64a8" stroke-width="0.5"/><circle cx="482.3" cy="601.5" r="2.3" fill="#4b73ba" stroke="#3f64a8" stroke-width="0.5"/><circle cx="491.1" cy="602.2" r="2.3" fill="#4b73ba" stroke="#3f64a8" stroke-width="0.5"/><circle cx="508.6" cy="602.2" r="2.3" fill="#4b73ba" stroke="#3f64a8" stroke-width="0.5"/><circle cx="485.8" cy="604.3" r="2.3" fill="#4b73ba" stroke="#3f64a8" stroke-width="0.5"/><circle cx="494.6" cy="605" r="2.3" fill="#4b73ba" stroke="#3f64a8" stroke-width="0.5"/><circle cx="475.3" cy="605" r="2.3" fill="#4b73ba" stroke="#3f64a8" stroke-width="0.5"/><circle cx="492.9" cy="606.8" r="2.3" fill="#4b73ba" stroke="#3f64a8" stroke-width="0.5"/><circle cx="489.3" cy="607.8" r="2.3" fill="#4b73ba" stroke="#3f64a8" stroke-width="0.5"/><circle cx="513.9" cy="607.8" r="2.3" fill="#4b73ba" stroke="#3f64a8" stroke-width="0.5"/><circle cx="514.6" cy="610.3" r="2.3" fill="#4b73ba" stroke="#3f64a8" stroke-width="0.5"/><circle cx="479.9" cy="609.2" r="2.3" fill="#4b73ba" stroke="#3f64a8" stroke-width="0.5"/><circle cx="471.8" cy="611.3" r="2.3" fill="#4b73ba" stroke="#3f64a8" stroke-width="0.5"/><circle cx="493" cy="512.2" r="2.3" fill="#4b73ba" stroke="#3f64a8" stroke-width="0.5"/><circle cx="511" cy="528.9" r="2.3" fill="#4b73ba" stroke="#3f64a8" stroke-width="0.5"/><circle cx="512" cy="540.4" r="2.3" fill="#4b73ba" stroke="#3f64a8" stroke-width="0.5"/><circle cx="491.1" cy="566" r="2.3" fill="#4b73ba" stroke="#3f64a8" stroke-width="0.5"/><circle cx="495.1" cy="571.9" r="2.3" fill="#4b73ba" stroke="#3f64a8" stroke-width="0.5"/><circle cx="489.4" cy="577.2" r="2.3" fill="#4b73ba" stroke="#3f64a8" stroke-width="0.5"/><circle cx="485.9" cy="579.8" r="2.3" fill="#4b73ba" stroke="#3f64a8" stroke-width="0.5"/><circle cx="491.8" cy="584.4" r="2.3" fill="#4b73ba" stroke="#3f64a8" stroke-width="0.5"/><circle cx="494.4" cy="588.4" r="2.3" fill="#4b73ba" stroke="#3f64a8" stroke-width="0.5"/><circle cx="476.7" cy="593" r="2.3" fill="#4b73ba" stroke="#3f64a8" stroke-width="0.5"/><circle cx="480" cy="594.3" r="2.3" fill="#4b73ba" stroke="#3f64a8" stroke-width="0.5"/><circle cx="485.9" cy="598.2" r="2.3" fill="#4b73ba" stroke="#3f64a8" stroke-width="0.5"/><circle cx="484.2" cy="602.8" r="2.3" fill="#4b73ba" stroke="#3f64a8" stroke-width="0.5"/><circle cx="487.2" cy="606.1" r="2.3" fill="#4b73ba" stroke="#3f64a8" stroke-width="0.5"/><circle cx="284.8" cy="668.7" r="2.3" fill="#f3bc46" stroke="#e4a83a" stroke-width="0.5"/><circle cx="455" cy="612.4" r="2.3" fill="#e8622f" stroke="#d9541f" stroke-width="0.5"/><text x="197.5" y="678.7" class="ss" font-size="6.6" text-anchor="middle" fill="#222" >0.00</text><text x="257.7" y="678.7" class="ss" font-size="6.6" text-anchor="middle" fill="#222" >0.05</text><text x="317.9" y="678.7" class="ss" font-size="6.6" text-anchor="middle" fill="#222" >0.10</text><text x="378.1" y="678.7" class="ss" font-size="6.6" text-anchor="middle" fill="#222" >0.15</text><text x="438.3" y="678.7" class="ss" font-size="6.6" text-anchor="middle" fill="#222" >0.20</text><text x="498.5" y="678.7" class="ss" font-size="6.6" text-anchor="middle" fill="#222" >0.25</text><text x="558.7" y="678.7" class="ss" font-size="6.6" text-anchor="middle" fill="#222" >0.30</text><text x="618.9" y="678.7" class="ss" font-size="6.6" text-anchor="middle" fill="#222" >0.35</text><text x="401.4" y="686.9" class="ss" font-size="6.4" text-anchor="middle" fill="#222" >Divergence</text><text x="84.1" y="392.1" class="ss" font-size="9.8" text-anchor="start" fill="#111" >Clade</text><rect x="84.7" y="398.4" width="8.3" height="8.3" fill="#f5c04f" stroke="#eca63c" stroke-width="0.8"/><text x="97.8" y="404.7" class="ss" font-size="6.3" text-anchor="start" fill="#222" >A</text><rect x="84.7" y="408.6" width="8.3" height="8.3" fill="#e3e662" stroke="#c8cf58" stroke-width="0.8"/><text x="97.8" y="414.8" class="ss" font-size="6.3" text-anchor="start" fill="#222" >B</text><rect x="84.7" y="418.8" width="8.3" height="8.3" fill="#4e79bd" stroke="#4570b5" stroke-width="0.8"/><text x="97.8" y="425" class="ss" font-size="6.3" text-anchor="start" fill="#222" >C</text><rect x="162.7" y="398.4" width="8.3" height="8.3" fill="#a5d48a" stroke="#8cc272" stroke-width="0.8"/><text x="175.8" y="404.7" class="ss" font-size="6.3" text-anchor="start" fill="#222" >D</text><rect x="162.7" y="408.6" width="8.3" height="8.3" fill="#6fc6cc" stroke="#56aab3" stroke-width="0.8"/><text x="175.8" y="414.8" class="ss" font-size="6.3" text-anchor="start" fill="#222" >F</text><rect x="162.7" y="418.8" width="8.3" height="8.3" fill="#ea6638" stroke="#e25a2c" stroke-width="0.8"/><text x="175.8" y="425" class="ss" font-size="6.3" text-anchor="start" fill="#222" >G</text><text x="7.7" y="377.8" class="sf" font-size="16.5" text-anchor="start" fill="#111" >b</text><rect x="231.9" y="402.5" width="218.7" height="158.8" fill="#fff" stroke="#cbcbcb" stroke-width="1"/><text x="240.4" y="415.4" class="ss" font-size="9.7" text-anchor="start" fill="#111" >Genotype at 2A site 136</text><rect x="240.9" y="421.8" width="8.2" height="8.2" fill="#7fcab8" stroke="#66b5a2" stroke-width="0.8"/><text x="253.7" y="427.7" class="ss" font-size="6.3" text-anchor="start" fill="#222" >D</text><rect x="240.9" y="432.4" width="8.2" height="8.2" fill="#f6cc4f" stroke="#e0b238" stroke-width="0.8"/><text x="253.7" y="438.1" class="ss" font-size="6.3" text-anchor="start" fill="#222" >N</text><rect x="319.1" y="421.8" width="8.2" height="8.2" fill="#62aadb" stroke="#4c93c7" stroke-width="0.8"/><text x="331.7" y="427.7" class="ss" font-size="6.3" text-anchor="start" fill="#222" >S</text><path d="M251.8,442.5L251.8,550.6" stroke="#e6e6e6" stroke-width="0.6" fill="none"/><path d="M260.1,442.5L260.1,550.6" stroke="#f3f3f3" stroke-width="0.6" fill="none"/><path d="M268.4,442.5L268.4,550.6" stroke="#e6e6e6" stroke-width="0.6" fill="none"/><path d="M276.7,442.5L276.7,550.6" stroke="#f3f3f3" stroke-width="0.6" fill="none"/><path d="M285,442.5L285,550.6" stroke="#e6e6e6" stroke-width="0.6" fill="none"/><path d="M293.3,442.5L293.3,550.6" stroke="#f3f3f3" stroke-width="0.6" fill="none"/><path d="M301.6,442.5L301.6,550.6" stroke="#e6e6e6" stroke-width="0.6" fill="none"/><path d="M309.9,442.5L309.9,550.6" stroke="#f3f3f3" stroke-width="0.6" fill="none"/><path d="M318.2,442.5L318.2,550.6" stroke="#e6e6e6" stroke-width="0.6" fill="none"/><path d="M326.5,442.5L326.5,550.6" stroke="#f3f3f3" stroke-width="0.6" fill="none"/><path d="M334.8,442.5L334.8,550.6" stroke="#e6e6e6" stroke-width="0.6" fill="none"/><path d="M343.1,442.5L343.1,550.6" stroke="#f3f3f3" stroke-width="0.6" fill="none"/><path d="M351.4,442.5L351.4,550.6" stroke="#e6e6e6" stroke-width="0.6" fill="none"/><path d="M359.7,442.5L359.7,550.6" stroke="#f3f3f3" stroke-width="0.6" fill="none"/><path d="M368,442.5L368,550.6" stroke="#e6e6e6" stroke-width="0.6" fill="none"/><path d="M376.3,442.5L376.3,550.6" stroke="#f3f3f3" stroke-width="0.6" fill="none"/><path d="M384.6,442.5L384.6,550.6" stroke="#e6e6e6" stroke-width="0.6" fill="none"/><path d="M392.9,442.5L392.9,550.6" stroke="#f3f3f3" stroke-width="0.6" fill="none"/><path d="M401.2,442.5L401.2,550.6" stroke="#e6e6e6" stroke-width="0.6" fill="none"/><path d="M409.5,442.5L409.5,550.6" stroke="#f3f3f3" stroke-width="0.6" fill="none"/><path d="M417.8,442.5L417.8,550.6" stroke="#e6e6e6" stroke-width="0.6" fill="none"/><path d="M426.1,442.5L426.1,550.6" stroke="#f3f3f3" stroke-width="0.6" fill="none"/><path d="M434.4,442.5L434.4,550.6" stroke="#e6e6e6" stroke-width="0.6" fill="none"/><text x="251.8" y="554.9" class="ss" font-size="2.6" text-anchor="middle" fill="#444" >1900</text><text x="268.4" y="554.9" class="ss" font-size="2.6" text-anchor="middle" fill="#444" >1910</text><text x="285" y="554.9" class="ss" font-size="2.6" text-anchor="middle" fill="#444" >1920</text><text x="301.6" y="554.9" class="ss" font-size="2.6" text-anchor="middle" fill="#444" >1930</text><text x="318.2" y="554.9" class="ss" font-size="2.6" text-anchor="middle" fill="#444" >1940</text><text x="334.8" y="554.9" class="ss" font-size="2.6" text-anchor="middle" fill="#444" >1950</text><text x="351.4" y="554.9" class="ss" font-size="2.6" text-anchor="middle" fill="#444" >1960</text><text x="368" y="554.9" class="ss" font-size="2.6" text-anchor="middle" fill="#444" >1970</text><text x="384.6" y="554.9" class="ss" font-size="2.6" text-anchor="middle" fill="#444" >1980</text><text x="401.2" y="554.9" class="ss" font-size="2.6" text-anchor="middle" fill="#444" >1990</text><text x="417.8" y="554.9" class="ss" font-size="2.6" text-anchor="middle" fill="#444" >2000</text><text x="434.4" y="554.9" class="ss" font-size="2.6" text-anchor="middle" fill="#444" >2010</text><text x="339.2" y="558" class="ss" font-size="2.6" text-anchor="middle" fill="#444" >Date</text><path d="M358,531.7V544.3M358,531.7H358M358,528.4V535.1M358,528.4H358M358,526.4V530.4M358,526.4H391M391,526.2V526.6M391,526.2H395.8M391,526.6H396.9M358,530.4H363.5M363.5,529V531.8M363.5,529H373.4M373.4,527.7V530.3M373.4,527.7H378.4M378.4,527.1V528.3M378.4,527.1H390M378.4,528.3H384M384,527.7V528.9M384,527.7H396.3M396.3,527.5V527.9M396.3,527.5H399.8M396.3,527.9H399.9M384,528.9H390.9M390.9,528.6V529.2M390.9,528.6H396.5M396.5,528.4V528.8M396.5,528.4H398M396.5,528.8H397.8M390.9,529.2H397.9M373.4,530.3H390.5M390.5,529.9V530.7M390.5,529.9H395.7M395.7,529.6V530.1M395.7,529.6H398.2M395.7,530.1H398.1M390.5,530.7H400.6M400.6,530.5V530.9M400.6,530.5H403.3M400.6,530.9H401.5M363.5,531.8H369.3M369.3,531.4V532.2M369.3,531.4H387.1M369.3,532.2H379.1M379.1,531.8V532.5M379.1,531.8H390.7M379.1,532.5H388.1M388.1,532.2V532.9M388.1,532.2H395.8M388.1,532.9H392.4M392.4,532.7V533.1M392.4,532.7H396.3M392.4,533.1H397.9M358,535.1H376M376,533.9V536.3M376,533.9H392.2M392.2,533.5V534.3M392.2,533.5H398.6M392.2,534.3H395.3M395.3,533.9V534.6M395.3,533.9H399M395.3,534.6H397.1M397.1,534.4V534.8M397.1,534.4H400.6M397.1,534.8H400.4M376,536.3H385.1M385.1,535.8V536.7M385.1,535.8H394.8M394.8,535.4V536.1M394.8,535.4H396.6M396.6,535.2V535.7M396.6,535.2H398M396.6,535.7H400.5M394.8,536.1H398.9M385.1,536.7H395M395,536.5V537M395,536.5H398.1M395,537H397.1M358,544.3H361.1M361.1,540.9V547.6M361.1,540.9H369.5M369.5,539V542.9M369.5,539H374.2M374.2,538.2V539.7M374.2,538.2H380.1M380.1,537.6V538.8M380.1,537.6H395.5M395.5,537.4V537.8M395.5,537.4H400.3M395.5,537.8H398.9M380.1,538.8H389.6M389.6,538.5V539.1M389.6,538.5H397.1M397.1,538.2V538.7M397.1,538.2H400.6M397.1,538.7H401.1M389.6,539.1H396.8M374.2,539.7H392M392,539.5V540M392,539.5H398.7M392,540H396.9M369.5,542.9H376.8M376.8,541.2V544.6M376.8,541.2H390.5M390.5,540.6V541.8M390.5,540.6H393.9M393.9,540.4V540.8M393.9,540.4H399.3M393.9,540.8H398M390.5,541.8H393.2M393.2,541.5V542.1M393.2,541.5H400.5M400.5,541.2V541.7M400.5,541.2H403M400.5,541.7H402.8M393.2,542.1H396.4M376.8,544.6H380.8M380.8,543.4V545.7M380.8,543.4H387.4M387.4,543V543.9M387.4,543H389.4M389.4,542.8V543.2M389.4,542.8H393.3M393.3,542.5V543M393.3,542.5H396.6M393.3,543H396.9M389.4,543.2H401.8M387.4,543.9H407.5M407.5,543.7V544.1M407.5,543.7H408.3M407.5,544.1H409.2M380.8,545.7H394.9M394.9,544.9V546.5M394.9,544.9H399.7M399.7,544.6V545.2M399.7,544.6H403.8M399.7,545.2H405M405,545V545.5M405,545H407.4M405,545.5H406.8M394.9,546.5H399.6M399.6,546.1V546.8M399.6,546.1H403.7M403.7,545.9V546.4M403.7,545.9H406M403.7,546.4H407.1M399.6,546.8H405.1M361.1,547.6H404M404,547.2V547.9M404,547.2H408.8M404,547.9H407.3M407.3,547.7V548.2M407.3,547.7H409.4M407.3,548.2H410.6" stroke="#9fc1b8" stroke-width="0.6" fill="none" /><path d="M395.8,526.2H400.7M396.9,526.6H402.8M390,527.1H401.6M399.8,527.5H403.2M399.9,527.9H403.4M398,528.4H399.5M397.8,528.8H399.1M397.9,529.2H404.9M398.2,529.6H400.8M398.1,530.1H400.6M403.3,530.5H406M401.5,530.9H402.3M387.1,531.4H404.9M390.7,531.8H402.3M395.8,532.2H403.5M396.3,532.7H400.1M397.9,533.1H403.4M398.6,533.5H405.1M399,533.9H402.7M400.6,534.4H404.2M400.4,534.8H403.7M398,535.2H399.4M400.5,535.7H404.3M398.9,536.1H403.1M398.1,536.5H401.1M397.1,537H399.2M400.3,537.4H405.1M398.9,537.8H402.3M400.6,538.2H404M401.1,538.7H405.2M396.8,539.1H404M398.7,539.5H405.4M396.9,540H401.8M399.3,540.4H404.6M398,540.8H402.1M403,541.2H405.5M402.8,541.7H405.2M396.4,542.1H399.7M396.6,542.5H400M396.9,543H400.5M401.8,543.2H414.2M408.3,543.7H409.1M409.2,544.1H411M403.8,544.6H407.9M407.4,545H409.8M406.8,545.5H408.7M406,545.9H408.3M407.1,546.4H410.6M405.1,546.8H410.6M408.8,547.2H413.6M409.4,547.7H411.5M410.6,548.2H413.8" stroke="#8cc6b9" stroke-width="0.6" fill="none" /><path d="M375.1,526.8L402.5,526.8" stroke="#a9cfc5" stroke-width="0.5" fill="none"/><path d="M371.7,528L400.7,528" stroke="#a9cfc5" stroke-width="0.5" fill="none"/><path d="M375.2,529.7L403.3,529.7" stroke="#a9cfc5" stroke-width="0.5" fill="none"/><path d="M372.1,530.5L402.3,530.5" stroke="#a9cfc5" stroke-width="0.5" fill="none"/><path d="M375.5,532.2L400.1,532.2" stroke="#a9cfc5" stroke-width="0.5" fill="none"/><path d="M377.9,532.9L400,532.9" stroke="#a9cfc5" stroke-width="0.5" fill="none"/><path d="M387.2,534.6L399.9,534.6" stroke="#a9cfc5" stroke-width="0.5" fill="none"/><path d="M386.2,535.5L402.2,535.5" stroke="#a9cfc5" stroke-width="0.5" fill="none"/><path d="M372.4,537L399.6,537" stroke="#a9cfc5" stroke-width="0.5" fill="none"/><path d="M385.8,537.9L400.4,537.9" stroke="#a9cfc5" stroke-width="0.5" fill="none"/><path d="M374.5,539.2L401.1,539.2" stroke="#a9cfc5" stroke-width="0.5" fill="none"/><path d="M389.6,540.5L399.8,540.5" stroke="#a9cfc5" stroke-width="0.5" fill="none"/><path d="M390.3,541.5L403.4,541.5" stroke="#a9cfc5" stroke-width="0.5" fill="none"/><path d="M375,543.3L403.8,543.3" stroke="#a9cfc5" stroke-width="0.5" fill="none"/><path d="M368.7,544.5L402.7,544.5" stroke="#a9cfc5" stroke-width="0.5" fill="none"/><path d="M381.9,545.7L401.6,545.7" stroke="#a9cfc5" stroke-width="0.5" fill="none"/><path d="M372.2,546.6L400.1,546.6" stroke="#a9cfc5" stroke-width="0.5" fill="none"/><path d="M379.7,547.7L400.4,547.7" stroke="#a9cfc5" stroke-width="0.5" fill="none"/><path d="M339.8,541.2H350V538H358" stroke="#80aaa0" stroke-width="1" fill="none" /><path d="M257.1,550.4H417.7" stroke="#a3c4bb" stroke-width="0.9" fill="none" /><path d="M257.1,550.8V542.4H302.7" stroke="#80aaa0" stroke-width="2.2" fill="none" /><path d="M302.7,550.6V535.4H314.9" stroke="#80aaa0" stroke-width="2.2" fill="none" /><path d="M314.9,544.6V526.2H341.6V524.9H370.6" stroke="#80aaa0" stroke-width="2.2" fill="none" /><path d="M314.9,544.3H339.8" stroke="#80aaa0" stroke-width="1.6" fill="none" /><path d="M339.8,540.8V547.5M339.8,547.3H362" stroke="#80aaa0" stroke-width="1.1" fill="none" /><circle cx="301.8" cy="550.4" r="0.9" fill="#6fc3b0" stroke="#58a896" stroke-width="0.2"/><path d="M370.6,523.7H390.4V519.2H395.8V513.8H401.2V498H404.4V487.2H408.5V463.2" stroke="#c7b37f" stroke-width="1.8" fill="none" /><path d="M398,519.2V523.5M398,521.5H404M401.2,505H408M404.4,492H413M408,472H414M408,480H412" stroke="#d6c07c" stroke-width="0.9" fill="none" /><path d="M409,463.2H413.2V444" stroke="#9fc3bb" stroke-width="1.5" fill="none" /><path d="M413.2,463.2V469.5" stroke="#a9c9c2" stroke-width="1.2" fill="none" /><circle cx="400.7" cy="526.2" r="0.9" fill="#6fc3b0" stroke="#58a896" stroke-width="0.2"/><circle cx="402.8" cy="526.6" r="0.9" fill="#6fc3b0" stroke="#58a896" stroke-width="0.2"/><circle cx="401.6" cy="527.1" r="0.9" fill="#6fc3b0" stroke="#58a896" stroke-width="0.2"/><circle cx="403.2" cy="527.5" r="0.9" fill="#6fc3b0" stroke="#58a896" stroke-width="0.2"/><circle cx="403.4" cy="527.9" r="0.9" fill="#6fc3b0" stroke="#58a896" stroke-width="0.2"/><circle cx="399.5" cy="528.4" r="0.9" fill="#6fc3b0" stroke="#58a896" stroke-width="0.2"/><circle cx="399.1" cy="528.8" r="0.9" fill="#6fc3b0" stroke="#58a896" stroke-width="0.2"/><circle cx="404.9" cy="529.2" r="0.9" fill="#6fc3b0" stroke="#58a896" stroke-width="0.2"/><circle cx="400.8" cy="529.6" r="0.9" fill="#6fc3b0" stroke="#58a896" stroke-width="0.2"/><circle cx="400.6" cy="530.1" r="0.9" fill="#6fc3b0" stroke="#58a896" stroke-width="0.2"/><circle cx="406" cy="530.5" r="0.9" fill="#6fc3b0" stroke="#58a896" stroke-width="0.2"/><circle cx="402.3" cy="530.9" r="0.9" fill="#6fc3b0" stroke="#58a896" stroke-width="0.2"/><circle cx="404.9" cy="531.4" r="0.9" fill="#6fc3b0" stroke="#58a896" stroke-width="0.2"/><circle cx="402.3" cy="531.8" r="0.9" fill="#6fc3b0" stroke="#58a896" stroke-width="0.2"/><circle cx="403.5" cy="532.2" r="0.9" fill="#6fc3b0" stroke="#58a896" stroke-width="0.2"/><circle cx="400.1" cy="532.7" r="0.9" fill="#6fc3b0" stroke="#58a896" stroke-width="0.2"/><circle cx="403.4" cy="533.1" r="0.9" fill="#6fc3b0" stroke="#58a896" stroke-width="0.2"/><circle cx="405.1" cy="533.5" r="0.9" fill="#6fc3b0" stroke="#58a896" stroke-width="0.2"/><circle cx="402.7" cy="533.9" r="0.9" fill="#6fc3b0" stroke="#58a896" stroke-width="0.2"/><circle cx="404.2" cy="534.4" r="0.9" fill="#6fc3b0" stroke="#58a896" stroke-width="0.2"/><circle cx="403.7" cy="534.8" r="0.9" fill="#6fc3b0" stroke="#58a896" stroke-width="0.2"/><circle cx="399.4" cy="535.2" r="0.9" fill="#6fc3b0" stroke="#58a896" stroke-width="0.2"/><circle cx="404.3" cy="535.7" r="0.9" fill="#6fc3b0" stroke="#58a896" stroke-width="0.2"/><circle cx="403.1" cy="536.1" r="0.9" fill="#6fc3b0" stroke="#58a896" stroke-width="0.2"/><circle cx="401.1" cy="536.5" r="0.9" fill="#6fc3b0" stroke="#58a896" stroke-width="0.2"/><circle cx="399.2" cy="537" r="0.9" fill="#6fc3b0" stroke="#58a896" stroke-width="0.2"/><circle cx="405.1" cy="537.4" r="0.9" fill="#6fc3b0" stroke="#58a896" stroke-width="0.2"/><circle cx="402.3" cy="537.8" r="0.9" fill="#6fc3b0" stroke="#58a896" stroke-width="0.2"/><circle cx="404" cy="538.2" r="0.9" fill="#6fc3b0" stroke="#58a896" stroke-width="0.2"/><circle cx="405.2" cy="538.7" r="0.9" fill="#6fc3b0" stroke="#58a896" stroke-width="0.2"/><circle cx="404" cy="539.1" r="0.9" fill="#6fc3b0" stroke="#58a896" stroke-width="0.2"/><circle cx="405.4" cy="539.5" r="0.9" fill="#6fc3b0" stroke="#58a896" stroke-width="0.2"/><circle cx="401.8" cy="540" r="0.9" fill="#6fc3b0" stroke="#58a896" stroke-width="0.2"/><circle cx="404.6" cy="540.4" r="0.9" fill="#6fc3b0" stroke="#58a896" stroke-width="0.2"/><circle cx="402.1" cy="540.8" r="0.9" fill="#6fc3b0" stroke="#58a896" stroke-width="0.2"/><circle cx="405.5" cy="541.2" r="0.9" fill="#6fc3b0" stroke="#58a896" stroke-width="0.2"/><circle cx="405.2" cy="541.7" r="0.9" fill="#6fc3b0" stroke="#58a896" stroke-width="0.2"/><circle cx="399.7" cy="542.1" r="0.9" fill="#6fc3b0" stroke="#58a896" stroke-width="0.2"/><circle cx="400" cy="542.5" r="0.9" fill="#6fc3b0" stroke="#58a896" stroke-width="0.2"/><circle cx="400.5" cy="543" r="0.9" fill="#6fc3b0" stroke="#58a896" stroke-width="0.2"/><circle cx="414.2" cy="543.2" r="0.9" fill="#6fc3b0" stroke="#58a896" stroke-width="0.2"/><circle cx="409.1" cy="543.7" r="0.9" fill="#6fc3b0" stroke="#58a896" stroke-width="0.2"/><circle cx="411" cy="544.1" r="0.9" fill="#6fc3b0" stroke="#58a896" stroke-width="0.2"/><circle cx="407.9" cy="544.6" r="0.9" fill="#6fc3b0" stroke="#58a896" stroke-width="0.2"/><circle cx="409.8" cy="545" r="0.9" fill="#6fc3b0" stroke="#58a896" stroke-width="0.2"/><circle cx="408.7" cy="545.5" r="0.9" fill="#6fc3b0" stroke="#58a896" stroke-width="0.2"/><circle cx="408.3" cy="545.9" r="0.9" fill="#6fc3b0" stroke="#58a896" stroke-width="0.2"/><circle cx="410.6" cy="546.4" r="0.9" fill="#6fc3b0" stroke="#58a896" stroke-width="0.2"/><circle cx="410.6" cy="546.8" r="0.9" fill="#6fc3b0" stroke="#58a896" stroke-width="0.2"/><circle cx="413.6" cy="547.2" r="0.9" fill="#6fc3b0" stroke="#58a896" stroke-width="0.2"/><circle cx="411.5" cy="547.7" r="0.9" fill="#6fc3b0" stroke="#58a896" stroke-width="0.2"/><circle cx="413.8" cy="548.2" r="0.9" fill="#6fc3b0" stroke="#58a896" stroke-width="0.2"/><circle cx="417.7" cy="549.8" r="1.1" fill="#6fc3b0" stroke="#58a896" stroke-width="0.2"/><path d="M414,439.9L420.7,439.9" stroke="#9ad0c3" stroke-width="0.5" fill="none"/><circle cx="420.7" cy="439.9" r="1" fill="#6fc3b0" stroke="#58a896" stroke-width="0.2"/><path d="M414,444L421.3,444" stroke="#9ad0c3" stroke-width="0.5" fill="none"/><circle cx="421.3" cy="444" r="1" fill="#6fc3b0" stroke="#58a896" stroke-width="0.2"/><path d="M414,445.3L421.5,445.3" stroke="#9ad0c3" stroke-width="0.5" fill="none"/><circle cx="421.5" cy="445.3" r="1" fill="#6fc3b0" stroke="#58a896" stroke-width="0.2"/><path d="M414,443.3L421.3,443.3" stroke="#9ad0c3" stroke-width="0.5" fill="none"/><circle cx="421.3" cy="443.3" r="1" fill="#6fc3b0" stroke="#58a896" stroke-width="0.2"/><path d="M414,444.4L415.1,444.4" stroke="#9ad0c3" stroke-width="0.5" fill="none"/><circle cx="415.1" cy="444.4" r="1" fill="#6fc3b0" stroke="#58a896" stroke-width="0.2"/><path d="M414,441.5L416.2,441.5" stroke="#9ad0c3" stroke-width="0.5" fill="none"/><circle cx="416.2" cy="441.5" r="1" fill="#6fc3b0" stroke="#58a896" stroke-width="0.2"/><path d="M414,443L419.6,443" stroke="#9ad0c3" stroke-width="0.5" fill="none"/><circle cx="419.6" cy="443" r="1" fill="#6fc3b0" stroke="#58a896" stroke-width="0.2"/><path d="M414,445.6L417.9,445.6" stroke="#9ad0c3" stroke-width="0.5" fill="none"/><circle cx="417.9" cy="445.6" r="1" fill="#6fc3b0" stroke="#58a896" stroke-width="0.2"/><path d="M414,441.8L419.3,441.8" stroke="#9ad0c3" stroke-width="0.5" fill="none"/><circle cx="419.3" cy="441.8" r="1" fill="#6fc3b0" stroke="#58a896" stroke-width="0.2"/><path d="M414,445.1L416.8,445.1" stroke="#9ad0c3" stroke-width="0.5" fill="none"/><circle cx="416.8" cy="445.1" r="1" fill="#6fc3b0" stroke="#58a896" stroke-width="0.2"/><path d="M414,444.6L418.3,444.6" stroke="#9ad0c3" stroke-width="0.5" fill="none"/><circle cx="418.3" cy="444.6" r="1" fill="#6fc3b0" stroke="#58a896" stroke-width="0.2"/><path d="M414,440.9L417.5,440.9" stroke="#9ad0c3" stroke-width="0.5" fill="none"/><circle cx="417.5" cy="440.9" r="1" fill="#6fc3b0" stroke="#58a896" stroke-width="0.2"/><path d="M414,444.8L418.7,444.8" stroke="#9ad0c3" stroke-width="0.5" fill="none"/><circle cx="418.7" cy="444.8" r="1" fill="#6fc3b0" stroke="#58a896" stroke-width="0.2"/><path d="M414,444.7L416.2,444.7" stroke="#9ad0c3" stroke-width="0.5" fill="none"/><circle cx="416.2" cy="444.7" r="1" fill="#6fc3b0" stroke="#58a896" stroke-width="0.2"/><path d="M413.4,454.5L417,454.5" stroke="#9ad0c3" stroke-width="0.5" fill="none"/><circle cx="417" cy="454.5" r="1" fill="#6fc3b0" stroke="#58a896" stroke-width="0.2"/><path d="M413.4,446.1L416.7,446.1" stroke="#9ad0c3" stroke-width="0.5" fill="none"/><circle cx="416.7" cy="446.1" r="1" fill="#6fc3b0" stroke="#58a896" stroke-width="0.2"/><path d="M413.4,455.1L416,455.1" stroke="#9ad0c3" stroke-width="0.5" fill="none"/><circle cx="416" cy="455.1" r="1" fill="#6fc3b0" stroke="#58a896" stroke-width="0.2"/><path d="M413.4,448.9L414.1,448.9" stroke="#9ad0c3" stroke-width="0.5" fill="none"/><circle cx="414.1" cy="448.9" r="1" fill="#6fc3b0" stroke="#58a896" stroke-width="0.2"/><path d="M413.4,451.6L414.8,451.6" stroke="#9ad0c3" stroke-width="0.5" fill="none"/><circle cx="414.8" cy="451.6" r="1" fill="#6fc3b0" stroke="#58a896" stroke-width="0.2"/><path d="M413.4,451L415.3,451" stroke="#9ad0c3" stroke-width="0.5" fill="none"/><circle cx="415.3" cy="451" r="1" fill="#6fc3b0" stroke="#58a896" stroke-width="0.2"/><path d="M413.4,446L416.5,446" stroke="#9ad0c3" stroke-width="0.5" fill="none"/><circle cx="416.5" cy="446" r="1" fill="#6fc3b0" stroke="#58a896" stroke-width="0.2"/><path d="M413.4,447.3L414.1,447.3" stroke="#9ad0c3" stroke-width="0.5" fill="none"/><circle cx="414.1" cy="447.3" r="1" fill="#6fc3b0" stroke="#58a896" stroke-width="0.2"/><path d="M413.4,446.7L414.3,446.7" stroke="#9ad0c3" stroke-width="0.5" fill="none"/><circle cx="414.3" cy="446.7" r="1" fill="#6fc3b0" stroke="#58a896" stroke-width="0.2"/><path d="M413.4,455.1L417.2,455.1" stroke="#9ad0c3" stroke-width="0.5" fill="none"/><circle cx="417.2" cy="455.1" r="1" fill="#6fc3b0" stroke="#58a896" stroke-width="0.2"/><path d="M413.4,451.3L414.2,451.3" stroke="#9ad0c3" stroke-width="0.5" fill="none"/><circle cx="414.2" cy="451.3" r="1" fill="#6fc3b0" stroke="#58a896" stroke-width="0.2"/><path d="M413.4,449.3L415,449.3" stroke="#9ad0c3" stroke-width="0.5" fill="none"/><circle cx="415" cy="449.3" r="1" fill="#6fc3b0" stroke="#58a896" stroke-width="0.2"/><path d="M413.4,452.9L415.1,452.9" stroke="#9ad0c3" stroke-width="0.5" fill="none"/><circle cx="415.1" cy="452.9" r="1" fill="#6fc3b0" stroke="#58a896" stroke-width="0.2"/><path d="M413.4,449.8L415.9,449.8" stroke="#9ad0c3" stroke-width="0.5" fill="none"/><circle cx="415.9" cy="449.8" r="1" fill="#6fc3b0" stroke="#58a896" stroke-width="0.2"/><path d="M413.4,449.5L414.5,449.5" stroke="#9ad0c3" stroke-width="0.5" fill="none"/><circle cx="414.5" cy="449.5" r="1" fill="#6fc3b0" stroke="#58a896" stroke-width="0.2"/><path d="M413.4,451.9L414.3,451.9" stroke="#9ad0c3" stroke-width="0.5" fill="none"/><circle cx="414.3" cy="451.9" r="1" fill="#6fc3b0" stroke="#58a896" stroke-width="0.2"/><path d="M413.4,450L416.3,450" stroke="#9ad0c3" stroke-width="0.5" fill="none"/><circle cx="416.3" cy="450" r="1" fill="#6fc3b0" stroke="#58a896" stroke-width="0.2"/><path d="M413.4,447.9L414.2,447.9" stroke="#9ad0c3" stroke-width="0.5" fill="none"/><circle cx="414.2" cy="447.9" r="1" fill="#6fc3b0" stroke="#58a896" stroke-width="0.2"/><path d="M413.4,452.4L415.2,452.4" stroke="#9ad0c3" stroke-width="0.5" fill="none"/><circle cx="415.2" cy="452.4" r="1" fill="#6fc3b0" stroke="#58a896" stroke-width="0.2"/><path d="M413.4,450L416.6,450" stroke="#9ad0c3" stroke-width="0.5" fill="none"/><circle cx="416.6" cy="450" r="1" fill="#6fc3b0" stroke="#58a896" stroke-width="0.2"/><path d="M413.4,452.6L416.6,452.6" stroke="#9ad0c3" stroke-width="0.5" fill="none"/><circle cx="416.6" cy="452.6" r="1" fill="#6fc3b0" stroke="#58a896" stroke-width="0.2"/><path d="M413.4,449.9L415.4,449.9" stroke="#9ad0c3" stroke-width="0.5" fill="none"/><circle cx="415.4" cy="449.9" r="1" fill="#6fc3b0" stroke="#58a896" stroke-width="0.2"/><path d="M413.4,453.5L415.6,453.5" stroke="#9ad0c3" stroke-width="0.5" fill="none"/><circle cx="415.6" cy="453.5" r="1" fill="#6fc3b0" stroke="#58a896" stroke-width="0.2"/><path d="M413.4,453.4L415.3,453.4" stroke="#9ad0c3" stroke-width="0.5" fill="none"/><circle cx="415.3" cy="453.4" r="1" fill="#6fc3b0" stroke="#58a896" stroke-width="0.2"/><path d="M413.4,448.6L415.5,448.6" stroke="#9ad0c3" stroke-width="0.5" fill="none"/><circle cx="415.5" cy="448.6" r="1" fill="#6fc3b0" stroke="#58a896" stroke-width="0.2"/><path d="M413.4,453.4L415.7,453.4" stroke="#9ad0c3" stroke-width="0.5" fill="none"/><circle cx="415.7" cy="453.4" r="1" fill="#6fc3b0" stroke="#58a896" stroke-width="0.2"/><path d="M413.4,450.5L414.1,450.5" stroke="#9ad0c3" stroke-width="0.5" fill="none"/><circle cx="414.1" cy="450.5" r="1" fill="#6fc3b0" stroke="#58a896" stroke-width="0.2"/><path d="M413.4,455.3L415.3,455.3" stroke="#9ad0c3" stroke-width="0.5" fill="none"/><circle cx="415.3" cy="455.3" r="1" fill="#6fc3b0" stroke="#58a896" stroke-width="0.2"/><path d="M413.4,450L417.1,450" stroke="#9ad0c3" stroke-width="0.5" fill="none"/><circle cx="417.1" cy="450" r="1" fill="#6fc3b0" stroke="#58a896" stroke-width="0.2"/><path d="M413.4,454.4L417,454.4" stroke="#9ad0c3" stroke-width="0.5" fill="none"/><circle cx="417" cy="454.4" r="1" fill="#6fc3b0" stroke="#58a896" stroke-width="0.2"/><path d="M414.3,466.9L416.2,466.9" stroke="#9ad0c3" stroke-width="0.5" fill="none"/><circle cx="416.2" cy="466.9" r="1" fill="#6fc3b0" stroke="#58a896" stroke-width="0.2"/><path d="M413.4,468.2L418,468.2" stroke="#9ad0c3" stroke-width="0.5" fill="none"/><circle cx="418" cy="468.2" r="1" fill="#6fc3b0" stroke="#58a896" stroke-width="0.2"/><path d="M413.9,468.2L417.9,468.2" stroke="#9ad0c3" stroke-width="0.5" fill="none"/><circle cx="417.9" cy="468.2" r="1" fill="#6fc3b0" stroke="#58a896" stroke-width="0.2"/><path d="M413.6,464.6L417.2,464.6" stroke="#9ad0c3" stroke-width="0.5" fill="none"/><circle cx="417.2" cy="464.6" r="1" fill="#6fc3b0" stroke="#58a896" stroke-width="0.2"/><path d="M411.2,464.9L415.4,464.9" stroke="#9ad0c3" stroke-width="0.5" fill="none"/><circle cx="415.4" cy="464.9" r="1" fill="#6fc3b0" stroke="#58a896" stroke-width="0.2"/><path d="M413.7,464.6L415.5,464.6" stroke="#9ad0c3" stroke-width="0.5" fill="none"/><circle cx="415.5" cy="464.6" r="1" fill="#6fc3b0" stroke="#58a896" stroke-width="0.2"/><path d="M416.6,465.1L418.2,465.1" stroke="#9ad0c3" stroke-width="0.5" fill="none"/><circle cx="418.2" cy="465.1" r="1" fill="#6fc3b0" stroke="#58a896" stroke-width="0.2"/><path d="M413.6,464.8L418.1,464.8" stroke="#9ad0c3" stroke-width="0.5" fill="none"/><circle cx="418.1" cy="464.8" r="1" fill="#6fc3b0" stroke="#58a896" stroke-width="0.2"/><path d="M412.7,469.3L417.6,469.3" stroke="#9ad0c3" stroke-width="0.5" fill="none"/><circle cx="417.6" cy="469.3" r="1" fill="#6fc3b0" stroke="#58a896" stroke-width="0.2"/><path d="M415.6,469L417.3,469" stroke="#9ad0c3" stroke-width="0.5" fill="none"/><circle cx="417.3" cy="469" r="1" fill="#6fc3b0" stroke="#58a896" stroke-width="0.2"/><path d="M413.9,467.2L417.9,467.2" stroke="#9ad0c3" stroke-width="0.5" fill="none"/><circle cx="417.9" cy="467.2" r="1" fill="#6fc3b0" stroke="#58a896" stroke-width="0.2"/><path d="M414.3,464.9L419.1,464.9" stroke="#9ad0c3" stroke-width="0.5" fill="none"/><circle cx="419.1" cy="464.9" r="1" fill="#6fc3b0" stroke="#58a896" stroke-width="0.2"/><path d="M415.4,464.2L418.9,464.2" stroke="#9ad0c3" stroke-width="0.5" fill="none"/><circle cx="418.9" cy="464.2" r="1" fill="#6fc3b0" stroke="#58a896" stroke-width="0.2"/><path d="M420.4,464L422.6,464" stroke="#9ad0c3" stroke-width="0.5" fill="none"/><circle cx="422.6" cy="464" r="1" fill="#6fc3b0" stroke="#58a896" stroke-width="0.2"/><path d="M415.2,469.7L419.3,469.7" stroke="#9ad0c3" stroke-width="0.5" fill="none"/><circle cx="419.3" cy="469.7" r="1" fill="#6fc3b0" stroke="#58a896" stroke-width="0.2"/><path d="M416.9,469.3L419.8,469.3" stroke="#9ad0c3" stroke-width="0.5" fill="none"/><circle cx="419.8" cy="469.3" r="1" fill="#6fc3b0" stroke="#58a896" stroke-width="0.2"/><path d="M417.9,469.4L419.7,469.4" stroke="#9ad0c3" stroke-width="0.5" fill="none"/><circle cx="419.7" cy="469.4" r="1" fill="#6fc3b0" stroke="#58a896" stroke-width="0.2"/><path d="M416.6,463.8L419.6,463.8" stroke="#e4cb72" stroke-width="0.5" fill="none"/><circle cx="419.6" cy="463.8" r="1" fill="#f3c83d" stroke="#dcae2a" stroke-width="0.2"/><path d="M417.2,457L421.1,457" stroke="#e4cb72" stroke-width="0.5" fill="none"/><circle cx="421.1" cy="457" r="1" fill="#f3c83d" stroke="#dcae2a" stroke-width="0.2"/><path d="M417.9,461.3L421.2,461.3" stroke="#e4cb72" stroke-width="0.5" fill="none"/><circle cx="421.2" cy="461.3" r="1" fill="#f3c83d" stroke="#dcae2a" stroke-width="0.2"/><path d="M414.8,461L419.4,461" stroke="#e4cb72" stroke-width="0.5" fill="none"/><circle cx="419.4" cy="461" r="1" fill="#f3c83d" stroke="#dcae2a" stroke-width="0.2"/><path d="M413.2,456.5L417.3,456.5" stroke="#e4cb72" stroke-width="0.5" fill="none"/><circle cx="417.3" cy="456.5" r="1" fill="#f3c83d" stroke="#dcae2a" stroke-width="0.2"/><path d="M419.1,460L422.2,460" stroke="#e4cb72" stroke-width="0.5" fill="none"/><circle cx="422.2" cy="460" r="1" fill="#f3c83d" stroke="#dcae2a" stroke-width="0.2"/><path d="M418.5,457.2L420.9,457.2" stroke="#e4cb72" stroke-width="0.5" fill="none"/><circle cx="420.9" cy="457.2" r="1" fill="#f3c83d" stroke="#dcae2a" stroke-width="0.2"/><path d="M415.1,460.6L417.7,460.6" stroke="#e4cb72" stroke-width="0.5" fill="none"/><circle cx="417.7" cy="460.6" r="1" fill="#f3c83d" stroke="#dcae2a" stroke-width="0.2"/><path d="M413,461.4L417.9,461.4" stroke="#e4cb72" stroke-width="0.5" fill="none"/><circle cx="417.9" cy="461.4" r="1" fill="#f3c83d" stroke="#dcae2a" stroke-width="0.2"/><path d="M415.3,461.6L418.3,461.6" stroke="#e4cb72" stroke-width="0.5" fill="none"/><circle cx="418.3" cy="461.6" r="1" fill="#f3c83d" stroke="#dcae2a" stroke-width="0.2"/><path d="M419.3,460.6L421.8,460.6" stroke="#e4cb72" stroke-width="0.5" fill="none"/><circle cx="421.8" cy="460.6" r="1" fill="#f3c83d" stroke="#dcae2a" stroke-width="0.2"/><path d="M414.6,455.9L417.8,455.9" stroke="#e4cb72" stroke-width="0.5" fill="none"/><circle cx="417.8" cy="455.9" r="1" fill="#f3c83d" stroke="#dcae2a" stroke-width="0.2"/><path d="M416,457.1L418.8,457.1" stroke="#e4cb72" stroke-width="0.5" fill="none"/><circle cx="418.8" cy="457.1" r="1" fill="#f3c83d" stroke="#dcae2a" stroke-width="0.2"/><path d="M416.4,462.1L418.4,462.1" stroke="#e4cb72" stroke-width="0.5" fill="none"/><circle cx="418.4" cy="462.1" r="1" fill="#f3c83d" stroke="#dcae2a" stroke-width="0.2"/><path d="M419,459.7L422.6,459.7" stroke="#e4cb72" stroke-width="0.5" fill="none"/><circle cx="422.6" cy="459.7" r="1" fill="#f3c83d" stroke="#dcae2a" stroke-width="0.2"/><path d="M415,462.6L419.3,462.6" stroke="#e4cb72" stroke-width="0.5" fill="none"/><circle cx="419.3" cy="462.6" r="1" fill="#f3c83d" stroke="#dcae2a" stroke-width="0.2"/><path d="M411.7,473.8L415.7,473.8" stroke="#e4cb72" stroke-width="0.5" fill="none"/><circle cx="415.7" cy="473.8" r="1" fill="#f3c83d" stroke="#dcae2a" stroke-width="0.2"/><path d="M414.2,472.8L418.3,472.8" stroke="#e4cb72" stroke-width="0.5" fill="none"/><circle cx="418.3" cy="472.8" r="1" fill="#f3c83d" stroke="#dcae2a" stroke-width="0.2"/><path d="M416.9,473.6L419.2,473.6" stroke="#e4cb72" stroke-width="0.5" fill="none"/><circle cx="419.2" cy="473.6" r="1" fill="#f3c83d" stroke="#dcae2a" stroke-width="0.2"/><path d="M409.1,476.6L413,476.6" stroke="#e4cb72" stroke-width="0.5" fill="none"/><circle cx="413" cy="476.6" r="1" fill="#f3c83d" stroke="#dcae2a" stroke-width="0.2"/><path d="M416.8,478.2L419.1,478.2" stroke="#e4cb72" stroke-width="0.5" fill="none"/><circle cx="419.1" cy="478.2" r="1" fill="#f3c83d" stroke="#dcae2a" stroke-width="0.2"/><path d="M410.5,471.1L412.6,471.1" stroke="#e4cb72" stroke-width="0.5" fill="none"/><circle cx="412.6" cy="471.1" r="1" fill="#f3c83d" stroke="#dcae2a" stroke-width="0.2"/><path d="M412.3,478.3L417,478.3" stroke="#e4cb72" stroke-width="0.5" fill="none"/><circle cx="417" cy="478.3" r="1" fill="#f3c83d" stroke="#dcae2a" stroke-width="0.2"/><path d="M410.6,478.4L413.2,478.4" stroke="#e4cb72" stroke-width="0.5" fill="none"/><circle cx="413.2" cy="478.4" r="1" fill="#f3c83d" stroke="#dcae2a" stroke-width="0.2"/><path d="M412.8,476.7L414.6,476.7" stroke="#e4cb72" stroke-width="0.5" fill="none"/><circle cx="414.6" cy="476.7" r="1" fill="#f3c83d" stroke="#dcae2a" stroke-width="0.2"/><path d="M409.3,478L411.8,478" stroke="#e4cb72" stroke-width="0.5" fill="none"/><circle cx="411.8" cy="478" r="1" fill="#f3c83d" stroke="#dcae2a" stroke-width="0.2"/><path d="M410.2,475L414,475" stroke="#e4cb72" stroke-width="0.5" fill="none"/><circle cx="414" cy="475" r="1" fill="#f3c83d" stroke="#dcae2a" stroke-width="0.2"/><path d="M408,472L411.1,472" stroke="#e4cb72" stroke-width="0.5" fill="none"/><circle cx="411.1" cy="472" r="1" fill="#f3c83d" stroke="#dcae2a" stroke-width="0.2"/><path d="M411.6,470.5L415.1,470.5" stroke="#e4cb72" stroke-width="0.5" fill="none"/><circle cx="415.1" cy="470.5" r="1" fill="#f3c83d" stroke="#dcae2a" stroke-width="0.2"/><path d="M415.7,472.7L419.1,472.7" stroke="#e4cb72" stroke-width="0.5" fill="none"/><circle cx="419.1" cy="472.7" r="1" fill="#f3c83d" stroke="#dcae2a" stroke-width="0.2"/><path d="M408.2,471.3L412,471.3" stroke="#e4cb72" stroke-width="0.5" fill="none"/><circle cx="412" cy="471.3" r="1" fill="#f3c83d" stroke="#dcae2a" stroke-width="0.2"/><path d="M407.3,478.6L412,478.6" stroke="#e4cb72" stroke-width="0.5" fill="none"/><circle cx="412" cy="478.6" r="1" fill="#f3c83d" stroke="#dcae2a" stroke-width="0.2"/><path d="M409,479.3L411.8,479.3" stroke="#e4cb72" stroke-width="0.5" fill="none"/><circle cx="411.8" cy="479.3" r="1" fill="#f3c83d" stroke="#dcae2a" stroke-width="0.2"/><path d="M415,477.1L417.6,477.1" stroke="#e4cb72" stroke-width="0.5" fill="none"/><circle cx="417.6" cy="477.1" r="1" fill="#f3c83d" stroke="#dcae2a" stroke-width="0.2"/><path d="M412.4,475.8L416.7,475.8" stroke="#e4cb72" stroke-width="0.5" fill="none"/><circle cx="416.7" cy="475.8" r="1" fill="#f3c83d" stroke="#dcae2a" stroke-width="0.2"/><path d="M408.4,477.1L413.3,477.1" stroke="#e4cb72" stroke-width="0.5" fill="none"/><circle cx="413.3" cy="477.1" r="1" fill="#f3c83d" stroke="#dcae2a" stroke-width="0.2"/><path d="M414.8,474.4L416.7,474.4" stroke="#e4cb72" stroke-width="0.5" fill="none"/><circle cx="416.7" cy="474.4" r="1" fill="#f3c83d" stroke="#dcae2a" stroke-width="0.2"/><path d="M411.2,472.2L415.2,472.2" stroke="#e4cb72" stroke-width="0.5" fill="none"/><circle cx="415.2" cy="472.2" r="1" fill="#f3c83d" stroke="#dcae2a" stroke-width="0.2"/><path d="M414.6,474.8L416.8,474.8" stroke="#e4cb72" stroke-width="0.5" fill="none"/><circle cx="416.8" cy="474.8" r="1" fill="#f3c83d" stroke="#dcae2a" stroke-width="0.2"/><path d="M414.4,475.6L416.5,475.6" stroke="#e4cb72" stroke-width="0.5" fill="none"/><circle cx="416.5" cy="475.6" r="1" fill="#f3c83d" stroke="#dcae2a" stroke-width="0.2"/><path d="M416.6,475.9L418.6,475.9" stroke="#e4cb72" stroke-width="0.5" fill="none"/><circle cx="418.6" cy="475.9" r="1" fill="#f3c83d" stroke="#dcae2a" stroke-width="0.2"/><path d="M416.3,469.7L418.9,469.7" stroke="#e4cb72" stroke-width="0.5" fill="none"/><circle cx="418.9" cy="469.7" r="1" fill="#f3c83d" stroke="#dcae2a" stroke-width="0.2"/><path d="M410,486L413.5,486" stroke="#e4cb72" stroke-width="0.5" fill="none"/><circle cx="413.5" cy="486" r="1" fill="#f3c83d" stroke="#dcae2a" stroke-width="0.2"/><path d="M410.4,484.6L413,484.6" stroke="#e4cb72" stroke-width="0.5" fill="none"/><circle cx="413" cy="484.6" r="1" fill="#f3c83d" stroke="#dcae2a" stroke-width="0.2"/><path d="M405.6,480.7L409.6,480.7" stroke="#e4cb72" stroke-width="0.5" fill="none"/><circle cx="409.6" cy="480.7" r="1" fill="#f3c83d" stroke="#dcae2a" stroke-width="0.2"/><path d="M409.6,485.4L413.7,485.4" stroke="#e4cb72" stroke-width="0.5" fill="none"/><circle cx="413.7" cy="485.4" r="1" fill="#f3c83d" stroke="#dcae2a" stroke-width="0.2"/><path d="M408,482.7L410.9,482.7" stroke="#e4cb72" stroke-width="0.5" fill="none"/><circle cx="410.9" cy="482.7" r="1" fill="#f3c83d" stroke="#dcae2a" stroke-width="0.2"/><path d="M411.3,480.4L414.6,480.4" stroke="#e4cb72" stroke-width="0.5" fill="none"/><circle cx="414.6" cy="480.4" r="1" fill="#f3c83d" stroke="#dcae2a" stroke-width="0.2"/><path d="M407.3,487.7L410.1,487.7" stroke="#e4cb72" stroke-width="0.5" fill="none"/><circle cx="410.1" cy="487.7" r="1" fill="#f3c83d" stroke="#dcae2a" stroke-width="0.2"/><path d="M407.3,484L410.7,484" stroke="#e4cb72" stroke-width="0.5" fill="none"/><circle cx="410.7" cy="484" r="1" fill="#f3c83d" stroke="#dcae2a" stroke-width="0.2"/><path d="M409.4,483.5L413.9,483.5" stroke="#e4cb72" stroke-width="0.5" fill="none"/><circle cx="413.9" cy="483.5" r="1" fill="#f3c83d" stroke="#dcae2a" stroke-width="0.2"/><path d="M407.3,482.7L409.1,482.7" stroke="#e4cb72" stroke-width="0.5" fill="none"/><circle cx="409.1" cy="482.7" r="1" fill="#f3c83d" stroke="#dcae2a" stroke-width="0.2"/><path d="M405.1,487.8L409.1,487.8" stroke="#e4cb72" stroke-width="0.5" fill="none"/><circle cx="409.1" cy="487.8" r="1" fill="#f3c83d" stroke="#dcae2a" stroke-width="0.2"/><path d="M406.7,481.9L409.6,481.9" stroke="#e4cb72" stroke-width="0.5" fill="none"/><circle cx="409.6" cy="481.9" r="1" fill="#f3c83d" stroke="#dcae2a" stroke-width="0.2"/><path d="M409.5,488.2L413.7,488.2" stroke="#e4cb72" stroke-width="0.5" fill="none"/><circle cx="413.7" cy="488.2" r="1" fill="#f3c83d" stroke="#dcae2a" stroke-width="0.2"/><path d="M409.7,481.5L412.6,481.5" stroke="#e4cb72" stroke-width="0.5" fill="none"/><circle cx="412.6" cy="481.5" r="1" fill="#f3c83d" stroke="#dcae2a" stroke-width="0.2"/><path d="M406.2,485.3L409.7,485.3" stroke="#e4cb72" stroke-width="0.5" fill="none"/><circle cx="409.7" cy="485.3" r="1" fill="#f3c83d" stroke="#dcae2a" stroke-width="0.2"/><path d="M405.5,482.5L409.8,482.5" stroke="#e4cb72" stroke-width="0.5" fill="none"/><circle cx="409.8" cy="482.5" r="1" fill="#f3c83d" stroke="#dcae2a" stroke-width="0.2"/><path d="M403.9,488L408.5,488" stroke="#e4cb72" stroke-width="0.5" fill="none"/><circle cx="408.5" cy="488" r="1" fill="#f3c83d" stroke="#dcae2a" stroke-width="0.2"/><path d="M411.7,483.8L415.1,483.8" stroke="#e4cb72" stroke-width="0.5" fill="none"/><circle cx="415.1" cy="483.8" r="1" fill="#f3c83d" stroke="#dcae2a" stroke-width="0.2"/><path d="M411.3,499.3L416.2,499.3" stroke="#e4cb72" stroke-width="0.5" fill="none"/><circle cx="416.2" cy="499.3" r="1" fill="#f3c83d" stroke="#dcae2a" stroke-width="0.2"/><path d="M412.7,495.4L417.2,495.4" stroke="#e4cb72" stroke-width="0.5" fill="none"/><circle cx="417.2" cy="495.4" r="1" fill="#f3c83d" stroke="#dcae2a" stroke-width="0.2"/><path d="M411.3,498.9L415.4,498.9" stroke="#e4cb72" stroke-width="0.5" fill="none"/><circle cx="415.4" cy="498.9" r="1" fill="#f3c83d" stroke="#dcae2a" stroke-width="0.2"/><path d="M407.2,500.9L411,500.9" stroke="#e4cb72" stroke-width="0.5" fill="none"/><circle cx="411" cy="500.9" r="1" fill="#f3c83d" stroke="#dcae2a" stroke-width="0.2"/><path d="M412.3,498L415.4,498" stroke="#e4cb72" stroke-width="0.5" fill="none"/><circle cx="415.4" cy="498" r="1" fill="#f3c83d" stroke="#dcae2a" stroke-width="0.2"/><path d="M411.1,498.1L412.7,498.1" stroke="#e4cb72" stroke-width="0.5" fill="none"/><circle cx="412.7" cy="498.1" r="1" fill="#f3c83d" stroke="#dcae2a" stroke-width="0.2"/><path d="M412.4,499.4L415.5,499.4" stroke="#e4cb72" stroke-width="0.5" fill="none"/><circle cx="415.5" cy="499.4" r="1" fill="#f3c83d" stroke="#dcae2a" stroke-width="0.2"/><path d="M411.5,503L416.1,503" stroke="#e4cb72" stroke-width="0.5" fill="none"/><circle cx="416.1" cy="503" r="1" fill="#f3c83d" stroke="#dcae2a" stroke-width="0.2"/><path d="M408.5,501.1L412.2,501.1" stroke="#e4cb72" stroke-width="0.5" fill="none"/><circle cx="412.2" cy="501.1" r="1" fill="#f3c83d" stroke="#dcae2a" stroke-width="0.2"/><path d="M409.1,496.1L411.5,496.1" stroke="#e4cb72" stroke-width="0.5" fill="none"/><circle cx="411.5" cy="496.1" r="1" fill="#f3c83d" stroke="#dcae2a" stroke-width="0.2"/><path d="M406.9,498.2L411.7,498.2" stroke="#e4cb72" stroke-width="0.5" fill="none"/><circle cx="411.7" cy="498.2" r="1" fill="#f3c83d" stroke="#dcae2a" stroke-width="0.2"/><path d="M410,502L413.9,502" stroke="#e4cb72" stroke-width="0.5" fill="none"/><circle cx="413.9" cy="502" r="1" fill="#f3c83d" stroke="#dcae2a" stroke-width="0.2"/><path d="M408.6,501.9L412.2,501.9" stroke="#e4cb72" stroke-width="0.5" fill="none"/><circle cx="412.2" cy="501.9" r="1" fill="#f3c83d" stroke="#dcae2a" stroke-width="0.2"/><path d="M415.3,500.2L419.3,500.2" stroke="#e4cb72" stroke-width="0.5" fill="none"/><circle cx="419.3" cy="500.2" r="1" fill="#f3c83d" stroke="#dcae2a" stroke-width="0.2"/><path d="M409.3,501.3L414.1,501.3" stroke="#e4cb72" stroke-width="0.5" fill="none"/><circle cx="414.1" cy="501.3" r="1" fill="#f3c83d" stroke="#dcae2a" stroke-width="0.2"/><path d="M414.6,497L418.8,497" stroke="#e4cb72" stroke-width="0.5" fill="none"/><circle cx="418.8" cy="497" r="1" fill="#f3c83d" stroke="#dcae2a" stroke-width="0.2"/><path d="M413.7,493.3L415.4,493.3" stroke="#e4cb72" stroke-width="0.5" fill="none"/><circle cx="415.4" cy="493.3" r="1" fill="#f3c83d" stroke="#dcae2a" stroke-width="0.2"/><path d="M409.6,494.3L411.7,494.3" stroke="#e4cb72" stroke-width="0.5" fill="none"/><circle cx="411.7" cy="494.3" r="1" fill="#f3c83d" stroke="#dcae2a" stroke-width="0.2"/><path d="M412.1,500L415.5,500" stroke="#e4cb72" stroke-width="0.5" fill="none"/><circle cx="415.5" cy="500" r="1" fill="#f3c83d" stroke="#dcae2a" stroke-width="0.2"/><path d="M412.2,499.5L414.8,499.5" stroke="#e4cb72" stroke-width="0.5" fill="none"/><circle cx="414.8" cy="499.5" r="1" fill="#f3c83d" stroke="#dcae2a" stroke-width="0.2"/><path d="M412.3,500.7L415.2,500.7" stroke="#e4cb72" stroke-width="0.5" fill="none"/><circle cx="415.2" cy="500.7" r="1" fill="#f3c83d" stroke="#dcae2a" stroke-width="0.2"/><path d="M408.6,502.3L412.6,502.3" stroke="#e4cb72" stroke-width="0.5" fill="none"/><circle cx="412.6" cy="502.3" r="1" fill="#f3c83d" stroke="#dcae2a" stroke-width="0.2"/><path d="M405.8,490.5L409.2,490.5" stroke="#e4cb72" stroke-width="0.5" fill="none"/><circle cx="409.2" cy="490.5" r="1" fill="#f3c83d" stroke="#dcae2a" stroke-width="0.2"/><path d="M409.1,489.9L410.6,489.9" stroke="#e4cb72" stroke-width="0.5" fill="none"/><circle cx="410.6" cy="489.9" r="1" fill="#f3c83d" stroke="#dcae2a" stroke-width="0.2"/><path d="M406.3,492.1L408.3,492.1" stroke="#e4cb72" stroke-width="0.5" fill="none"/><circle cx="408.3" cy="492.1" r="1" fill="#f3c83d" stroke="#dcae2a" stroke-width="0.2"/><path d="M407.5,489.8L409.8,489.8" stroke="#e4cb72" stroke-width="0.5" fill="none"/><circle cx="409.8" cy="489.8" r="1" fill="#f3c83d" stroke="#dcae2a" stroke-width="0.2"/><path d="M405.9,490.6L408,490.6" stroke="#e4cb72" stroke-width="0.5" fill="none"/><circle cx="408" cy="490.6" r="1" fill="#f3c83d" stroke="#dcae2a" stroke-width="0.2"/><path d="M403.1,504.8L405.2,504.8" stroke="#e4cb72" stroke-width="0.5" fill="none"/><circle cx="405.2" cy="504.8" r="1" fill="#f3c83d" stroke="#dcae2a" stroke-width="0.2"/><path d="M406.6,504L408.2,504" stroke="#e4cb72" stroke-width="0.5" fill="none"/><circle cx="408.2" cy="504" r="1" fill="#f3c83d" stroke="#dcae2a" stroke-width="0.2"/><path d="M404,509.7L407.9,509.7" stroke="#e4cb72" stroke-width="0.5" fill="none"/><circle cx="407.9" cy="509.7" r="1" fill="#f3c83d" stroke="#dcae2a" stroke-width="0.2"/><path d="M402.4,509.7L405.3,509.7" stroke="#e4cb72" stroke-width="0.5" fill="none"/><circle cx="405.3" cy="509.7" r="1" fill="#f3c83d" stroke="#dcae2a" stroke-width="0.2"/><path d="M402.9,518.9L405.2,518.9" stroke="#e4cb72" stroke-width="0.5" fill="none"/><circle cx="405.2" cy="518.9" r="1" fill="#f3c83d" stroke="#dcae2a" stroke-width="0.2"/><path d="M403.5,510.8L405.6,510.8" stroke="#e4cb72" stroke-width="0.5" fill="none"/><circle cx="405.6" cy="510.8" r="1" fill="#f3c83d" stroke="#dcae2a" stroke-width="0.2"/><path d="M407.1,508.7L409,508.7" stroke="#e4cb72" stroke-width="0.5" fill="none"/><circle cx="409" cy="508.7" r="1" fill="#f3c83d" stroke="#dcae2a" stroke-width="0.2"/><path d="M402.9,515L405.3,515" stroke="#e4cb72" stroke-width="0.5" fill="none"/><circle cx="405.3" cy="515" r="1" fill="#f3c83d" stroke="#dcae2a" stroke-width="0.2"/><path d="M405.4,510.7L410.1,510.7" stroke="#e4cb72" stroke-width="0.5" fill="none"/><circle cx="410.1" cy="510.7" r="1" fill="#f3c83d" stroke="#dcae2a" stroke-width="0.2"/><path d="M404.5,507.1L407,507.1" stroke="#e4cb72" stroke-width="0.5" fill="none"/><circle cx="407" cy="507.1" r="1" fill="#f3c83d" stroke="#dcae2a" stroke-width="0.2"/><path d="M407.6,513.4L410.3,513.4" stroke="#e4cb72" stroke-width="0.5" fill="none"/><circle cx="410.3" cy="513.4" r="1" fill="#f3c83d" stroke="#dcae2a" stroke-width="0.2"/><path d="M400.7,514.3L405.6,514.3" stroke="#e4cb72" stroke-width="0.5" fill="none"/><circle cx="405.6" cy="514.3" r="1" fill="#f3c83d" stroke="#dcae2a" stroke-width="0.2"/><path d="M407.2,503.1L408.8,503.1" stroke="#e4cb72" stroke-width="0.5" fill="none"/><circle cx="408.8" cy="503.1" r="1" fill="#f3c83d" stroke="#dcae2a" stroke-width="0.2"/><path d="M404,505.8L405.6,505.8" stroke="#e4cb72" stroke-width="0.5" fill="none"/><circle cx="405.6" cy="505.8" r="1" fill="#f3c83d" stroke="#dcae2a" stroke-width="0.2"/><path d="M400.7,513.8L405.4,513.8" stroke="#e4cb72" stroke-width="0.5" fill="none"/><circle cx="405.4" cy="513.8" r="1" fill="#f3c83d" stroke="#dcae2a" stroke-width="0.2"/><path d="M403.1,519.1L406.3,519.1" stroke="#e4cb72" stroke-width="0.5" fill="none"/><circle cx="406.3" cy="519.1" r="1" fill="#f3c83d" stroke="#dcae2a" stroke-width="0.2"/><path d="M405.4,518.1L410.2,518.1" stroke="#e4cb72" stroke-width="0.5" fill="none"/><circle cx="410.2" cy="518.1" r="1" fill="#f3c83d" stroke="#dcae2a" stroke-width="0.2"/><path d="M401.6,508L405.2,508" stroke="#e4cb72" stroke-width="0.5" fill="none"/><circle cx="405.2" cy="508" r="1" fill="#f3c83d" stroke="#dcae2a" stroke-width="0.2"/><path d="M408.6,504.4L411.2,504.4" stroke="#e4cb72" stroke-width="0.5" fill="none"/><circle cx="411.2" cy="504.4" r="1" fill="#f3c83d" stroke="#dcae2a" stroke-width="0.2"/><path d="M407.7,504.9L410.5,504.9" stroke="#e4cb72" stroke-width="0.5" fill="none"/><circle cx="410.5" cy="504.9" r="1" fill="#f3c83d" stroke="#dcae2a" stroke-width="0.2"/><path d="M402.4,514.2L407.2,514.2" stroke="#e4cb72" stroke-width="0.5" fill="none"/><circle cx="407.2" cy="514.2" r="1" fill="#f3c83d" stroke="#dcae2a" stroke-width="0.2"/><path d="M402.1,515.2L406.1,515.2" stroke="#e4cb72" stroke-width="0.5" fill="none"/><circle cx="406.1" cy="515.2" r="1" fill="#f3c83d" stroke="#dcae2a" stroke-width="0.2"/><path d="M405.7,512.1L410.4,512.1" stroke="#e4cb72" stroke-width="0.5" fill="none"/><circle cx="410.4" cy="512.1" r="1" fill="#f3c83d" stroke="#dcae2a" stroke-width="0.2"/><path d="M405.1,509.8L407.4,509.8" stroke="#e4cb72" stroke-width="0.5" fill="none"/><circle cx="407.4" cy="509.8" r="1" fill="#f3c83d" stroke="#dcae2a" stroke-width="0.2"/><path d="M408.9,521.9L411.3,521.9" stroke="#e4cb72" stroke-width="0.5" fill="none"/><circle cx="411.3" cy="521.9" r="1" fill="#f3c83d" stroke="#dcae2a" stroke-width="0.2"/><path d="M398.8,523.3L402.5,523.3" stroke="#e4cb72" stroke-width="0.5" fill="none"/><circle cx="402.5" cy="523.3" r="1" fill="#f3c83d" stroke="#dcae2a" stroke-width="0.2"/><path d="M407.1,521.3L410.3,521.3" stroke="#e4cb72" stroke-width="0.5" fill="none"/><circle cx="410.3" cy="521.3" r="1" fill="#f3c83d" stroke="#dcae2a" stroke-width="0.2"/><path d="M400.7,523.3L402.2,523.3" stroke="#e4cb72" stroke-width="0.5" fill="none"/><circle cx="402.2" cy="523.3" r="1" fill="#f3c83d" stroke="#dcae2a" stroke-width="0.2"/><path d="M402.9,523.6L406.8,523.6" stroke="#e4cb72" stroke-width="0.5" fill="none"/><circle cx="406.8" cy="523.6" r="1" fill="#f3c83d" stroke="#dcae2a" stroke-width="0.2"/><path d="M397,520.4L401.4,520.4" stroke="#e4cb72" stroke-width="0.5" fill="none"/><circle cx="401.4" cy="520.4" r="1" fill="#f3c83d" stroke="#dcae2a" stroke-width="0.2"/><path d="M404.8,524.3L409.3,524.3" stroke="#e4cb72" stroke-width="0.5" fill="none"/><circle cx="409.3" cy="524.3" r="1" fill="#f3c83d" stroke="#dcae2a" stroke-width="0.2"/><path d="M402.5,524.4L406.5,524.4" stroke="#e4cb72" stroke-width="0.5" fill="none"/><circle cx="406.5" cy="524.4" r="1" fill="#f3c83d" stroke="#dcae2a" stroke-width="0.2"/><path d="M403.1,521.2L404.8,521.2" stroke="#e4cb72" stroke-width="0.5" fill="none"/><circle cx="404.8" cy="521.2" r="1" fill="#f3c83d" stroke="#dcae2a" stroke-width="0.2"/><path d="M403.9,524.7L405.8,524.7" stroke="#e4cb72" stroke-width="0.5" fill="none"/><circle cx="405.8" cy="524.7" r="1" fill="#f3c83d" stroke="#dcae2a" stroke-width="0.2"/><path d="M406.5,519.7L408.2,519.7" stroke="#e4cb72" stroke-width="0.5" fill="none"/><circle cx="408.2" cy="519.7" r="1" fill="#f3c83d" stroke="#dcae2a" stroke-width="0.2"/><path d="M407.7,520.4L409.4,520.4" stroke="#e4cb72" stroke-width="0.5" fill="none"/><circle cx="409.4" cy="520.4" r="1" fill="#f3c83d" stroke="#dcae2a" stroke-width="0.2"/><path d="M398.7,522.9L402.2,522.9" stroke="#e4cb72" stroke-width="0.5" fill="none"/><circle cx="402.2" cy="522.9" r="1" fill="#f3c83d" stroke="#dcae2a" stroke-width="0.2"/><path d="M395.3,520.4L400.2,520.4" stroke="#e4cb72" stroke-width="0.5" fill="none"/><circle cx="400.2" cy="520.4" r="1" fill="#f3c83d" stroke="#dcae2a" stroke-width="0.2"/><path d="M400.2,522.4L403.2,522.4" stroke="#e4cb72" stroke-width="0.5" fill="none"/><circle cx="403.2" cy="522.4" r="1" fill="#f3c83d" stroke="#dcae2a" stroke-width="0.2"/><path d="M407.1,522.6L411.3,522.6" stroke="#e4cb72" stroke-width="0.5" fill="none"/><circle cx="411.3" cy="522.6" r="1" fill="#f3c83d" stroke="#dcae2a" stroke-width="0.2"/><circle cx="417.7" cy="507" r="1" fill="#62a8dc" stroke="#4a8fc4" stroke-width="0.2"/></svg></body></html>
